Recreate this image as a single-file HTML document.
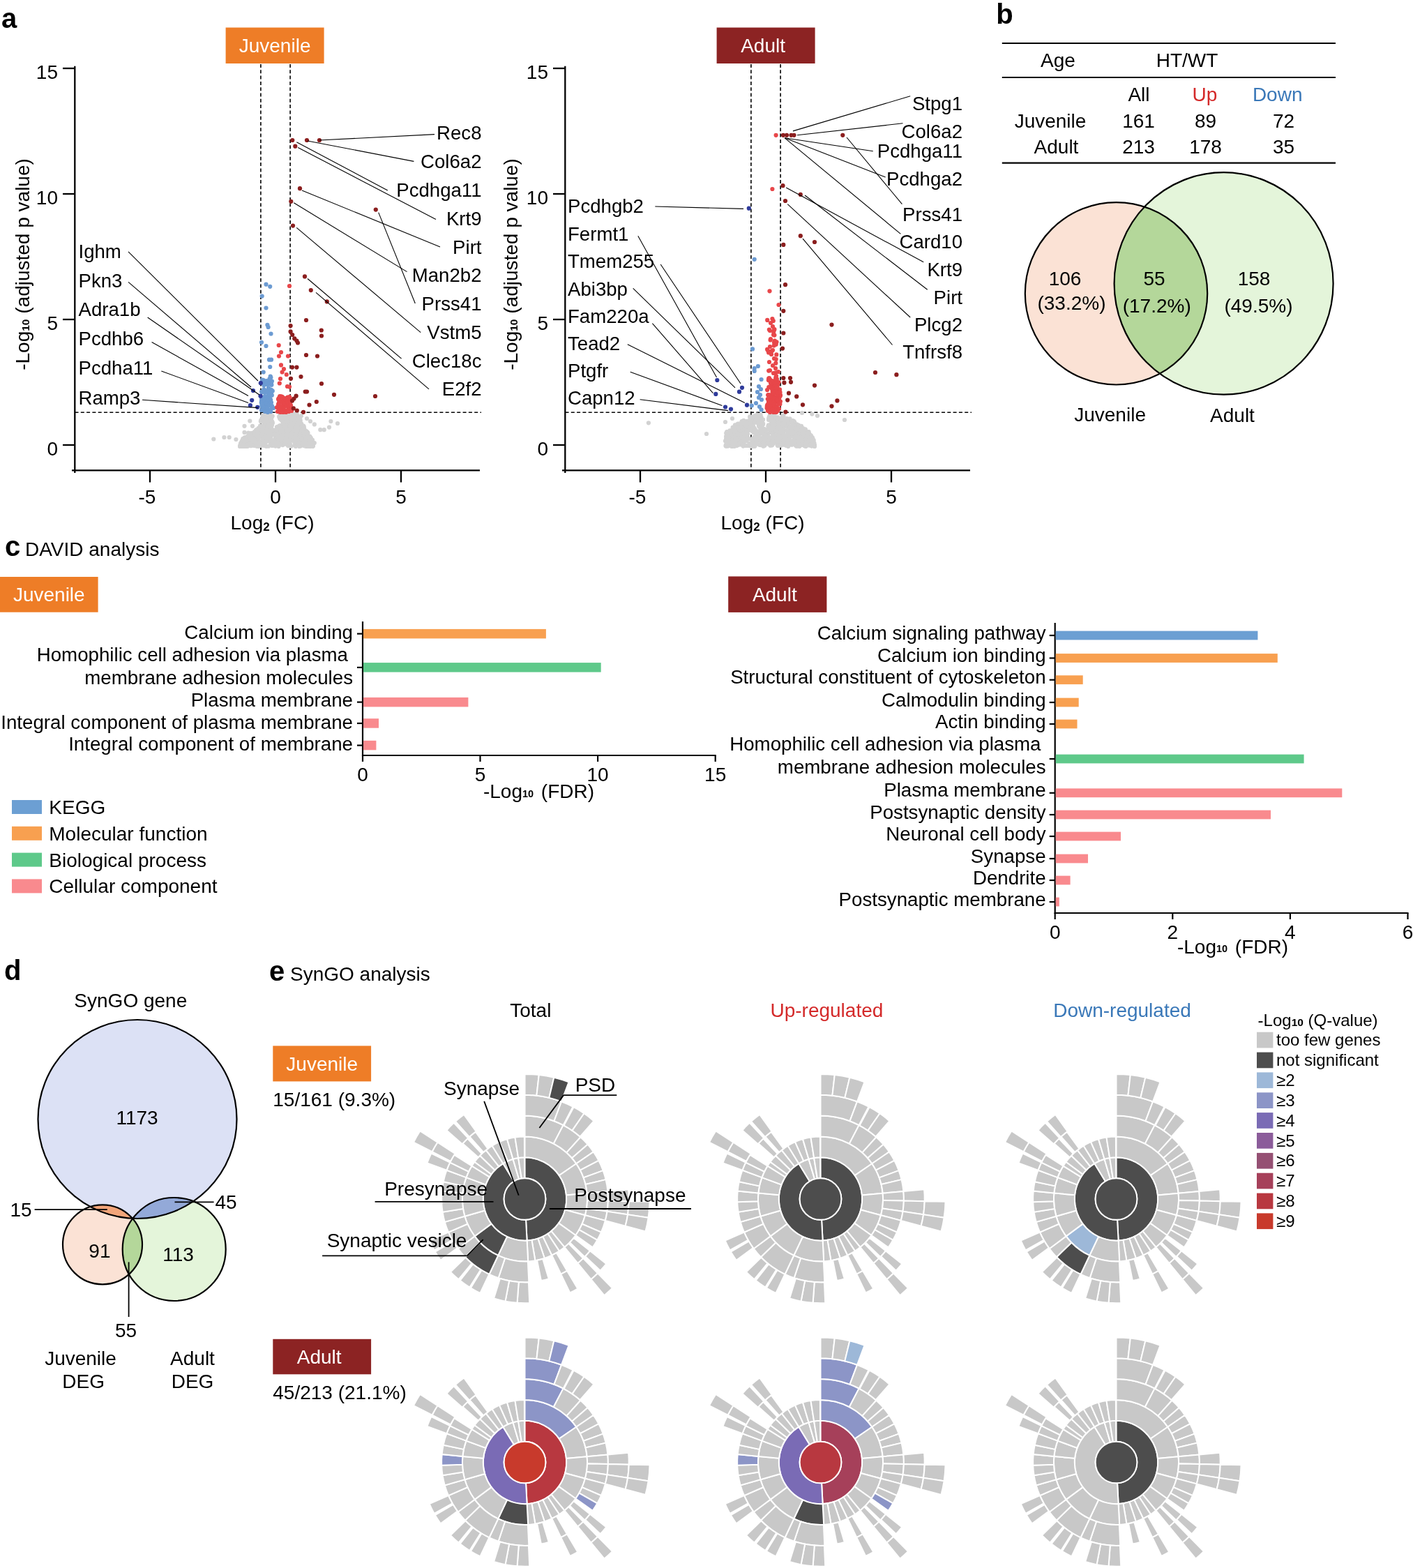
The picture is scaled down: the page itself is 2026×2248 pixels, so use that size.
<!DOCTYPE html>
<html><head><meta charset="utf-8"><title>Figure</title>
<style>html,body{margin:0;padding:0;background:#fff;} svg{display:block;} text{font-family:"Liberation Sans", Arial, Helvetica, sans-serif;}</style>
</head><body>
<svg width="2026" height="2248" viewBox="0 0 2026 2248" font-family='"Liberation Sans", Arial, Helvetica, sans-serif'>
<rect width="2026" height="2248" fill="#fff"/>
<text x="2.0" y="40.0" font-size="40" font-weight="bold">a</text>
<rect x="323.6" y="39.5" width="141.0" height="51.5" fill="#ee7d27"/>
<text x="394.1" y="75.3" font-size="28" text-anchor="middle" fill="#fff">Juvenile</text>
<line x1="373.9" y1="92.0" x2="373.9" y2="674.0" stroke="#000" stroke-width="1.6" stroke-dasharray="5,3.3"/>
<line x1="416.1" y1="92.0" x2="416.1" y2="674.0" stroke="#000" stroke-width="1.6" stroke-dasharray="5,3.3"/>
<line x1="107.5" y1="591.2" x2="690.0" y2="591.2" stroke="#000" stroke-width="1.6" stroke-dasharray="5,3.3"/>
<g fill="#d2d2d2">
<circle cx="358.1" cy="625.0" r="3.1"/>
<circle cx="424.2" cy="628.0" r="3.1"/>
<circle cx="396.0" cy="618.9" r="3.1"/>
<circle cx="412.4" cy="602.9" r="3.1"/>
<circle cx="353.9" cy="639.6" r="3.1"/>
<circle cx="431.8" cy="624.1" r="3.1"/>
<circle cx="424.0" cy="639.9" r="3.1"/>
<circle cx="390.8" cy="606.1" r="3.1"/>
<circle cx="368.0" cy="616.8" r="3.1"/>
<circle cx="438.6" cy="639.3" r="3.1"/>
<circle cx="346.7" cy="635.7" r="3.1"/>
<circle cx="442.6" cy="633.1" r="3.1"/>
<circle cx="366.7" cy="630.1" r="3.1"/>
<circle cx="347.0" cy="638.1" r="3.1"/>
<circle cx="390.0" cy="616.7" r="3.1"/>
<circle cx="368.5" cy="634.3" r="3.1"/>
<circle cx="367.0" cy="629.1" r="3.1"/>
<circle cx="374.4" cy="639.0" r="3.1"/>
<circle cx="431.9" cy="619.8" r="3.1"/>
<circle cx="411.4" cy="631.3" r="3.1"/>
<circle cx="448.2" cy="632.6" r="3.1"/>
<circle cx="356.7" cy="634.4" r="3.1"/>
<circle cx="419.8" cy="606.6" r="3.1"/>
<circle cx="442.3" cy="632.2" r="3.1"/>
<circle cx="431.2" cy="614.6" r="3.1"/>
<circle cx="375.9" cy="612.4" r="3.1"/>
<circle cx="436.7" cy="616.8" r="3.1"/>
<circle cx="397.1" cy="612.3" r="3.1"/>
<circle cx="347.6" cy="637.5" r="3.1"/>
<circle cx="427.7" cy="621.8" r="3.1"/>
<circle cx="362.2" cy="628.8" r="3.1"/>
<circle cx="417.8" cy="608.3" r="3.1"/>
<circle cx="383.3" cy="619.4" r="3.1"/>
<circle cx="398.7" cy="621.5" r="3.1"/>
<circle cx="395.4" cy="638.6" r="3.1"/>
<circle cx="348.6" cy="632.0" r="3.1"/>
<circle cx="447.2" cy="632.9" r="3.1"/>
<circle cx="385.3" cy="632.0" r="3.1"/>
<circle cx="424.9" cy="614.6" r="3.1"/>
<circle cx="434.3" cy="632.6" r="3.1"/>
<circle cx="404.7" cy="618.4" r="3.1"/>
<circle cx="372.3" cy="624.8" r="3.1"/>
<circle cx="444.5" cy="639.9" r="3.1"/>
<circle cx="426.3" cy="601.8" r="3.1"/>
<circle cx="437.0" cy="620.2" r="3.1"/>
<circle cx="429.0" cy="618.3" r="3.1"/>
<circle cx="402.9" cy="620.0" r="3.1"/>
<circle cx="349.9" cy="629.3" r="3.1"/>
<circle cx="403.8" cy="630.6" r="3.1"/>
<circle cx="397.0" cy="617.2" r="3.1"/>
<circle cx="381.5" cy="623.7" r="3.1"/>
<circle cx="400.5" cy="610.7" r="3.1"/>
<circle cx="408.3" cy="618.5" r="3.1"/>
<circle cx="346.9" cy="638.0" r="3.1"/>
<circle cx="362.6" cy="627.9" r="3.1"/>
<circle cx="434.4" cy="614.7" r="3.1"/>
<circle cx="427.7" cy="604.0" r="3.1"/>
<circle cx="370.8" cy="617.5" r="3.1"/>
<circle cx="414.7" cy="636.1" r="3.1"/>
<circle cx="345.8" cy="639.9" r="3.1"/>
<circle cx="423.3" cy="628.3" r="3.1"/>
<circle cx="355.5" cy="630.0" r="3.1"/>
<circle cx="380.2" cy="636.7" r="3.1"/>
<circle cx="360.8" cy="629.7" r="3.1"/>
<circle cx="361.7" cy="634.5" r="3.1"/>
<circle cx="418.7" cy="618.6" r="3.1"/>
<circle cx="377.8" cy="617.7" r="3.1"/>
<circle cx="346.5" cy="637.1" r="3.1"/>
<circle cx="388.2" cy="631.2" r="3.1"/>
<circle cx="355.4" cy="625.7" r="3.1"/>
<circle cx="397.6" cy="630.2" r="3.1"/>
<circle cx="407.6" cy="601.6" r="3.1"/>
<circle cx="346.2" cy="639.9" r="3.1"/>
<circle cx="359.4" cy="626.6" r="3.1"/>
<circle cx="360.8" cy="626.2" r="3.1"/>
<circle cx="415.2" cy="614.4" r="3.1"/>
<circle cx="367.2" cy="616.7" r="3.1"/>
<circle cx="427.8" cy="617.3" r="3.1"/>
<circle cx="367.4" cy="624.4" r="3.1"/>
<circle cx="385.5" cy="612.9" r="3.1"/>
<circle cx="377.7" cy="610.3" r="3.1"/>
<circle cx="350.2" cy="636.3" r="3.1"/>
<circle cx="445.6" cy="627.6" r="3.1"/>
<circle cx="376.2" cy="599.6" r="3.1"/>
<circle cx="376.6" cy="595.9" r="3.1"/>
<circle cx="422.1" cy="620.4" r="3.1"/>
<circle cx="370.5" cy="639.8" r="3.1"/>
<circle cx="436.3" cy="638.9" r="3.1"/>
<circle cx="430.0" cy="601.6" r="3.1"/>
<circle cx="403.9" cy="631.9" r="3.1"/>
<circle cx="435.1" cy="610.5" r="3.1"/>
<circle cx="417.9" cy="616.1" r="3.1"/>
<circle cx="383.7" cy="623.7" r="3.1"/>
<circle cx="365.6" cy="624.7" r="3.1"/>
<circle cx="389.5" cy="630.9" r="3.1"/>
<circle cx="355.0" cy="629.6" r="3.1"/>
<circle cx="375.1" cy="616.5" r="3.1"/>
<circle cx="378.2" cy="599.0" r="3.1"/>
<circle cx="438.5" cy="639.6" r="3.1"/>
<circle cx="365.1" cy="632.7" r="3.1"/>
<circle cx="447.6" cy="631.0" r="3.1"/>
<circle cx="379.6" cy="630.0" r="3.1"/>
<circle cx="414.8" cy="600.6" r="3.1"/>
<circle cx="441.9" cy="633.4" r="3.1"/>
<circle cx="436.7" cy="621.1" r="3.1"/>
<circle cx="368.6" cy="621.8" r="3.1"/>
<circle cx="352.9" cy="637.6" r="3.1"/>
<circle cx="439.7" cy="635.3" r="3.1"/>
<circle cx="423.7" cy="611.8" r="3.1"/>
<circle cx="432.3" cy="626.9" r="3.1"/>
<circle cx="379.7" cy="626.3" r="3.1"/>
<circle cx="435.1" cy="621.6" r="3.1"/>
<circle cx="444.2" cy="625.7" r="3.1"/>
<circle cx="358.2" cy="630.2" r="3.1"/>
<circle cx="354.9" cy="639.4" r="3.1"/>
<circle cx="351.7" cy="628.3" r="3.1"/>
<circle cx="426.8" cy="602.2" r="3.1"/>
<circle cx="379.8" cy="611.1" r="3.1"/>
<circle cx="426.1" cy="622.3" r="3.1"/>
<circle cx="403.9" cy="629.5" r="3.1"/>
<circle cx="352.6" cy="636.3" r="3.1"/>
<circle cx="437.5" cy="625.5" r="3.1"/>
<circle cx="441.1" cy="630.8" r="3.1"/>
<circle cx="373.1" cy="613.4" r="3.1"/>
<circle cx="430.9" cy="639.5" r="3.1"/>
<circle cx="414.4" cy="635.7" r="3.1"/>
<circle cx="356.1" cy="625.5" r="3.1"/>
<circle cx="348.2" cy="637.3" r="3.1"/>
<circle cx="447.8" cy="635.2" r="3.1"/>
<circle cx="356.1" cy="637.3" r="3.1"/>
<circle cx="369.3" cy="621.0" r="3.1"/>
<circle cx="354.8" cy="625.9" r="3.1"/>
<circle cx="383.7" cy="594.4" r="3.1"/>
<circle cx="439.5" cy="633.4" r="3.1"/>
<circle cx="370.6" cy="627.3" r="3.1"/>
<circle cx="354.5" cy="630.0" r="3.1"/>
<circle cx="348.2" cy="639.9" r="3.1"/>
<circle cx="447.2" cy="636.4" r="3.1"/>
<circle cx="406.6" cy="618.9" r="3.1"/>
<circle cx="376.9" cy="637.0" r="3.1"/>
<circle cx="439.9" cy="618.9" r="3.1"/>
<circle cx="445.8" cy="638.5" r="3.1"/>
<circle cx="366.6" cy="625.5" r="3.1"/>
<circle cx="446.9" cy="633.2" r="3.1"/>
<circle cx="416.3" cy="608.9" r="3.1"/>
<circle cx="371.2" cy="625.4" r="3.1"/>
<circle cx="376.3" cy="628.4" r="3.1"/>
<circle cx="352.5" cy="636.1" r="3.1"/>
<circle cx="447.3" cy="634.6" r="3.1"/>
<circle cx="412.5" cy="609.8" r="3.1"/>
<circle cx="442.8" cy="633.0" r="3.1"/>
<circle cx="376.2" cy="624.6" r="3.1"/>
<circle cx="377.3" cy="600.2" r="3.1"/>
<circle cx="437.8" cy="632.4" r="3.1"/>
<circle cx="379.1" cy="614.4" r="3.1"/>
<circle cx="404.8" cy="612.0" r="3.1"/>
<circle cx="369.7" cy="639.5" r="3.1"/>
<circle cx="369.6" cy="638.1" r="3.1"/>
<circle cx="401.9" cy="636.7" r="3.1"/>
<circle cx="351.9" cy="631.4" r="3.1"/>
<circle cx="374.5" cy="602.8" r="3.1"/>
<circle cx="360.2" cy="630.4" r="3.1"/>
<circle cx="427.5" cy="636.6" r="3.1"/>
<circle cx="443.7" cy="637.1" r="3.1"/>
<circle cx="425.5" cy="593.7" r="3.1"/>
<circle cx="430.3" cy="627.4" r="3.1"/>
<circle cx="355.2" cy="631.9" r="3.1"/>
<circle cx="440.5" cy="633.8" r="3.1"/>
<circle cx="437.8" cy="636.4" r="3.1"/>
<circle cx="439.6" cy="639.3" r="3.1"/>
<circle cx="377.2" cy="597.6" r="3.1"/>
<circle cx="428.4" cy="601.2" r="3.1"/>
<circle cx="432.3" cy="613.4" r="3.1"/>
<circle cx="416.4" cy="631.6" r="3.1"/>
<circle cx="389.4" cy="632.6" r="3.1"/>
<circle cx="419.1" cy="608.6" r="3.1"/>
<circle cx="370.5" cy="638.3" r="3.1"/>
<circle cx="445.2" cy="628.0" r="3.1"/>
<circle cx="401.7" cy="614.6" r="3.1"/>
<circle cx="433.4" cy="624.8" r="3.1"/>
<circle cx="385.5" cy="624.1" r="3.1"/>
<circle cx="371.1" cy="639.3" r="3.1"/>
<circle cx="411.9" cy="620.4" r="3.1"/>
<circle cx="403.9" cy="637.1" r="3.1"/>
<circle cx="381.3" cy="633.5" r="3.1"/>
<circle cx="357.1" cy="635.6" r="3.1"/>
<circle cx="431.0" cy="624.9" r="3.1"/>
<circle cx="386.1" cy="611.2" r="3.1"/>
<circle cx="368.5" cy="639.8" r="3.1"/>
<circle cx="399.5" cy="616.5" r="3.1"/>
<circle cx="412.1" cy="619.4" r="3.1"/>
<circle cx="416.1" cy="605.6" r="3.1"/>
<circle cx="369.0" cy="627.5" r="3.1"/>
<circle cx="394.3" cy="629.4" r="3.1"/>
<circle cx="387.3" cy="613.7" r="3.1"/>
<circle cx="439.2" cy="619.2" r="3.1"/>
<circle cx="372.9" cy="619.5" r="3.1"/>
<circle cx="349.1" cy="639.2" r="3.1"/>
<circle cx="360.7" cy="625.1" r="3.1"/>
<circle cx="436.7" cy="631.5" r="3.1"/>
<circle cx="416.7" cy="600.1" r="3.1"/>
<circle cx="383.0" cy="607.0" r="3.1"/>
<circle cx="421.3" cy="612.1" r="3.1"/>
<circle cx="433.9" cy="610.8" r="3.1"/>
<circle cx="444.8" cy="631.3" r="3.1"/>
<circle cx="362.5" cy="634.8" r="3.1"/>
<circle cx="366.8" cy="626.5" r="3.1"/>
<circle cx="423.6" cy="637.5" r="3.1"/>
<circle cx="415.6" cy="606.3" r="3.1"/>
<circle cx="380.5" cy="615.8" r="3.1"/>
<circle cx="361.3" cy="625.5" r="3.1"/>
<circle cx="348.3" cy="629.0" r="3.1"/>
<circle cx="428.8" cy="613.6" r="3.1"/>
<circle cx="372.1" cy="614.7" r="3.1"/>
<circle cx="444.7" cy="637.9" r="3.1"/>
<circle cx="425.5" cy="600.4" r="3.1"/>
<circle cx="413.3" cy="607.1" r="3.1"/>
<circle cx="390.7" cy="596.6" r="3.1"/>
<circle cx="446.0" cy="634.8" r="3.1"/>
<circle cx="428.3" cy="621.4" r="3.1"/>
<circle cx="361.3" cy="633.5" r="3.1"/>
<circle cx="357.3" cy="624.4" r="3.1"/>
<circle cx="444.7" cy="638.2" r="3.1"/>
<circle cx="407.1" cy="620.8" r="3.1"/>
<circle cx="356.4" cy="635.1" r="3.1"/>
<circle cx="370.1" cy="620.4" r="3.1"/>
<circle cx="344.4" cy="639.7" r="3.1"/>
<circle cx="390.1" cy="639.0" r="3.1"/>
<circle cx="409.9" cy="611.5" r="3.1"/>
<circle cx="431.7" cy="632.4" r="3.1"/>
<circle cx="373.9" cy="617.6" r="3.1"/>
<circle cx="372.7" cy="622.5" r="3.1"/>
<circle cx="370.3" cy="622.0" r="3.1"/>
<circle cx="427.1" cy="603.5" r="3.1"/>
<circle cx="446.2" cy="632.7" r="3.1"/>
<circle cx="424.8" cy="613.2" r="3.1"/>
<circle cx="384.2" cy="626.6" r="3.1"/>
<circle cx="355.4" cy="627.2" r="3.1"/>
<circle cx="356.4" cy="627.6" r="3.1"/>
<circle cx="401.3" cy="594.6" r="3.1"/>
<circle cx="423.9" cy="594.2" r="3.1"/>
<circle cx="358.3" cy="631.0" r="3.1"/>
<circle cx="404.1" cy="625.4" r="3.1"/>
<circle cx="396.8" cy="623.2" r="3.1"/>
<circle cx="399.5" cy="640.0" r="3.1"/>
<circle cx="390.4" cy="618.9" r="3.1"/>
<circle cx="376.0" cy="621.2" r="3.1"/>
<circle cx="426.2" cy="608.1" r="3.1"/>
<circle cx="383.6" cy="630.4" r="3.1"/>
<circle cx="344.4" cy="639.5" r="3.1"/>
<circle cx="406.8" cy="598.6" r="3.1"/>
<circle cx="431.1" cy="620.6" r="3.1"/>
<circle cx="447.6" cy="634.7" r="3.1"/>
<circle cx="431.6" cy="624.9" r="3.1"/>
<circle cx="422.2" cy="593.6" r="3.1"/>
<circle cx="376.1" cy="632.0" r="3.1"/>
<circle cx="409.1" cy="615.0" r="3.1"/>
<circle cx="381.7" cy="639.8" r="3.1"/>
<circle cx="384.9" cy="620.0" r="3.1"/>
<circle cx="386.6" cy="599.5" r="3.1"/>
<circle cx="405.4" cy="605.5" r="3.1"/>
<circle cx="438.3" cy="621.8" r="3.1"/>
<circle cx="411.2" cy="609.5" r="3.1"/>
<circle cx="410.1" cy="620.9" r="3.1"/>
<circle cx="410.1" cy="610.2" r="3.1"/>
<circle cx="442.4" cy="625.5" r="3.1"/>
<circle cx="432.9" cy="613.4" r="3.1"/>
<circle cx="429.6" cy="615.4" r="3.1"/>
<circle cx="380.7" cy="627.6" r="3.1"/>
<circle cx="418.3" cy="598.9" r="3.1"/>
<circle cx="401.1" cy="632.9" r="3.1"/>
<circle cx="431.5" cy="622.0" r="3.1"/>
<circle cx="393.0" cy="637.9" r="3.1"/>
<circle cx="388.4" cy="623.3" r="3.1"/>
<circle cx="413.0" cy="639.1" r="3.1"/>
<circle cx="416.5" cy="621.1" r="3.1"/>
<circle cx="416.3" cy="611.6" r="3.1"/>
<circle cx="365.9" cy="635.2" r="3.1"/>
<circle cx="437.0" cy="632.8" r="3.1"/>
<circle cx="351.9" cy="628.7" r="3.1"/>
<circle cx="398.9" cy="622.7" r="3.1"/>
<circle cx="361.7" cy="626.9" r="3.1"/>
<circle cx="418.9" cy="601.7" r="3.1"/>
<circle cx="372.3" cy="623.0" r="3.1"/>
<circle cx="368.4" cy="626.1" r="3.1"/>
<circle cx="362.1" cy="623.9" r="3.1"/>
<circle cx="435.0" cy="629.9" r="3.1"/>
<circle cx="367.3" cy="616.8" r="3.1"/>
<circle cx="418.2" cy="600.3" r="3.1"/>
<circle cx="347.2" cy="631.8" r="3.1"/>
<circle cx="409.4" cy="625.1" r="3.1"/>
<circle cx="389.3" cy="604.2" r="3.1"/>
<circle cx="426.5" cy="631.2" r="3.1"/>
<circle cx="409.7" cy="632.2" r="3.1"/>
<circle cx="446.2" cy="634.0" r="3.1"/>
<circle cx="439.9" cy="624.1" r="3.1"/>
<circle cx="407.7" cy="627.7" r="3.1"/>
<circle cx="399.3" cy="633.5" r="3.1"/>
<circle cx="358.5" cy="627.1" r="3.1"/>
<circle cx="381.9" cy="604.7" r="3.1"/>
<circle cx="369.3" cy="621.7" r="3.1"/>
<circle cx="419.4" cy="625.6" r="3.1"/>
<circle cx="355.2" cy="633.7" r="3.1"/>
<circle cx="395.7" cy="635.3" r="3.1"/>
<circle cx="363.6" cy="638.8" r="3.1"/>
<circle cx="406.7" cy="598.2" r="3.1"/>
<circle cx="366.7" cy="639.2" r="3.1"/>
<circle cx="417.9" cy="601.7" r="3.1"/>
<circle cx="445.2" cy="631.0" r="3.1"/>
<circle cx="380.0" cy="600.6" r="3.1"/>
<circle cx="356.4" cy="628.5" r="3.1"/>
<circle cx="354.0" cy="634.0" r="3.1"/>
<circle cx="396.0" cy="622.2" r="3.1"/>
<circle cx="361.7" cy="635.3" r="3.1"/>
<circle cx="430.1" cy="621.6" r="3.1"/>
<circle cx="404.9" cy="630.0" r="3.1"/>
<circle cx="419.1" cy="624.5" r="3.1"/>
<circle cx="406.3" cy="597.3" r="3.1"/>
<circle cx="448.4" cy="639.7" r="3.1"/>
<circle cx="427.7" cy="602.3" r="3.1"/>
<circle cx="377.6" cy="622.0" r="3.1"/>
<circle cx="404.9" cy="596.8" r="3.1"/>
<circle cx="386.0" cy="598.6" r="3.1"/>
<circle cx="423.6" cy="632.8" r="3.1"/>
<circle cx="439.9" cy="639.7" r="3.1"/>
<circle cx="359.2" cy="627.7" r="3.1"/>
<circle cx="350.0" cy="635.3" r="3.1"/>
<circle cx="357.6" cy="631.9" r="3.1"/>
<circle cx="432.2" cy="607.5" r="3.1"/>
<circle cx="347.7" cy="639.4" r="3.1"/>
<circle cx="432.3" cy="638.5" r="3.1"/>
<circle cx="372.7" cy="636.5" r="3.1"/>
<circle cx="353.6" cy="639.6" r="3.1"/>
<circle cx="410.9" cy="605.0" r="3.1"/>
<circle cx="416.1" cy="600.3" r="3.1"/>
<circle cx="413.6" cy="621.7" r="3.1"/>
<circle cx="410.3" cy="594.4" r="3.1"/>
<circle cx="411.4" cy="628.6" r="3.1"/>
<circle cx="350.3" cy="628.3" r="3.1"/>
<circle cx="406.0" cy="623.6" r="3.1"/>
<circle cx="407.6" cy="613.7" r="3.1"/>
<circle cx="398.8" cy="637.1" r="3.1"/>
<circle cx="381.1" cy="620.6" r="3.1"/>
<circle cx="364.9" cy="620.4" r="3.1"/>
<circle cx="388.5" cy="608.9" r="3.1"/>
<circle cx="418.9" cy="605.1" r="3.1"/>
<circle cx="419.7" cy="604.6" r="3.1"/>
<circle cx="370.4" cy="614.2" r="3.1"/>
<circle cx="359.9" cy="622.6" r="3.1"/>
<circle cx="433.7" cy="611.9" r="3.1"/>
<circle cx="349.5" cy="638.9" r="3.1"/>
<circle cx="429.4" cy="620.7" r="3.1"/>
<circle cx="382.9" cy="593.7" r="3.1"/>
<circle cx="348.2" cy="634.1" r="3.1"/>
<circle cx="390.6" cy="634.0" r="3.1"/>
<circle cx="385.5" cy="606.7" r="3.1"/>
<circle cx="436.6" cy="639.3" r="3.1"/>
<circle cx="399.1" cy="635.8" r="3.1"/>
<circle cx="428.0" cy="636.3" r="3.1"/>
<circle cx="347.6" cy="636.1" r="3.1"/>
<circle cx="420.9" cy="625.3" r="3.1"/>
<circle cx="357.7" cy="626.1" r="3.1"/>
<circle cx="428.7" cy="603.9" r="3.1"/>
<circle cx="375.9" cy="620.0" r="3.1"/>
<circle cx="369.8" cy="625.6" r="3.1"/>
<circle cx="378.7" cy="624.1" r="3.1"/>
<circle cx="426.3" cy="595.5" r="3.1"/>
<circle cx="405.3" cy="635.1" r="3.1"/>
<circle cx="412.5" cy="618.9" r="3.1"/>
<circle cx="447.7" cy="631.8" r="3.1"/>
<circle cx="431.7" cy="614.1" r="3.1"/>
<circle cx="400.2" cy="597.8" r="3.1"/>
<circle cx="431.3" cy="629.1" r="3.1"/>
<circle cx="360.5" cy="632.8" r="3.1"/>
<circle cx="398.7" cy="635.4" r="3.1"/>
<circle cx="380.3" cy="613.0" r="3.1"/>
<circle cx="348.6" cy="630.7" r="3.1"/>
<circle cx="412.4" cy="625.3" r="3.1"/>
<circle cx="375.3" cy="623.4" r="3.1"/>
<circle cx="378.2" cy="604.8" r="3.1"/>
<circle cx="396.6" cy="615.3" r="3.1"/>
<circle cx="359.6" cy="622.9" r="3.1"/>
<circle cx="378.2" cy="624.6" r="3.1"/>
<circle cx="351.2" cy="627.1" r="3.1"/>
<circle cx="441.4" cy="620.8" r="3.1"/>
<circle cx="429.6" cy="602.4" r="3.1"/>
<circle cx="440.8" cy="623.5" r="3.1"/>
<circle cx="358.1" cy="630.7" r="3.1"/>
<circle cx="404.4" cy="593.4" r="3.1"/>
<circle cx="426.3" cy="607.3" r="3.1"/>
<circle cx="422.4" cy="623.0" r="3.1"/>
<circle cx="442.9" cy="628.6" r="3.1"/>
<circle cx="386.3" cy="618.2" r="3.1"/>
<circle cx="446.9" cy="633.3" r="3.1"/>
<circle cx="361.6" cy="637.0" r="3.1"/>
<circle cx="416.2" cy="613.5" r="3.1"/>
<circle cx="439.2" cy="635.8" r="3.1"/>
<circle cx="387.2" cy="605.8" r="3.1"/>
<circle cx="349.3" cy="638.8" r="3.1"/>
<circle cx="401.3" cy="627.5" r="3.1"/>
<circle cx="355.2" cy="635.9" r="3.1"/>
<circle cx="410.4" cy="615.3" r="3.1"/>
<circle cx="352.2" cy="639.0" r="3.1"/>
<circle cx="433.3" cy="618.3" r="3.1"/>
<circle cx="362.2" cy="622.4" r="3.1"/>
<circle cx="346.3" cy="637.4" r="3.1"/>
<circle cx="433.0" cy="615.6" r="3.1"/>
<circle cx="373.8" cy="604.1" r="3.1"/>
<circle cx="406.8" cy="599.3" r="3.1"/>
<circle cx="437.7" cy="629.2" r="3.1"/>
<circle cx="414.9" cy="614.4" r="3.1"/>
<circle cx="443.2" cy="626.1" r="3.1"/>
<circle cx="420.2" cy="601.7" r="3.1"/>
<circle cx="448.8" cy="639.5" r="3.1"/>
<circle cx="365.1" cy="623.3" r="3.1"/>
<circle cx="424.9" cy="615.8" r="3.1"/>
<circle cx="395.1" cy="621.0" r="3.1"/>
<circle cx="436.7" cy="618.2" r="3.1"/>
<circle cx="405.4" cy="638.1" r="3.1"/>
<circle cx="433.4" cy="624.6" r="3.1"/>
<circle cx="363.9" cy="633.5" r="3.1"/>
<circle cx="416.6" cy="639.7" r="3.1"/>
<circle cx="356.6" cy="634.9" r="3.1"/>
<circle cx="437.2" cy="620.2" r="3.1"/>
<circle cx="445.9" cy="632.5" r="3.1"/>
<circle cx="404.1" cy="614.1" r="3.1"/>
<circle cx="399.2" cy="614.5" r="3.1"/>
<circle cx="429.9" cy="601.8" r="3.1"/>
<circle cx="386.9" cy="610.4" r="3.1"/>
<circle cx="376.3" cy="625.8" r="3.1"/>
<circle cx="397.2" cy="612.4" r="3.1"/>
<circle cx="401.7" cy="594.1" r="3.1"/>
<circle cx="361.1" cy="627.4" r="3.1"/>
<circle cx="448.4" cy="635.4" r="3.1"/>
<circle cx="403.4" cy="622.7" r="3.1"/>
<circle cx="386.2" cy="596.0" r="3.1"/>
<circle cx="438.0" cy="623.3" r="3.1"/>
<circle cx="438.4" cy="617.6" r="3.1"/>
<circle cx="432.9" cy="626.7" r="3.1"/>
<circle cx="383.1" cy="604.8" r="3.1"/>
<circle cx="394.5" cy="624.2" r="3.1"/>
<circle cx="391.9" cy="634.5" r="3.1"/>
<circle cx="381.2" cy="620.5" r="3.1"/>
<circle cx="345.9" cy="638.9" r="3.1"/>
<circle cx="371.3" cy="616.8" r="3.1"/>
<circle cx="405.9" cy="626.5" r="3.1"/>
<circle cx="448.8" cy="639.3" r="3.1"/>
<circle cx="416.6" cy="619.6" r="3.1"/>
<circle cx="425.6" cy="617.2" r="3.1"/>
<circle cx="419.1" cy="616.9" r="3.1"/>
<circle cx="446.0" cy="630.2" r="3.1"/>
<circle cx="353.6" cy="638.1" r="3.1"/>
<circle cx="445.5" cy="636.7" r="3.1"/>
<circle cx="346.7" cy="638.0" r="3.1"/>
<circle cx="385.9" cy="606.0" r="3.1"/>
<circle cx="431.6" cy="636.7" r="3.1"/>
<circle cx="408.2" cy="593.2" r="3.1"/>
<circle cx="401.7" cy="614.9" r="3.1"/>
<circle cx="380.4" cy="595.5" r="3.1"/>
<circle cx="445.8" cy="638.6" r="3.1"/>
<circle cx="402.0" cy="620.3" r="3.1"/>
<circle cx="414.5" cy="634.4" r="3.1"/>
<circle cx="371.9" cy="632.3" r="3.1"/>
<circle cx="434.1" cy="614.6" r="3.1"/>
<circle cx="415.1" cy="635.9" r="3.1"/>
<circle cx="384.9" cy="608.6" r="3.1"/>
<circle cx="374.9" cy="616.1" r="3.1"/>
<circle cx="439.0" cy="637.3" r="3.1"/>
<circle cx="433.7" cy="636.5" r="3.1"/>
<circle cx="384.6" cy="597.4" r="3.1"/>
<circle cx="365.1" cy="628.3" r="3.1"/>
<circle cx="387.7" cy="598.3" r="3.1"/>
<circle cx="448.2" cy="637.4" r="3.1"/>
<circle cx="401.2" cy="629.9" r="3.1"/>
<circle cx="423.8" cy="624.2" r="3.1"/>
<circle cx="395.0" cy="639.6" r="3.1"/>
<circle cx="447.8" cy="632.6" r="3.1"/>
<circle cx="441.2" cy="620.6" r="3.1"/>
<circle cx="372.1" cy="625.0" r="3.1"/>
<circle cx="390.2" cy="604.3" r="3.1"/>
<circle cx="432.5" cy="631.9" r="3.1"/>
<circle cx="372.8" cy="618.0" r="3.1"/>
<circle cx="387.2" cy="633.9" r="3.1"/>
<circle cx="364.5" cy="627.7" r="3.1"/>
<circle cx="406.8" cy="594.9" r="3.1"/>
<circle cx="399.9" cy="611.4" r="3.1"/>
<circle cx="359.6" cy="632.2" r="3.1"/>
<circle cx="373.4" cy="614.7" r="3.1"/>
<circle cx="372.0" cy="634.1" r="3.1"/>
<circle cx="382.6" cy="617.9" r="3.1"/>
<circle cx="379.5" cy="611.5" r="3.1"/>
<circle cx="363.0" cy="621.5" r="3.1"/>
<circle cx="416.9" cy="614.9" r="3.1"/>
<circle cx="350.1" cy="636.0" r="3.1"/>
<circle cx="416.5" cy="609.7" r="3.1"/>
<circle cx="429.3" cy="603.2" r="3.1"/>
<circle cx="377.1" cy="616.8" r="3.1"/>
<circle cx="378.7" cy="634.0" r="3.1"/>
<circle cx="358.7" cy="635.3" r="3.1"/>
<circle cx="353.2" cy="632.2" r="3.1"/>
<circle cx="417.8" cy="613.5" r="3.1"/>
<circle cx="415.9" cy="629.4" r="3.1"/>
<circle cx="364.9" cy="627.3" r="3.1"/>
<circle cx="436.8" cy="628.6" r="3.1"/>
<circle cx="344.4" cy="640.0" r="3.1"/>
<circle cx="376.1" cy="611.1" r="3.1"/>
<circle cx="352.9" cy="636.8" r="3.1"/>
<circle cx="415.5" cy="593.7" r="3.1"/>
<circle cx="379.8" cy="611.7" r="3.1"/>
<circle cx="398.4" cy="638.9" r="3.1"/>
<circle cx="378.6" cy="633.4" r="3.1"/>
<circle cx="370.3" cy="619.7" r="3.1"/>
<circle cx="415.5" cy="638.1" r="3.1"/>
<circle cx="352.1" cy="630.0" r="3.1"/>
<circle cx="354.8" cy="635.1" r="3.1"/>
<circle cx="372.3" cy="638.6" r="3.1"/>
<circle cx="347.3" cy="638.7" r="3.1"/>
<circle cx="385.9" cy="596.1" r="3.1"/>
<circle cx="411.0" cy="628.6" r="3.1"/>
<circle cx="415.4" cy="627.1" r="3.1"/>
<circle cx="398.1" cy="624.9" r="3.1"/>
<circle cx="443.6" cy="634.1" r="3.1"/>
<circle cx="428.4" cy="612.5" r="3.1"/>
<circle cx="432.5" cy="618.7" r="3.1"/>
<circle cx="435.4" cy="627.9" r="3.1"/>
<circle cx="415.3" cy="610.8" r="3.1"/>
<circle cx="399.4" cy="613.5" r="3.1"/>
<circle cx="400.3" cy="621.5" r="3.1"/>
<circle cx="438.3" cy="624.6" r="3.1"/>
<circle cx="401.7" cy="637.5" r="3.1"/>
<circle cx="397.4" cy="631.8" r="3.1"/>
<circle cx="366.6" cy="629.8" r="3.1"/>
<circle cx="401.3" cy="628.2" r="3.1"/>
<circle cx="372.4" cy="625.2" r="3.1"/>
<circle cx="393.7" cy="621.0" r="3.1"/>
<circle cx="354.9" cy="634.2" r="3.1"/>
<circle cx="412.7" cy="614.4" r="3.1"/>
<circle cx="401.2" cy="600.3" r="3.1"/>
<circle cx="419.9" cy="607.8" r="3.1"/>
<circle cx="347.2" cy="637.2" r="3.1"/>
<circle cx="415.7" cy="632.7" r="3.1"/>
<circle cx="439.9" cy="636.9" r="3.1"/>
<circle cx="436.3" cy="633.9" r="3.1"/>
<circle cx="432.4" cy="609.9" r="3.1"/>
<circle cx="379.2" cy="598.2" r="3.1"/>
<circle cx="360.8" cy="623.4" r="3.1"/>
<circle cx="384.1" cy="619.3" r="3.1"/>
<circle cx="356.4" cy="630.0" r="3.1"/>
<circle cx="372.3" cy="621.4" r="3.1"/>
<circle cx="427.9" cy="613.7" r="3.1"/>
<circle cx="344.9" cy="636.7" r="3.1"/>
<circle cx="440.6" cy="626.6" r="3.1"/>
<circle cx="383.8" cy="613.6" r="3.1"/>
<circle cx="436.7" cy="627.4" r="3.1"/>
<circle cx="425.8" cy="611.9" r="3.1"/>
<circle cx="388.3" cy="596.1" r="3.1"/>
<circle cx="386.9" cy="611.5" r="3.1"/>
<circle cx="349.6" cy="634.3" r="3.1"/>
<circle cx="347.9" cy="632.4" r="3.1"/>
<circle cx="344.1" cy="640.0" r="3.1"/>
<circle cx="355.7" cy="637.8" r="3.1"/>
<circle cx="397.3" cy="623.3" r="3.1"/>
<circle cx="372.4" cy="612.5" r="3.1"/>
<circle cx="439.4" cy="625.3" r="3.1"/>
<circle cx="428.2" cy="604.7" r="3.1"/>
<circle cx="369.7" cy="619.1" r="3.1"/>
<circle cx="369.2" cy="625.7" r="3.1"/>
<circle cx="381.6" cy="632.5" r="3.1"/>
<circle cx="425.6" cy="596.9" r="3.1"/>
<circle cx="376.9" cy="598.7" r="3.1"/>
<circle cx="380.4" cy="609.1" r="3.1"/>
<circle cx="448.6" cy="636.2" r="3.1"/>
<circle cx="349.8" cy="634.7" r="3.1"/>
<circle cx="383.5" cy="626.2" r="3.1"/>
<circle cx="429.7" cy="622.1" r="3.1"/>
<circle cx="417.4" cy="610.2" r="3.1"/>
<circle cx="398.5" cy="637.4" r="3.1"/>
<circle cx="414.7" cy="598.1" r="3.1"/>
<circle cx="362.1" cy="626.9" r="3.1"/>
<circle cx="395.2" cy="624.0" r="3.1"/>
<circle cx="418.6" cy="594.2" r="3.1"/>
<circle cx="346.3" cy="633.7" r="3.1"/>
<circle cx="384.2" cy="600.8" r="3.1"/>
<circle cx="362.3" cy="625.3" r="3.1"/>
<circle cx="354.5" cy="634.9" r="3.1"/>
<circle cx="445.8" cy="630.9" r="3.1"/>
<circle cx="426.4" cy="618.6" r="3.1"/>
<circle cx="393.5" cy="616.8" r="3.1"/>
<circle cx="425.2" cy="606.0" r="3.1"/>
<circle cx="364.3" cy="630.4" r="3.1"/>
<circle cx="400.9" cy="613.1" r="3.1"/>
<circle cx="441.3" cy="623.3" r="3.1"/>
<circle cx="359.7" cy="632.9" r="3.1"/>
<circle cx="355.4" cy="639.6" r="3.1"/>
<circle cx="351.8" cy="637.5" r="3.1"/>
<circle cx="424.4" cy="608.6" r="3.1"/>
<circle cx="427.8" cy="627.3" r="3.1"/>
<circle cx="360.3" cy="621.3" r="3.1"/>
<circle cx="430.7" cy="603.4" r="3.1"/>
<circle cx="346.0" cy="637.5" r="3.1"/>
<circle cx="410.5" cy="605.4" r="3.1"/>
<circle cx="439.8" cy="628.2" r="3.1"/>
<circle cx="385.0" cy="639.7" r="3.1"/>
<circle cx="428.4" cy="598.0" r="3.1"/>
<circle cx="439.3" cy="625.0" r="3.1"/>
<circle cx="380.0" cy="628.8" r="3.1"/>
<circle cx="425.4" cy="596.0" r="3.1"/>
<circle cx="444.8" cy="637.3" r="3.1"/>
<circle cx="405.5" cy="615.9" r="3.1"/>
<circle cx="388.9" cy="602.7" r="3.1"/>
<circle cx="442.3" cy="626.5" r="3.1"/>
<circle cx="417.5" cy="607.5" r="3.1"/>
<circle cx="412.6" cy="614.8" r="3.1"/>
<circle cx="370.0" cy="619.7" r="3.1"/>
<circle cx="356.5" cy="629.3" r="3.1"/>
<circle cx="384.6" cy="613.7" r="3.1"/>
<circle cx="411.4" cy="617.5" r="3.1"/>
<circle cx="446.7" cy="637.0" r="3.1"/>
<circle cx="345.3" cy="635.6" r="3.1"/>
<circle cx="376.8" cy="626.9" r="3.1"/>
<circle cx="387.6" cy="612.0" r="3.1"/>
<circle cx="447.5" cy="631.8" r="3.1"/>
<circle cx="377.4" cy="614.9" r="3.1"/>
<circle cx="391.1" cy="616.4" r="3.1"/>
<circle cx="387.8" cy="632.1" r="3.1"/>
<circle cx="385.5" cy="621.7" r="3.1"/>
<circle cx="365.1" cy="621.7" r="3.1"/>
<circle cx="381.8" cy="632.9" r="3.1"/>
<circle cx="403.5" cy="600.3" r="3.1"/>
<circle cx="426.0" cy="610.8" r="3.1"/>
<circle cx="420.8" cy="624.2" r="3.1"/>
<circle cx="359.0" cy="635.3" r="3.1"/>
<circle cx="380.7" cy="626.9" r="3.1"/>
<circle cx="393.1" cy="633.0" r="3.1"/>
<circle cx="357.7" cy="635.6" r="3.1"/>
<circle cx="364.6" cy="622.3" r="3.1"/>
<circle cx="400.4" cy="630.7" r="3.1"/>
<circle cx="389.1" cy="599.0" r="3.1"/>
<circle cx="404.6" cy="614.0" r="3.1"/>
<circle cx="385.1" cy="630.8" r="3.1"/>
<circle cx="409.7" cy="636.4" r="3.1"/>
<circle cx="426.5" cy="637.4" r="3.1"/>
<circle cx="422.4" cy="622.0" r="3.1"/>
<circle cx="415.7" cy="612.2" r="3.1"/>
<circle cx="357.6" cy="630.6" r="3.1"/>
<circle cx="351.8" cy="636.7" r="3.1"/>
<circle cx="384.1" cy="626.6" r="3.1"/>
<circle cx="413.5" cy="593.6" r="3.1"/>
<circle cx="381.5" cy="600.6" r="3.1"/>
<circle cx="367.6" cy="622.8" r="3.1"/>
<circle cx="380.5" cy="614.8" r="3.1"/>
<circle cx="353.3" cy="628.0" r="3.1"/>
<circle cx="365.9" cy="629.4" r="3.1"/>
<circle cx="374.5" cy="602.1" r="3.1"/>
<circle cx="406.2" cy="611.1" r="3.1"/>
<circle cx="423.2" cy="628.0" r="3.1"/>
<circle cx="350.1" cy="629.7" r="3.1"/>
<circle cx="377.1" cy="601.8" r="3.1"/>
<circle cx="444.4" cy="630.1" r="3.1"/>
<circle cx="354.8" cy="626.7" r="3.1"/>
<circle cx="410.5" cy="628.4" r="3.1"/>
<circle cx="365.8" cy="628.4" r="3.1"/>
<circle cx="356.8" cy="624.7" r="3.1"/>
<circle cx="418.3" cy="601.5" r="3.1"/>
<circle cx="384.3" cy="596.6" r="3.1"/>
<circle cx="358.1" cy="627.3" r="3.1"/>
<circle cx="370.7" cy="639.9" r="3.1"/>
<circle cx="356.7" cy="636.6" r="3.1"/>
<circle cx="424.2" cy="622.2" r="3.1"/>
<circle cx="372.1" cy="622.3" r="3.1"/>
<circle cx="414.5" cy="596.7" r="3.1"/>
<circle cx="445.6" cy="629.1" r="3.1"/>
<circle cx="388.2" cy="627.2" r="3.1"/>
<circle cx="354.3" cy="627.4" r="3.1"/>
<circle cx="357.6" cy="630.3" r="3.1"/>
<circle cx="391.7" cy="637.9" r="3.1"/>
<circle cx="366.5" cy="620.8" r="3.1"/>
<circle cx="400.6" cy="596.6" r="3.1"/>
<circle cx="439.3" cy="637.9" r="3.1"/>
<circle cx="415.2" cy="638.0" r="3.1"/>
<circle cx="388.4" cy="619.2" r="3.1"/>
<circle cx="444.5" cy="630.7" r="3.1"/>
<circle cx="364.0" cy="629.0" r="3.1"/>
<circle cx="398.8" cy="630.7" r="3.1"/>
<circle cx="381.8" cy="598.8" r="3.1"/>
<circle cx="447.1" cy="630.5" r="3.1"/>
<circle cx="350.8" cy="628.4" r="3.1"/>
<circle cx="362.6" cy="636.9" r="3.1"/>
<circle cx="439.2" cy="633.5" r="3.1"/>
<circle cx="348.5" cy="634.3" r="3.1"/>
<circle cx="448.0" cy="630.9" r="3.1"/>
<circle cx="385.6" cy="593.3" r="3.1"/>
<circle cx="427.7" cy="602.9" r="3.1"/>
<circle cx="411.8" cy="621.5" r="3.1"/>
<circle cx="439.1" cy="629.2" r="3.1"/>
<circle cx="442.1" cy="629.6" r="3.1"/>
<circle cx="439.5" cy="629.4" r="3.1"/>
<circle cx="388.8" cy="612.3" r="3.1"/>
<circle cx="377.3" cy="633.0" r="3.1"/>
<circle cx="405.9" cy="600.0" r="3.1"/>
<circle cx="373.2" cy="610.3" r="3.1"/>
<circle cx="426.6" cy="604.4" r="3.1"/>
<circle cx="387.6" cy="593.1" r="3.1"/>
<circle cx="427.0" cy="614.0" r="3.1"/>
<circle cx="355.9" cy="630.7" r="3.1"/>
<circle cx="345.5" cy="635.3" r="3.1"/>
<circle cx="379.4" cy="622.7" r="3.1"/>
<circle cx="401.8" cy="610.0" r="3.1"/>
<circle cx="405.2" cy="617.2" r="3.1"/>
<circle cx="410.6" cy="600.2" r="3.1"/>
<circle cx="390.9" cy="616.5" r="3.1"/>
<circle cx="429.1" cy="639.9" r="3.1"/>
<circle cx="360.9" cy="633.6" r="3.1"/>
<circle cx="366.5" cy="619.1" r="3.1"/>
<circle cx="359.6" cy="638.0" r="3.1"/>
<circle cx="377.3" cy="616.1" r="3.1"/>
<circle cx="430.3" cy="600.7" r="3.1"/>
<circle cx="433.4" cy="619.6" r="3.1"/>
<circle cx="347.9" cy="639.3" r="3.1"/>
<circle cx="410.2" cy="601.5" r="3.1"/>
<circle cx="371.9" cy="613.3" r="3.1"/>
<circle cx="401.8" cy="613.0" r="3.1"/>
<circle cx="409.0" cy="636.5" r="3.1"/>
<circle cx="361.9" cy="621.0" r="3.1"/>
<circle cx="372.1" cy="637.7" r="3.1"/>
<circle cx="373.7" cy="611.7" r="3.1"/>
<circle cx="371.6" cy="634.3" r="3.1"/>
<circle cx="373.1" cy="623.8" r="3.1"/>
<circle cx="421.4" cy="625.8" r="3.1"/>
<circle cx="435.7" cy="611.5" r="3.1"/>
<circle cx="430.3" cy="637.0" r="3.1"/>
<circle cx="377.1" cy="596.5" r="3.1"/>
<circle cx="434.2" cy="635.7" r="3.1"/>
<circle cx="390.4" cy="622.9" r="3.1"/>
<circle cx="422.5" cy="638.7" r="3.1"/>
<circle cx="377.1" cy="604.8" r="3.1"/>
<circle cx="437.1" cy="638.9" r="3.1"/>
<circle cx="405.8" cy="608.8" r="3.1"/>
<circle cx="435.7" cy="627.6" r="3.1"/>
<circle cx="446.2" cy="637.3" r="3.1"/>
<circle cx="356.1" cy="637.9" r="3.1"/>
<circle cx="405.6" cy="634.2" r="3.1"/>
<circle cx="372.0" cy="634.6" r="3.1"/>
<circle cx="349.8" cy="628.3" r="3.1"/>
<circle cx="379.2" cy="594.7" r="3.1"/>
<circle cx="419.9" cy="629.7" r="3.1"/>
<circle cx="441.9" cy="639.8" r="3.1"/>
<circle cx="447.1" cy="639.6" r="3.1"/>
<circle cx="370.6" cy="625.4" r="3.1"/>
<circle cx="345.0" cy="637.1" r="3.1"/>
<circle cx="352.9" cy="628.3" r="3.1"/>
<circle cx="347.7" cy="634.6" r="3.1"/>
<circle cx="366.0" cy="633.4" r="3.1"/>
<circle cx="395.5" cy="622.5" r="3.1"/>
<circle cx="385.2" cy="609.3" r="3.1"/>
<circle cx="364.5" cy="636.0" r="3.1"/>
<circle cx="415.9" cy="626.0" r="3.1"/>
<circle cx="442.0" cy="631.9" r="3.1"/>
<circle cx="393.8" cy="638.9" r="3.1"/>
<circle cx="346.2" cy="639.3" r="3.1"/>
<circle cx="409.7" cy="608.8" r="3.1"/>
<circle cx="444.0" cy="632.9" r="3.1"/>
<circle cx="418.3" cy="623.9" r="3.1"/>
<circle cx="351.8" cy="634.3" r="3.1"/>
<circle cx="417.7" cy="602.2" r="3.1"/>
<circle cx="444.0" cy="626.4" r="3.1"/>
<circle cx="403.2" cy="614.1" r="3.1"/>
<circle cx="396.6" cy="617.6" r="3.1"/>
<circle cx="415.5" cy="612.9" r="3.1"/>
<circle cx="434.0" cy="625.4" r="3.1"/>
<circle cx="414.9" cy="615.4" r="3.1"/>
<circle cx="403.2" cy="602.1" r="3.1"/>
<circle cx="407.8" cy="627.8" r="3.1"/>
<circle cx="376.6" cy="611.6" r="3.1"/>
<circle cx="348.8" cy="634.7" r="3.1"/>
<circle cx="437.7" cy="634.1" r="3.1"/>
<circle cx="390.6" cy="607.1" r="3.1"/>
<circle cx="441.2" cy="626.0" r="3.1"/>
<circle cx="409.7" cy="622.0" r="3.1"/>
<circle cx="389.9" cy="609.8" r="3.1"/>
<circle cx="381.4" cy="603.1" r="3.1"/>
<circle cx="344.9" cy="637.4" r="3.1"/>
<circle cx="421.9" cy="625.6" r="3.1"/>
<circle cx="345.6" cy="638.2" r="3.1"/>
<circle cx="405.9" cy="603.0" r="3.1"/>
<circle cx="435.4" cy="633.8" r="3.1"/>
<circle cx="352.6" cy="638.3" r="3.1"/>
<circle cx="447.9" cy="632.8" r="3.1"/>
<circle cx="357.5" cy="628.0" r="3.1"/>
<circle cx="444.7" cy="630.7" r="3.1"/>
<circle cx="368.4" cy="616.1" r="3.1"/>
<circle cx="417.6" cy="631.4" r="3.1"/>
<circle cx="424.5" cy="616.3" r="3.1"/>
<circle cx="404.3" cy="622.8" r="3.1"/>
<circle cx="374.8" cy="620.2" r="3.1"/>
<circle cx="399.3" cy="618.3" r="3.1"/>
<circle cx="435.0" cy="637.7" r="3.1"/>
<circle cx="364.9" cy="619.1" r="3.1"/>
<circle cx="407.8" cy="611.0" r="3.1"/>
<circle cx="410.1" cy="628.6" r="3.1"/>
<circle cx="385.4" cy="630.1" r="3.1"/>
<circle cx="360.0" cy="621.2" r="3.1"/>
<circle cx="422.1" cy="598.7" r="3.1"/>
<circle cx="344.2" cy="639.6" r="3.1"/>
<circle cx="376.3" cy="616.6" r="3.1"/>
<circle cx="414.9" cy="638.5" r="3.1"/>
<circle cx="382.9" cy="614.0" r="3.1"/>
<circle cx="435.8" cy="625.1" r="3.1"/>
<circle cx="377.3" cy="611.6" r="3.1"/>
<circle cx="405.3" cy="626.3" r="3.1"/>
<circle cx="401.5" cy="627.0" r="3.1"/>
<circle cx="345.2" cy="638.6" r="3.1"/>
<circle cx="353.1" cy="632.9" r="3.1"/>
<circle cx="422.5" cy="604.8" r="3.1"/>
<circle cx="447.9" cy="637.1" r="3.1"/>
<circle cx="383.1" cy="629.2" r="3.1"/>
<circle cx="354.8" cy="632.0" r="3.1"/>
<circle cx="397.7" cy="633.9" r="3.1"/>
<circle cx="440.9" cy="619.9" r="3.1"/>
<circle cx="351.2" cy="640.0" r="3.1"/>
<circle cx="350.5" cy="630.7" r="3.1"/>
<circle cx="433.5" cy="637.8" r="3.1"/>
<circle cx="344.9" cy="638.0" r="3.1"/>
<circle cx="378.9" cy="639.1" r="3.1"/>
<circle cx="344.9" cy="639.2" r="3.1"/>
<circle cx="365.0" cy="633.4" r="3.1"/>
<circle cx="401.8" cy="628.2" r="3.1"/>
<circle cx="368.5" cy="634.7" r="3.1"/>
<circle cx="437.1" cy="633.7" r="3.1"/>
<circle cx="402.3" cy="618.7" r="3.1"/>
<circle cx="378.8" cy="620.9" r="3.1"/>
<circle cx="345.7" cy="639.0" r="3.1"/>
<circle cx="411.2" cy="604.2" r="3.1"/>
<circle cx="366.9" cy="635.8" r="3.1"/>
<circle cx="439.1" cy="637.8" r="3.1"/>
<circle cx="427.5" cy="601.0" r="3.1"/>
<circle cx="359.4" cy="624.5" r="3.1"/>
<circle cx="359.8" cy="639.2" r="3.1"/>
<circle cx="374.1" cy="625.3" r="3.1"/>
<circle cx="405.9" cy="619.2" r="3.1"/>
<circle cx="427.3" cy="610.3" r="3.1"/>
<circle cx="356.5" cy="636.6" r="3.1"/>
<circle cx="422.3" cy="634.6" r="3.1"/>
<circle cx="444.0" cy="626.8" r="3.1"/>
<circle cx="367.1" cy="633.2" r="3.1"/>
<circle cx="370.5" cy="628.8" r="3.1"/>
<circle cx="370.1" cy="639.2" r="3.1"/>
<circle cx="370.4" cy="634.9" r="3.1"/>
<circle cx="380.7" cy="618.6" r="3.1"/>
<circle cx="435.8" cy="620.8" r="3.1"/>
<circle cx="408.6" cy="599.4" r="3.1"/>
<circle cx="384.6" cy="620.0" r="3.1"/>
<circle cx="369.7" cy="618.6" r="3.1"/>
<circle cx="436.1" cy="614.1" r="3.1"/>
<circle cx="407.5" cy="634.6" r="3.1"/>
<circle cx="351.6" cy="629.3" r="3.1"/>
<circle cx="437.0" cy="625.7" r="3.1"/>
<circle cx="440.7" cy="620.7" r="3.1"/>
<circle cx="423.2" cy="622.6" r="3.1"/>
<circle cx="391.9" cy="623.5" r="3.1"/>
<circle cx="385.6" cy="617.8" r="3.1"/>
<circle cx="345.8" cy="639.3" r="3.1"/>
<circle cx="361.6" cy="628.6" r="3.1"/>
<circle cx="435.5" cy="619.0" r="3.1"/>
<circle cx="359.7" cy="631.4" r="3.1"/>
<circle cx="409.9" cy="633.6" r="3.1"/>
<circle cx="352.4" cy="631.5" r="3.1"/>
<circle cx="368.7" cy="623.8" r="3.1"/>
<circle cx="362.0" cy="622.6" r="3.1"/>
<circle cx="376.5" cy="619.9" r="3.1"/>
<circle cx="401.7" cy="598.3" r="3.1"/>
<circle cx="440.2" cy="621.9" r="3.1"/>
<circle cx="415.9" cy="636.7" r="3.1"/>
<circle cx="363.6" cy="628.6" r="3.1"/>
<circle cx="447.4" cy="631.5" r="3.1"/>
<circle cx="364.1" cy="632.3" r="3.1"/>
<circle cx="445.1" cy="632.4" r="3.1"/>
<circle cx="435.4" cy="614.4" r="3.1"/>
<circle cx="426.1" cy="610.6" r="3.1"/>
<circle cx="413.9" cy="623.9" r="3.1"/>
<circle cx="356.6" cy="624.1" r="3.1"/>
<circle cx="347.4" cy="637.4" r="3.1"/>
<circle cx="408.5" cy="594.6" r="3.1"/>
<circle cx="366.1" cy="634.3" r="3.1"/>
<circle cx="433.0" cy="628.8" r="3.1"/>
<circle cx="386.3" cy="623.1" r="3.1"/>
<circle cx="349.2" cy="628.9" r="3.1"/>
<circle cx="417.3" cy="639.7" r="3.1"/>
<circle cx="354.2" cy="638.0" r="3.1"/>
<circle cx="382.7" cy="598.2" r="3.1"/>
<circle cx="358.8" cy="635.9" r="3.1"/>
<circle cx="376.7" cy="616.0" r="3.1"/>
<circle cx="438.6" cy="627.2" r="3.1"/>
<circle cx="438.9" cy="627.4" r="3.1"/>
<circle cx="389.4" cy="599.0" r="3.1"/>
<circle cx="405.0" cy="617.7" r="3.1"/>
<circle cx="397.8" cy="623.3" r="3.1"/>
<circle cx="389.5" cy="636.5" r="3.1"/>
<circle cx="365.5" cy="622.7" r="3.1"/>
<circle cx="358.0" cy="636.3" r="3.1"/>
<circle cx="306.3" cy="629.5" r="3.1"/>
<circle cx="321.4" cy="627.0" r="3.1"/>
<circle cx="328.7" cy="627.0" r="3.1"/>
<circle cx="338.4" cy="630.0" r="3.1"/>
<circle cx="450.8" cy="608.4" r="3.1"/>
<circle cx="474.4" cy="604.0" r="3.1"/>
<circle cx="484.0" cy="607.0" r="3.1"/>
<circle cx="472.0" cy="612.6" r="3.1"/>
<circle cx="464.7" cy="616.2" r="3.1"/>
<circle cx="459.3" cy="616.2" r="3.1"/>
<circle cx="450.8" cy="635.0" r="3.1"/>
<circle cx="358.3" cy="603.5" r="3.1"/>
<circle cx="350.5" cy="610.8" r="3.1"/>
<circle cx="362.0" cy="610.8" r="3.1"/>
<circle cx="350.5" cy="619.9" r="3.1"/>
<circle cx="356.0" cy="620.5" r="3.1"/>
<circle cx="440.0" cy="600.0" r="3.1"/>
<circle cx="445.0" cy="604.0" r="3.1"/>
<circle cx="432.0" cy="596.0" r="3.1"/>
</g>
<g fill="#6c9bd2">
<circle cx="377.2" cy="571.2" r="3.1"/>
<circle cx="375.3" cy="571.2" r="3.1"/>
<circle cx="384.6" cy="581.0" r="3.1"/>
<circle cx="388.8" cy="562.7" r="3.1"/>
<circle cx="385.1" cy="566.1" r="3.1"/>
<circle cx="380.2" cy="577.8" r="3.1"/>
<circle cx="388.3" cy="580.8" r="3.1"/>
<circle cx="390.8" cy="560.6" r="3.1"/>
<circle cx="379.7" cy="574.9" r="3.1"/>
<circle cx="375.1" cy="561.6" r="3.1"/>
<circle cx="380.6" cy="577.3" r="3.1"/>
<circle cx="376.7" cy="562.1" r="3.1"/>
<circle cx="379.8" cy="583.0" r="3.1"/>
<circle cx="383.9" cy="590.9" r="3.1"/>
<circle cx="384.5" cy="587.6" r="3.1"/>
<circle cx="384.0" cy="574.9" r="3.1"/>
<circle cx="381.4" cy="562.2" r="3.1"/>
<circle cx="375.5" cy="580.4" r="3.1"/>
<circle cx="388.7" cy="560.6" r="3.1"/>
<circle cx="377.5" cy="570.2" r="3.1"/>
<circle cx="379.7" cy="585.9" r="3.1"/>
<circle cx="378.7" cy="569.5" r="3.1"/>
<circle cx="382.5" cy="589.5" r="3.1"/>
<circle cx="379.4" cy="579.6" r="3.1"/>
<circle cx="375.3" cy="573.4" r="3.1"/>
<circle cx="389.8" cy="566.7" r="3.1"/>
<circle cx="380.4" cy="580.3" r="3.1"/>
<circle cx="383.8" cy="577.9" r="3.1"/>
<circle cx="384.5" cy="580.9" r="3.1"/>
<circle cx="379.8" cy="570.9" r="3.1"/>
<circle cx="381.1" cy="576.2" r="3.1"/>
<circle cx="383.9" cy="587.1" r="3.1"/>
<circle cx="381.0" cy="573.9" r="3.1"/>
<circle cx="388.2" cy="590.1" r="3.1"/>
<circle cx="378.5" cy="582.6" r="3.1"/>
<circle cx="378.6" cy="583.0" r="3.1"/>
<circle cx="375.1" cy="575.7" r="3.1"/>
<circle cx="383.9" cy="581.7" r="3.1"/>
<circle cx="389.6" cy="584.6" r="3.1"/>
<circle cx="383.8" cy="575.4" r="3.1"/>
<circle cx="374.7" cy="577.1" r="3.1"/>
<circle cx="383.8" cy="583.0" r="3.1"/>
<circle cx="377.2" cy="578.2" r="3.1"/>
<circle cx="375.4" cy="582.5" r="3.1"/>
<circle cx="388.1" cy="573.6" r="3.1"/>
<circle cx="385.8" cy="580.5" r="3.1"/>
<circle cx="379.5" cy="562.7" r="3.1"/>
<circle cx="387.0" cy="571.1" r="3.1"/>
<circle cx="377.2" cy="573.7" r="3.1"/>
<circle cx="388.2" cy="589.6" r="3.1"/>
</g>
<g fill="#6c9bd2">
<circle cx="383.9" cy="559.4" r="3.1"/>
<circle cx="378.4" cy="549.8" r="3.1"/>
<circle cx="376.1" cy="544.7" r="3.1"/>
<circle cx="388.3" cy="541.2" r="3.1"/>
<circle cx="385.2" cy="550.2" r="3.1"/>
<circle cx="389.8" cy="559.9" r="3.1"/>
<circle cx="377.7" cy="545.2" r="3.1"/>
<circle cx="389.9" cy="546.6" r="3.1"/>
<circle cx="378.5" cy="558.2" r="3.1"/>
<circle cx="384.6" cy="546.2" r="3.1"/>
<circle cx="383.8" cy="548.5" r="3.1"/>
<circle cx="382.4" cy="551.0" r="3.1"/>
<circle cx="378.4" cy="552.3" r="3.1"/>
<circle cx="389.4" cy="551.8" r="3.1"/>
</g>
<g fill="#e8474a">
<circle cx="412.3" cy="574.5" r="3.1"/>
<circle cx="401.2" cy="568.1" r="3.1"/>
<circle cx="415.7" cy="570.7" r="3.1"/>
<circle cx="405.2" cy="583.1" r="3.1"/>
<circle cx="411.4" cy="582.2" r="3.1"/>
<circle cx="406.2" cy="586.7" r="3.1"/>
<circle cx="406.2" cy="587.2" r="3.1"/>
<circle cx="399.4" cy="584.6" r="3.1"/>
<circle cx="400.2" cy="576.9" r="3.1"/>
<circle cx="406.3" cy="572.2" r="3.1"/>
<circle cx="406.4" cy="587.6" r="3.1"/>
<circle cx="399.1" cy="572.5" r="3.1"/>
<circle cx="415.6" cy="578.3" r="3.1"/>
<circle cx="405.3" cy="589.0" r="3.1"/>
<circle cx="412.1" cy="572.0" r="3.1"/>
<circle cx="409.0" cy="572.1" r="3.1"/>
<circle cx="412.1" cy="580.8" r="3.1"/>
<circle cx="412.5" cy="569.5" r="3.1"/>
<circle cx="414.7" cy="573.3" r="3.1"/>
<circle cx="413.4" cy="578.2" r="3.1"/>
<circle cx="414.1" cy="570.3" r="3.1"/>
<circle cx="399.4" cy="578.8" r="3.1"/>
<circle cx="414.8" cy="578.7" r="3.1"/>
<circle cx="407.4" cy="571.8" r="3.1"/>
<circle cx="408.0" cy="577.8" r="3.1"/>
<circle cx="414.0" cy="585.0" r="3.1"/>
<circle cx="406.9" cy="571.4" r="3.1"/>
<circle cx="401.1" cy="590.3" r="3.1"/>
<circle cx="409.2" cy="573.2" r="3.1"/>
<circle cx="412.7" cy="573.0" r="3.1"/>
<circle cx="406.4" cy="588.2" r="3.1"/>
<circle cx="400.3" cy="570.4" r="3.1"/>
<circle cx="399.4" cy="571.5" r="3.1"/>
<circle cx="405.1" cy="575.4" r="3.1"/>
<circle cx="403.4" cy="568.3" r="3.1"/>
<circle cx="407.0" cy="578.2" r="3.1"/>
<circle cx="411.5" cy="575.0" r="3.1"/>
<circle cx="408.7" cy="575.2" r="3.1"/>
<circle cx="411.7" cy="572.0" r="3.1"/>
<circle cx="407.1" cy="578.3" r="3.1"/>
<circle cx="406.5" cy="580.4" r="3.1"/>
<circle cx="407.9" cy="575.3" r="3.1"/>
<circle cx="412.9" cy="589.9" r="3.1"/>
<circle cx="408.3" cy="582.6" r="3.1"/>
<circle cx="411.2" cy="575.4" r="3.1"/>
</g>
<g fill="#6c9bd2">
<circle cx="381.5" cy="407.7" r="3.1"/>
<circle cx="387.2" cy="410.8" r="3.1"/>
<circle cx="375.7" cy="424.6" r="3.1"/>
<circle cx="381.5" cy="441.5" r="3.1"/>
<circle cx="383.4" cy="465.8" r="3.1"/>
<circle cx="384.6" cy="469.0" r="3.1"/>
<circle cx="388.5" cy="478.5" r="3.1"/>
<circle cx="375.0" cy="490.8" r="3.1"/>
<circle cx="381.5" cy="496.0" r="3.1"/>
<circle cx="386.0" cy="515.7" r="3.1"/>
<circle cx="389.0" cy="515.7" r="3.1"/>
<circle cx="387.2" cy="526.0" r="3.1"/>
<circle cx="377.7" cy="533.5" r="3.1"/>
<circle cx="387.7" cy="539.7" r="3.1"/>
<circle cx="386.5" cy="543.0" r="3.1"/>
<circle cx="384.0" cy="549.0" r="3.1"/>
<circle cx="389.0" cy="549.0" r="3.1"/>
<circle cx="381.5" cy="551.0" r="3.1"/>
<circle cx="388.5" cy="558.5" r="3.1"/>
<circle cx="378.0" cy="560.0" r="3.1"/>
<circle cx="383.0" cy="562.0" r="3.1"/>
<circle cx="386.0" cy="565.0" r="3.1"/>
<circle cx="380.0" cy="568.0" r="3.1"/>
<circle cx="384.0" cy="571.0" r="3.1"/>
<circle cx="388.0" cy="573.0" r="3.1"/>
<circle cx="377.0" cy="576.0" r="3.1"/>
<circle cx="382.0" cy="578.0" r="3.1"/>
<circle cx="386.0" cy="580.0" r="3.1"/>
<circle cx="390.0" cy="582.0" r="3.1"/>
<circle cx="378.0" cy="584.0" r="3.1"/>
<circle cx="383.0" cy="586.0" r="3.1"/>
<circle cx="387.0" cy="588.0" r="3.1"/>
<circle cx="380.0" cy="590.0" r="3.1"/>
<circle cx="376.0" cy="580.0" r="3.1"/>
<circle cx="379.0" cy="572.0" r="3.1"/>
<circle cx="385.0" cy="556.0" r="3.1"/>
<circle cx="382.0" cy="546.0" r="3.1"/>
<circle cx="377.0" cy="586.0" r="3.1"/>
<circle cx="392.0" cy="585.0" r="3.1"/>
<circle cx="389.0" cy="577.0" r="3.1"/>
<circle cx="375.0" cy="588.0" r="3.1"/>
</g>
<g fill="#e8474a">
<circle cx="415.0" cy="410.0" r="3.1"/>
<circle cx="399.7" cy="495.0" r="3.1"/>
<circle cx="403.0" cy="505.0" r="3.1"/>
<circle cx="400.0" cy="510.5" r="3.1"/>
<circle cx="413.0" cy="510.5" r="3.1"/>
<circle cx="403.0" cy="523.4" r="3.1"/>
<circle cx="407.0" cy="529.0" r="3.1"/>
<circle cx="404.6" cy="533.5" r="3.1"/>
<circle cx="410.8" cy="537.0" r="3.1"/>
<circle cx="402.0" cy="543.0" r="3.1"/>
<circle cx="400.8" cy="549.5" r="3.1"/>
<circle cx="412.0" cy="554.0" r="3.1"/>
<circle cx="415.0" cy="554.6" r="3.1"/>
<circle cx="405.0" cy="569.0" r="3.1"/>
<circle cx="408.0" cy="571.0" r="3.1"/>
<circle cx="412.0" cy="570.0" r="3.1"/>
<circle cx="415.0" cy="569.0" r="3.1"/>
<circle cx="401.0" cy="574.0" r="3.1"/>
<circle cx="404.0" cy="576.0" r="3.1"/>
<circle cx="408.0" cy="578.0" r="3.1"/>
<circle cx="412.0" cy="576.0" r="3.1"/>
<circle cx="416.0" cy="575.0" r="3.1"/>
<circle cx="399.0" cy="580.0" r="3.1"/>
<circle cx="403.0" cy="582.0" r="3.1"/>
<circle cx="407.0" cy="584.0" r="3.1"/>
<circle cx="411.0" cy="582.0" r="3.1"/>
<circle cx="415.0" cy="583.0" r="3.1"/>
<circle cx="400.0" cy="586.0" r="3.1"/>
<circle cx="404.0" cy="588.0" r="3.1"/>
<circle cx="408.0" cy="589.0" r="3.1"/>
<circle cx="412.0" cy="588.0" r="3.1"/>
<circle cx="416.0" cy="587.0" r="3.1"/>
<circle cx="398.0" cy="590.0" r="3.1"/>
<circle cx="402.0" cy="591.0" r="3.1"/>
<circle cx="406.0" cy="591.0" r="3.1"/>
<circle cx="410.0" cy="591.0" r="3.1"/>
<circle cx="414.0" cy="590.0" r="3.1"/>
<circle cx="418.0" cy="589.0" r="3.1"/>
<circle cx="417.0" cy="581.0" r="3.1"/>
<circle cx="397.0" cy="584.0" r="3.1"/>
</g>
<g fill="#2f3b9b">
<circle cx="373.8" cy="549.2" r="3.1"/>
<circle cx="363.0" cy="560.0" r="3.1"/>
<circle cx="373.5" cy="567.7" r="3.1"/>
<circle cx="361.2" cy="573.8" r="3.1"/>
<circle cx="358.9" cy="581.2" r="3.1"/>
<circle cx="369.2" cy="583.8" r="3.1"/>
</g>
<g fill="#8b1e1e">
<circle cx="419.3" cy="201.0" r="3.1"/>
<circle cx="440.0" cy="201.0" r="3.1"/>
<circle cx="458.0" cy="201.0" r="3.1"/>
<circle cx="423.3" cy="209.7" r="3.1"/>
<circle cx="430.0" cy="270.2" r="3.1"/>
<circle cx="538.8" cy="300.6" r="3.1"/>
<circle cx="417.3" cy="288.8" r="3.1"/>
<circle cx="420.0" cy="323.6" r="3.1"/>
<circle cx="437.0" cy="396.4" r="3.1"/>
<circle cx="445.8" cy="416.1" r="3.1"/>
<circle cx="468.8" cy="432.4" r="3.1"/>
<circle cx="439.0" cy="459.0" r="3.1"/>
<circle cx="416.6" cy="467.0" r="3.1"/>
<circle cx="416.6" cy="475.4" r="3.1"/>
<circle cx="419.2" cy="480.0" r="3.1"/>
<circle cx="422.3" cy="485.4" r="3.1"/>
<circle cx="425.4" cy="488.5" r="3.1"/>
<circle cx="427.0" cy="491.5" r="3.1"/>
<circle cx="460.8" cy="473.5" r="3.1"/>
<circle cx="461.0" cy="481.5" r="3.1"/>
<circle cx="439.0" cy="509.0" r="3.1"/>
<circle cx="455.0" cy="510.5" r="3.1"/>
<circle cx="419.0" cy="526.6" r="3.1"/>
<circle cx="425.4" cy="526.6" r="3.1"/>
<circle cx="431.5" cy="540.0" r="3.1"/>
<circle cx="417.0" cy="542.8" r="3.1"/>
<circle cx="461.0" cy="550.0" r="3.1"/>
<circle cx="437.7" cy="561.5" r="3.1"/>
<circle cx="440.0" cy="561.5" r="3.1"/>
<circle cx="479.0" cy="565.8" r="3.1"/>
<circle cx="538.0" cy="568.0" r="3.1"/>
<circle cx="424.6" cy="567.7" r="3.1"/>
<circle cx="421.5" cy="571.5" r="3.1"/>
<circle cx="419.0" cy="574.6" r="3.1"/>
<circle cx="453.8" cy="576.0" r="3.1"/>
<circle cx="443.5" cy="580.5" r="3.1"/>
<circle cx="420.8" cy="585.4" r="3.1"/>
<circle cx="425.8" cy="588.5" r="3.1"/>
<circle cx="435.0" cy="590.8" r="3.1"/>
</g>
<line x1="107.3" y1="94.8" x2="107.3" y2="678.0" stroke="#000" stroke-width="2.3"/>
<line x1="103.0" y1="674.3" x2="688.0" y2="674.3" stroke="#000" stroke-width="2.3"/>
<line x1="90.0" y1="638.0" x2="107.3" y2="638.0" stroke="#000" stroke-width="2.3"/>
<text x="83.0" y="652.8" font-size="28" text-anchor="end">0</text>
<line x1="90.0" y1="458.0" x2="107.3" y2="458.0" stroke="#000" stroke-width="2.3"/>
<text x="83.0" y="472.8" font-size="28" text-anchor="end">5</text>
<line x1="90.0" y1="278.0" x2="107.3" y2="278.0" stroke="#000" stroke-width="2.3"/>
<text x="83.0" y="292.8" font-size="28" text-anchor="end">10</text>
<line x1="90.0" y1="98.0" x2="107.3" y2="98.0" stroke="#000" stroke-width="2.3"/>
<text x="83.0" y="112.8" font-size="28" text-anchor="end">15</text>
<line x1="215.0" y1="674.3" x2="215.0" y2="691.5" stroke="#000" stroke-width="2.3"/>
<text x="211.0" y="721.5" font-size="28" text-anchor="middle">-5</text>
<line x1="395.0" y1="674.3" x2="395.0" y2="691.5" stroke="#000" stroke-width="2.3"/>
<text x="395.0" y="721.5" font-size="28" text-anchor="middle">0</text>
<line x1="575.0" y1="674.3" x2="575.0" y2="691.5" stroke="#000" stroke-width="2.3"/>
<text x="575.0" y="721.5" font-size="28" text-anchor="middle">5</text>
<text x="390.5" y="758.6" font-size="28" text-anchor="middle">Log<tspan font-size="17" font-weight="bold" dy="2">2</tspan><tspan dy="-2"> (FC)</tspan></text>
<text transform="translate(41.8,379) rotate(-90)" font-size="28" text-anchor="middle">-Log<tspan font-size="15.5" font-weight="bold">10</tspan> (adjusted p value)</text>
<text x="690.5" y="199.5" font-size="27.6" text-anchor="end">Rec8</text>
<line x1="623.0" y1="192.6" x2="458.0" y2="201.0" stroke="#000" stroke-width="1.1"/>
<text x="690.5" y="240.5" font-size="27.6" text-anchor="end">Col6a2</text>
<line x1="593.4" y1="231.4" x2="441.0" y2="202.0" stroke="#000" stroke-width="1.1"/>
<text x="690.5" y="281.5" font-size="27.6" text-anchor="end">Pcdhga11</text>
<line x1="555.8" y1="273.0" x2="425.3" y2="203.7" stroke="#000" stroke-width="1.1"/>
<text x="690.5" y="322.5" font-size="27.6" text-anchor="end">Krt9</text>
<line x1="625.0" y1="314.5" x2="427.2" y2="211.6" stroke="#000" stroke-width="1.1"/>
<text x="690.5" y="363.5" font-size="27.6" text-anchor="end">Pirt</text>
<line x1="631.0" y1="354.0" x2="433.0" y2="273.0" stroke="#000" stroke-width="1.1"/>
<text x="690.5" y="404.0" font-size="27.6" text-anchor="end">Man2b2</text>
<line x1="583.5" y1="389.6" x2="421.3" y2="290.7" stroke="#000" stroke-width="1.1"/>
<text x="690.5" y="445.0" font-size="27.6" text-anchor="end">Prss41</text>
<line x1="595.3" y1="435.0" x2="542.7" y2="304.6" stroke="#000" stroke-width="1.1"/>
<text x="690.5" y="486.0" font-size="27.6" text-anchor="end">Vstm5</text>
<line x1="603.2" y1="476.7" x2="425.2" y2="326.3" stroke="#000" stroke-width="1.1"/>
<text x="690.5" y="526.5" font-size="27.6" text-anchor="end">Clec18c</text>
<line x1="575.6" y1="514.2" x2="441.0" y2="399.5" stroke="#000" stroke-width="1.1"/>
<text x="690.5" y="567.0" font-size="27.6" text-anchor="end">E2f2</text>
<line x1="615.0" y1="557.8" x2="453.0" y2="419.3" stroke="#000" stroke-width="1.1"/>
<text x="112.5" y="370.0" font-size="27.6">Ighm</text>
<line x1="184.0" y1="360.8" x2="369.9" y2="546.0" stroke="#000" stroke-width="1.1"/>
<text x="112.5" y="411.5" font-size="27.6">Pkn3</text>
<line x1="184.0" y1="404.3" x2="360.0" y2="555.0" stroke="#000" stroke-width="1.1"/>
<text x="112.5" y="453.0" font-size="27.6">Adra1b</text>
<line x1="211.6" y1="455.0" x2="371.8" y2="566.0" stroke="#000" stroke-width="1.1"/>
<text x="112.5" y="494.5" font-size="27.6">Pcdhb6</text>
<line x1="217.6" y1="490.5" x2="356.0" y2="567.6" stroke="#000" stroke-width="1.1"/>
<text x="112.5" y="536.5" font-size="27.6">Pcdha11</text>
<line x1="231.4" y1="532.0" x2="356.0" y2="577.5" stroke="#000" stroke-width="1.1"/>
<text x="112.5" y="579.5" font-size="27.6">Ramp3</text>
<line x1="204.0" y1="573.3" x2="369.9" y2="584.6" stroke="#000" stroke-width="1.1"/>
<rect x="1027.6" y="39.5" width="141.0" height="51.5" fill="#8c2323"/>
<text x="1094.1" y="75.3" font-size="28" text-anchor="middle" fill="#fff">Adult</text>
<line x1="1076.9" y1="92.0" x2="1076.9" y2="674.0" stroke="#000" stroke-width="1.6" stroke-dasharray="5,3.3"/>
<line x1="1119.1" y1="92.0" x2="1119.1" y2="674.0" stroke="#000" stroke-width="1.6" stroke-dasharray="5,3.3"/>
<line x1="810.5" y1="591.2" x2="1393.0" y2="591.2" stroke="#000" stroke-width="1.6" stroke-dasharray="5,3.3"/>
<g fill="#d2d2d2">
<circle cx="1162.4" cy="624.1" r="3.1"/>
<circle cx="1047.2" cy="637.8" r="3.1"/>
<circle cx="1146.9" cy="617.2" r="3.1"/>
<circle cx="1125.7" cy="626.6" r="3.1"/>
<circle cx="1117.6" cy="612.4" r="3.1"/>
<circle cx="1114.4" cy="632.8" r="3.1"/>
<circle cx="1095.1" cy="622.1" r="3.1"/>
<circle cx="1132.5" cy="600.4" r="3.1"/>
<circle cx="1161.5" cy="630.2" r="3.1"/>
<circle cx="1096.9" cy="627.8" r="3.1"/>
<circle cx="1044.6" cy="639.3" r="3.1"/>
<circle cx="1099.5" cy="625.5" r="3.1"/>
<circle cx="1088.6" cy="599.4" r="3.1"/>
<circle cx="1107.3" cy="614.5" r="3.1"/>
<circle cx="1070.2" cy="639.0" r="3.1"/>
<circle cx="1081.6" cy="633.8" r="3.1"/>
<circle cx="1105.3" cy="594.6" r="3.1"/>
<circle cx="1126.3" cy="632.1" r="3.1"/>
<circle cx="1154.4" cy="620.0" r="3.1"/>
<circle cx="1134.0" cy="604.6" r="3.1"/>
<circle cx="1137.6" cy="610.7" r="3.1"/>
<circle cx="1085.3" cy="595.4" r="3.1"/>
<circle cx="1163.1" cy="637.5" r="3.1"/>
<circle cx="1136.5" cy="613.0" r="3.1"/>
<circle cx="1099.1" cy="615.9" r="3.1"/>
<circle cx="1102.7" cy="597.9" r="3.1"/>
<circle cx="1104.1" cy="602.2" r="3.1"/>
<circle cx="1085.3" cy="599.8" r="3.1"/>
<circle cx="1155.2" cy="628.7" r="3.1"/>
<circle cx="1112.7" cy="598.1" r="3.1"/>
<circle cx="1132.6" cy="620.6" r="3.1"/>
<circle cx="1068.4" cy="627.1" r="3.1"/>
<circle cx="1129.5" cy="633.1" r="3.1"/>
<circle cx="1156.2" cy="633.7" r="3.1"/>
<circle cx="1156.7" cy="632.8" r="3.1"/>
<circle cx="1162.5" cy="628.3" r="3.1"/>
<circle cx="1104.5" cy="616.4" r="3.1"/>
<circle cx="1123.4" cy="613.7" r="3.1"/>
<circle cx="1079.9" cy="630.5" r="3.1"/>
<circle cx="1105.5" cy="597.5" r="3.1"/>
<circle cx="1119.8" cy="636.6" r="3.1"/>
<circle cx="1145.0" cy="616.4" r="3.1"/>
<circle cx="1156.2" cy="635.5" r="3.1"/>
<circle cx="1135.3" cy="637.7" r="3.1"/>
<circle cx="1123.6" cy="627.8" r="3.1"/>
<circle cx="1069.0" cy="605.0" r="3.1"/>
<circle cx="1053.6" cy="624.0" r="3.1"/>
<circle cx="1149.3" cy="632.9" r="3.1"/>
<circle cx="1066.9" cy="605.8" r="3.1"/>
<circle cx="1094.1" cy="607.4" r="3.1"/>
<circle cx="1044.1" cy="631.4" r="3.1"/>
<circle cx="1062.0" cy="615.7" r="3.1"/>
<circle cx="1050.6" cy="612.9" r="3.1"/>
<circle cx="1043.2" cy="623.2" r="3.1"/>
<circle cx="1042.7" cy="634.2" r="3.1"/>
<circle cx="1144.1" cy="634.8" r="3.1"/>
<circle cx="1063.5" cy="614.4" r="3.1"/>
<circle cx="1089.4" cy="638.0" r="3.1"/>
<circle cx="1166.7" cy="638.4" r="3.1"/>
<circle cx="1044.6" cy="631.7" r="3.1"/>
<circle cx="1118.8" cy="606.2" r="3.1"/>
<circle cx="1054.5" cy="629.5" r="3.1"/>
<circle cx="1043.9" cy="629.5" r="3.1"/>
<circle cx="1138.0" cy="612.7" r="3.1"/>
<circle cx="1155.5" cy="621.7" r="3.1"/>
<circle cx="1150.4" cy="620.1" r="3.1"/>
<circle cx="1100.5" cy="629.7" r="3.1"/>
<circle cx="1124.6" cy="626.0" r="3.1"/>
<circle cx="1053.1" cy="626.5" r="3.1"/>
<circle cx="1152.0" cy="636.6" r="3.1"/>
<circle cx="1114.9" cy="622.1" r="3.1"/>
<circle cx="1105.9" cy="633.5" r="3.1"/>
<circle cx="1162.8" cy="635.8" r="3.1"/>
<circle cx="1117.6" cy="620.9" r="3.1"/>
<circle cx="1042.3" cy="627.5" r="3.1"/>
<circle cx="1058.0" cy="638.1" r="3.1"/>
<circle cx="1044.3" cy="636.2" r="3.1"/>
<circle cx="1052.3" cy="621.2" r="3.1"/>
<circle cx="1105.1" cy="595.3" r="3.1"/>
<circle cx="1159.6" cy="619.2" r="3.1"/>
<circle cx="1069.8" cy="622.0" r="3.1"/>
<circle cx="1072.1" cy="615.3" r="3.1"/>
<circle cx="1119.9" cy="603.6" r="3.1"/>
<circle cx="1130.8" cy="629.5" r="3.1"/>
<circle cx="1094.1" cy="616.1" r="3.1"/>
<circle cx="1040.6" cy="639.3" r="3.1"/>
<circle cx="1092.3" cy="634.9" r="3.1"/>
<circle cx="1132.6" cy="630.4" r="3.1"/>
<circle cx="1052.8" cy="634.6" r="3.1"/>
<circle cx="1069.6" cy="631.2" r="3.1"/>
<circle cx="1106.7" cy="618.9" r="3.1"/>
<circle cx="1079.6" cy="610.8" r="3.1"/>
<circle cx="1067.2" cy="604.6" r="3.1"/>
<circle cx="1163.3" cy="628.7" r="3.1"/>
<circle cx="1095.5" cy="616.7" r="3.1"/>
<circle cx="1114.4" cy="637.7" r="3.1"/>
<circle cx="1093.5" cy="616.1" r="3.1"/>
<circle cx="1063.2" cy="636.5" r="3.1"/>
<circle cx="1142.7" cy="627.4" r="3.1"/>
<circle cx="1106.5" cy="598.1" r="3.1"/>
<circle cx="1118.1" cy="626.8" r="3.1"/>
<circle cx="1165.9" cy="635.7" r="3.1"/>
<circle cx="1042.4" cy="624.6" r="3.1"/>
<circle cx="1052.9" cy="630.8" r="3.1"/>
<circle cx="1147.6" cy="619.5" r="3.1"/>
<circle cx="1042.0" cy="630.0" r="3.1"/>
<circle cx="1092.6" cy="617.9" r="3.1"/>
<circle cx="1066.7" cy="617.2" r="3.1"/>
<circle cx="1049.4" cy="632.2" r="3.1"/>
<circle cx="1087.7" cy="597.4" r="3.1"/>
<circle cx="1049.8" cy="619.0" r="3.1"/>
<circle cx="1064.6" cy="618.5" r="3.1"/>
<circle cx="1090.1" cy="618.9" r="3.1"/>
<circle cx="1136.5" cy="625.1" r="3.1"/>
<circle cx="1055.6" cy="636.1" r="3.1"/>
<circle cx="1050.3" cy="616.1" r="3.1"/>
<circle cx="1122.0" cy="596.4" r="3.1"/>
<circle cx="1128.7" cy="639.0" r="3.1"/>
<circle cx="1124.4" cy="605.6" r="3.1"/>
<circle cx="1132.6" cy="620.2" r="3.1"/>
<circle cx="1085.8" cy="619.2" r="3.1"/>
<circle cx="1142.2" cy="630.7" r="3.1"/>
<circle cx="1107.4" cy="618.3" r="3.1"/>
<circle cx="1162.2" cy="626.3" r="3.1"/>
<circle cx="1159.3" cy="622.3" r="3.1"/>
<circle cx="1078.0" cy="629.6" r="3.1"/>
<circle cx="1102.6" cy="628.2" r="3.1"/>
<circle cx="1157.6" cy="626.8" r="3.1"/>
<circle cx="1144.7" cy="636.9" r="3.1"/>
<circle cx="1085.6" cy="594.6" r="3.1"/>
<circle cx="1058.8" cy="625.7" r="3.1"/>
<circle cx="1048.6" cy="637.7" r="3.1"/>
<circle cx="1154.6" cy="615.4" r="3.1"/>
<circle cx="1123.0" cy="634.2" r="3.1"/>
<circle cx="1077.9" cy="629.6" r="3.1"/>
<circle cx="1125.9" cy="610.4" r="3.1"/>
<circle cx="1096.2" cy="616.2" r="3.1"/>
<circle cx="1054.3" cy="623.2" r="3.1"/>
<circle cx="1161.6" cy="626.4" r="3.1"/>
<circle cx="1052.3" cy="624.7" r="3.1"/>
<circle cx="1131.6" cy="629.6" r="3.1"/>
<circle cx="1154.5" cy="628.5" r="3.1"/>
<circle cx="1130.0" cy="623.3" r="3.1"/>
<circle cx="1167.4" cy="635.1" r="3.1"/>
<circle cx="1113.4" cy="633.4" r="3.1"/>
<circle cx="1096.5" cy="638.7" r="3.1"/>
<circle cx="1116.2" cy="599.9" r="3.1"/>
<circle cx="1063.1" cy="621.3" r="3.1"/>
<circle cx="1101.8" cy="621.6" r="3.1"/>
<circle cx="1130.9" cy="601.9" r="3.1"/>
<circle cx="1130.3" cy="620.6" r="3.1"/>
<circle cx="1163.1" cy="634.8" r="3.1"/>
<circle cx="1135.4" cy="614.8" r="3.1"/>
<circle cx="1137.5" cy="608.3" r="3.1"/>
<circle cx="1068.8" cy="615.2" r="3.1"/>
<circle cx="1091.5" cy="609.7" r="3.1"/>
<circle cx="1165.1" cy="631.9" r="3.1"/>
<circle cx="1041.5" cy="629.9" r="3.1"/>
<circle cx="1131.1" cy="604.1" r="3.1"/>
<circle cx="1123.2" cy="603.4" r="3.1"/>
<circle cx="1042.2" cy="619.0" r="3.1"/>
<circle cx="1133.4" cy="616.1" r="3.1"/>
<circle cx="1155.9" cy="618.9" r="3.1"/>
<circle cx="1052.9" cy="615.5" r="3.1"/>
<circle cx="1138.2" cy="632.7" r="3.1"/>
<circle cx="1135.3" cy="617.5" r="3.1"/>
<circle cx="1064.5" cy="609.8" r="3.1"/>
<circle cx="1057.6" cy="619.5" r="3.1"/>
<circle cx="1095.6" cy="628.5" r="3.1"/>
<circle cx="1112.5" cy="618.7" r="3.1"/>
<circle cx="1066.2" cy="602.8" r="3.1"/>
<circle cx="1049.3" cy="639.9" r="3.1"/>
<circle cx="1102.1" cy="601.9" r="3.1"/>
<circle cx="1124.3" cy="606.6" r="3.1"/>
<circle cx="1102.1" cy="609.3" r="3.1"/>
<circle cx="1082.9" cy="627.9" r="3.1"/>
<circle cx="1104.4" cy="638.7" r="3.1"/>
<circle cx="1050.2" cy="618.8" r="3.1"/>
<circle cx="1062.2" cy="612.8" r="3.1"/>
<circle cx="1140.4" cy="625.6" r="3.1"/>
<circle cx="1126.4" cy="606.0" r="3.1"/>
<circle cx="1150.6" cy="636.2" r="3.1"/>
<circle cx="1060.8" cy="626.5" r="3.1"/>
<circle cx="1099.5" cy="626.6" r="3.1"/>
<circle cx="1041.3" cy="628.0" r="3.1"/>
<circle cx="1163.8" cy="634.6" r="3.1"/>
<circle cx="1108.9" cy="622.6" r="3.1"/>
<circle cx="1079.5" cy="610.5" r="3.1"/>
<circle cx="1101.9" cy="615.5" r="3.1"/>
<circle cx="1157.1" cy="638.2" r="3.1"/>
<circle cx="1145.5" cy="630.2" r="3.1"/>
<circle cx="1122.7" cy="604.1" r="3.1"/>
<circle cx="1123.6" cy="622.5" r="3.1"/>
<circle cx="1147.6" cy="637.2" r="3.1"/>
<circle cx="1121.1" cy="622.2" r="3.1"/>
<circle cx="1107.9" cy="601.3" r="3.1"/>
<circle cx="1142.1" cy="618.2" r="3.1"/>
<circle cx="1079.4" cy="629.4" r="3.1"/>
<circle cx="1098.6" cy="629.4" r="3.1"/>
<circle cx="1075.5" cy="598.3" r="3.1"/>
<circle cx="1054.3" cy="614.5" r="3.1"/>
<circle cx="1088.5" cy="623.4" r="3.1"/>
<circle cx="1080.8" cy="636.5" r="3.1"/>
<circle cx="1098.5" cy="632.4" r="3.1"/>
<circle cx="1096.6" cy="626.7" r="3.1"/>
<circle cx="1154.5" cy="617.0" r="3.1"/>
<circle cx="1159.0" cy="633.0" r="3.1"/>
<circle cx="1052.7" cy="632.9" r="3.1"/>
<circle cx="1064.3" cy="614.6" r="3.1"/>
<circle cx="1087.8" cy="623.8" r="3.1"/>
<circle cx="1141.8" cy="631.9" r="3.1"/>
<circle cx="1143.5" cy="618.7" r="3.1"/>
<circle cx="1091.2" cy="602.5" r="3.1"/>
<circle cx="1083.8" cy="600.0" r="3.1"/>
<circle cx="1158.5" cy="629.1" r="3.1"/>
<circle cx="1128.3" cy="600.0" r="3.1"/>
<circle cx="1135.0" cy="611.1" r="3.1"/>
<circle cx="1151.3" cy="614.2" r="3.1"/>
<circle cx="1136.5" cy="603.0" r="3.1"/>
<circle cx="1077.3" cy="612.3" r="3.1"/>
<circle cx="1125.8" cy="624.0" r="3.1"/>
<circle cx="1090.6" cy="632.0" r="3.1"/>
<circle cx="1162.6" cy="634.2" r="3.1"/>
<circle cx="1063.9" cy="604.3" r="3.1"/>
<circle cx="1056.3" cy="639.1" r="3.1"/>
<circle cx="1084.9" cy="623.7" r="3.1"/>
<circle cx="1157.5" cy="620.0" r="3.1"/>
<circle cx="1137.5" cy="623.8" r="3.1"/>
<circle cx="1109.5" cy="629.2" r="3.1"/>
<circle cx="1146.7" cy="627.8" r="3.1"/>
<circle cx="1076.4" cy="611.9" r="3.1"/>
<circle cx="1059.3" cy="629.0" r="3.1"/>
<circle cx="1158.6" cy="637.9" r="3.1"/>
<circle cx="1058.2" cy="633.1" r="3.1"/>
<circle cx="1072.1" cy="622.5" r="3.1"/>
<circle cx="1072.0" cy="625.7" r="3.1"/>
<circle cx="1071.5" cy="630.1" r="3.1"/>
<circle cx="1118.2" cy="624.7" r="3.1"/>
<circle cx="1087.7" cy="605.1" r="3.1"/>
<circle cx="1047.9" cy="636.2" r="3.1"/>
<circle cx="1148.9" cy="627.4" r="3.1"/>
<circle cx="1139.7" cy="635.2" r="3.1"/>
<circle cx="1106.9" cy="601.5" r="3.1"/>
<circle cx="1083.3" cy="605.0" r="3.1"/>
<circle cx="1118.1" cy="622.0" r="3.1"/>
<circle cx="1167.7" cy="638.7" r="3.1"/>
<circle cx="1080.6" cy="601.9" r="3.1"/>
<circle cx="1116.5" cy="613.2" r="3.1"/>
<circle cx="1108.9" cy="595.2" r="3.1"/>
<circle cx="1166.6" cy="631.1" r="3.1"/>
<circle cx="1098.2" cy="621.3" r="3.1"/>
<circle cx="1107.2" cy="637.9" r="3.1"/>
<circle cx="1053.9" cy="609.4" r="3.1"/>
<circle cx="1056.4" cy="609.4" r="3.1"/>
<circle cx="1127.0" cy="600.8" r="3.1"/>
<circle cx="1049.9" cy="631.5" r="3.1"/>
<circle cx="1142.1" cy="639.7" r="3.1"/>
<circle cx="1053.6" cy="629.3" r="3.1"/>
<circle cx="1062.2" cy="634.7" r="3.1"/>
<circle cx="1125.7" cy="636.0" r="3.1"/>
<circle cx="1164.4" cy="631.0" r="3.1"/>
<circle cx="1046.4" cy="617.3" r="3.1"/>
<circle cx="1070.9" cy="620.2" r="3.1"/>
<circle cx="1111.5" cy="633.7" r="3.1"/>
<circle cx="1104.3" cy="637.3" r="3.1"/>
<circle cx="1065.5" cy="605.0" r="3.1"/>
<circle cx="1145.2" cy="623.1" r="3.1"/>
<circle cx="1127.3" cy="602.6" r="3.1"/>
<circle cx="1057.9" cy="623.4" r="3.1"/>
<circle cx="1056.9" cy="636.2" r="3.1"/>
<circle cx="1053.9" cy="633.5" r="3.1"/>
<circle cx="1046.8" cy="634.5" r="3.1"/>
<circle cx="1088.5" cy="611.7" r="3.1"/>
<circle cx="1149.9" cy="614.1" r="3.1"/>
<circle cx="1131.9" cy="619.6" r="3.1"/>
<circle cx="1157.4" cy="636.3" r="3.1"/>
<circle cx="1053.5" cy="615.1" r="3.1"/>
<circle cx="1120.3" cy="630.4" r="3.1"/>
<circle cx="1088.3" cy="626.5" r="3.1"/>
<circle cx="1095.2" cy="620.5" r="3.1"/>
<circle cx="1091.0" cy="603.7" r="3.1"/>
<circle cx="1143.9" cy="621.2" r="3.1"/>
<circle cx="1100.5" cy="627.1" r="3.1"/>
<circle cx="1138.0" cy="603.6" r="3.1"/>
<circle cx="1069.3" cy="611.8" r="3.1"/>
<circle cx="1129.5" cy="612.7" r="3.1"/>
<circle cx="1043.9" cy="627.0" r="3.1"/>
<circle cx="1065.9" cy="632.6" r="3.1"/>
<circle cx="1114.2" cy="610.6" r="3.1"/>
<circle cx="1120.1" cy="606.2" r="3.1"/>
<circle cx="1129.9" cy="620.4" r="3.1"/>
<circle cx="1046.1" cy="620.6" r="3.1"/>
<circle cx="1145.4" cy="613.1" r="3.1"/>
<circle cx="1116.6" cy="638.3" r="3.1"/>
<circle cx="1065.1" cy="635.9" r="3.1"/>
<circle cx="1121.4" cy="615.2" r="3.1"/>
<circle cx="1063.9" cy="604.5" r="3.1"/>
<circle cx="1165.2" cy="628.6" r="3.1"/>
<circle cx="1099.4" cy="626.7" r="3.1"/>
<circle cx="1066.7" cy="608.1" r="3.1"/>
<circle cx="1129.7" cy="628.5" r="3.1"/>
<circle cx="1155.5" cy="626.3" r="3.1"/>
<circle cx="1092.8" cy="621.1" r="3.1"/>
<circle cx="1132.2" cy="621.8" r="3.1"/>
<circle cx="1124.4" cy="634.6" r="3.1"/>
<circle cx="1129.9" cy="628.8" r="3.1"/>
<circle cx="1156.5" cy="635.0" r="3.1"/>
<circle cx="1082.7" cy="615.5" r="3.1"/>
<circle cx="1090.2" cy="616.1" r="3.1"/>
<circle cx="1158.2" cy="635.6" r="3.1"/>
<circle cx="1138.8" cy="614.7" r="3.1"/>
<circle cx="1140.6" cy="624.1" r="3.1"/>
<circle cx="1098.2" cy="624.3" r="3.1"/>
<circle cx="1100.6" cy="628.4" r="3.1"/>
<circle cx="1064.4" cy="622.2" r="3.1"/>
<circle cx="1064.6" cy="622.4" r="3.1"/>
<circle cx="1113.4" cy="625.9" r="3.1"/>
<circle cx="1061.8" cy="618.2" r="3.1"/>
<circle cx="1150.1" cy="633.7" r="3.1"/>
<circle cx="1118.8" cy="610.0" r="3.1"/>
<circle cx="1153.3" cy="622.3" r="3.1"/>
<circle cx="1079.4" cy="630.6" r="3.1"/>
<circle cx="1147.1" cy="630.8" r="3.1"/>
<circle cx="1041.6" cy="621.0" r="3.1"/>
<circle cx="1065.3" cy="628.1" r="3.1"/>
<circle cx="1080.8" cy="628.4" r="3.1"/>
<circle cx="1132.7" cy="626.4" r="3.1"/>
<circle cx="1096.4" cy="620.9" r="3.1"/>
<circle cx="1146.7" cy="639.4" r="3.1"/>
<circle cx="1114.2" cy="634.0" r="3.1"/>
<circle cx="1059.3" cy="619.0" r="3.1"/>
<circle cx="1088.1" cy="637.0" r="3.1"/>
<circle cx="1115.3" cy="598.4" r="3.1"/>
<circle cx="1122.6" cy="617.6" r="3.1"/>
<circle cx="1142.5" cy="608.4" r="3.1"/>
<circle cx="1059.4" cy="629.6" r="3.1"/>
<circle cx="1163.5" cy="626.0" r="3.1"/>
<circle cx="1066.0" cy="613.0" r="3.1"/>
<circle cx="1151.9" cy="624.0" r="3.1"/>
<circle cx="1129.9" cy="618.4" r="3.1"/>
<circle cx="1070.0" cy="631.4" r="3.1"/>
<circle cx="1047.9" cy="622.4" r="3.1"/>
<circle cx="1057.7" cy="619.1" r="3.1"/>
<circle cx="1090.1" cy="620.2" r="3.1"/>
<circle cx="1164.2" cy="634.5" r="3.1"/>
<circle cx="1100.8" cy="622.7" r="3.1"/>
<circle cx="1067.5" cy="631.2" r="3.1"/>
<circle cx="1108.2" cy="602.8" r="3.1"/>
<circle cx="1051.6" cy="612.5" r="3.1"/>
<circle cx="1126.3" cy="637.7" r="3.1"/>
<circle cx="1130.5" cy="623.6" r="3.1"/>
<circle cx="1105.9" cy="635.4" r="3.1"/>
<circle cx="1105.3" cy="616.3" r="3.1"/>
<circle cx="1140.2" cy="619.2" r="3.1"/>
<circle cx="1130.2" cy="609.8" r="3.1"/>
<circle cx="1068.3" cy="639.0" r="3.1"/>
<circle cx="1101.3" cy="634.1" r="3.1"/>
<circle cx="1058.1" cy="629.1" r="3.1"/>
<circle cx="1108.8" cy="612.0" r="3.1"/>
<circle cx="1122.7" cy="597.5" r="3.1"/>
<circle cx="1053.1" cy="623.2" r="3.1"/>
<circle cx="1051.1" cy="620.8" r="3.1"/>
<circle cx="1096.0" cy="633.6" r="3.1"/>
<circle cx="1079.7" cy="609.9" r="3.1"/>
<circle cx="1085.5" cy="624.5" r="3.1"/>
<circle cx="1158.1" cy="626.6" r="3.1"/>
<circle cx="1053.7" cy="616.0" r="3.1"/>
<circle cx="1086.5" cy="596.9" r="3.1"/>
<circle cx="1121.4" cy="603.4" r="3.1"/>
<circle cx="1154.7" cy="627.4" r="3.1"/>
<circle cx="1163.8" cy="639.6" r="3.1"/>
<circle cx="1083.6" cy="601.9" r="3.1"/>
<circle cx="1041.1" cy="625.6" r="3.1"/>
<circle cx="1167.9" cy="639.3" r="3.1"/>
<circle cx="1150.4" cy="637.8" r="3.1"/>
<circle cx="1109.2" cy="612.3" r="3.1"/>
<circle cx="1095.7" cy="620.9" r="3.1"/>
<circle cx="1141.2" cy="634.3" r="3.1"/>
<circle cx="1045.8" cy="625.3" r="3.1"/>
<circle cx="1163.7" cy="627.7" r="3.1"/>
<circle cx="1126.2" cy="627.2" r="3.1"/>
<circle cx="1155.8" cy="639.0" r="3.1"/>
<circle cx="1071.6" cy="607.4" r="3.1"/>
<circle cx="1154.5" cy="629.9" r="3.1"/>
<circle cx="1156.4" cy="637.4" r="3.1"/>
<circle cx="1116.4" cy="636.9" r="3.1"/>
<circle cx="1069.9" cy="632.3" r="3.1"/>
<circle cx="1040.8" cy="631.4" r="3.1"/>
<circle cx="1104.0" cy="627.2" r="3.1"/>
<circle cx="1123.4" cy="637.7" r="3.1"/>
<circle cx="1106.2" cy="616.0" r="3.1"/>
<circle cx="1091.6" cy="598.4" r="3.1"/>
<circle cx="1056.2" cy="626.1" r="3.1"/>
<circle cx="1098.9" cy="623.0" r="3.1"/>
<circle cx="1164.6" cy="632.3" r="3.1"/>
<circle cx="1106.1" cy="620.0" r="3.1"/>
<circle cx="1142.3" cy="617.6" r="3.1"/>
<circle cx="1060.8" cy="618.9" r="3.1"/>
<circle cx="1056.4" cy="628.6" r="3.1"/>
<circle cx="1042.9" cy="623.9" r="3.1"/>
<circle cx="1165.1" cy="631.9" r="3.1"/>
<circle cx="1112.9" cy="628.6" r="3.1"/>
<circle cx="1096.6" cy="618.9" r="3.1"/>
<circle cx="1094.1" cy="627.7" r="3.1"/>
<circle cx="1068.1" cy="610.4" r="3.1"/>
<circle cx="1161.9" cy="625.7" r="3.1"/>
<circle cx="1119.6" cy="638.7" r="3.1"/>
<circle cx="1078.7" cy="601.9" r="3.1"/>
<circle cx="1164.5" cy="632.5" r="3.1"/>
<circle cx="1112.8" cy="608.8" r="3.1"/>
<circle cx="1071.6" cy="610.5" r="3.1"/>
<circle cx="1086.7" cy="601.5" r="3.1"/>
<circle cx="1111.2" cy="615.7" r="3.1"/>
<circle cx="1136.6" cy="624.2" r="3.1"/>
<circle cx="1104.7" cy="599.1" r="3.1"/>
<circle cx="1135.6" cy="615.1" r="3.1"/>
<circle cx="1162.7" cy="638.1" r="3.1"/>
<circle cx="1116.5" cy="611.6" r="3.1"/>
<circle cx="1163.8" cy="634.3" r="3.1"/>
<circle cx="1118.9" cy="605.2" r="3.1"/>
<circle cx="1129.1" cy="624.9" r="3.1"/>
<circle cx="1142.2" cy="627.9" r="3.1"/>
<circle cx="1058.8" cy="617.2" r="3.1"/>
<circle cx="1123.1" cy="621.7" r="3.1"/>
<circle cx="1103.9" cy="595.0" r="3.1"/>
<circle cx="1143.4" cy="626.3" r="3.1"/>
<circle cx="1156.7" cy="626.8" r="3.1"/>
<circle cx="1091.8" cy="610.6" r="3.1"/>
<circle cx="1140.3" cy="608.0" r="3.1"/>
<circle cx="1125.8" cy="611.0" r="3.1"/>
<circle cx="1091.3" cy="638.2" r="3.1"/>
<circle cx="1098.2" cy="634.8" r="3.1"/>
<circle cx="1160.6" cy="633.0" r="3.1"/>
<circle cx="1117.4" cy="606.6" r="3.1"/>
<circle cx="1062.9" cy="609.5" r="3.1"/>
<circle cx="1081.7" cy="636.3" r="3.1"/>
<circle cx="1116.8" cy="621.7" r="3.1"/>
<circle cx="1157.6" cy="630.0" r="3.1"/>
<circle cx="1052.1" cy="639.5" r="3.1"/>
<circle cx="1043.9" cy="628.4" r="3.1"/>
<circle cx="1131.4" cy="637.9" r="3.1"/>
<circle cx="1082.2" cy="618.2" r="3.1"/>
<circle cx="1154.9" cy="616.1" r="3.1"/>
<circle cx="1152.0" cy="622.8" r="3.1"/>
<circle cx="1113.6" cy="629.9" r="3.1"/>
<circle cx="1118.4" cy="632.4" r="3.1"/>
<circle cx="1078.8" cy="602.3" r="3.1"/>
<circle cx="1112.7" cy="607.0" r="3.1"/>
<circle cx="1099.6" cy="627.3" r="3.1"/>
<circle cx="1104.5" cy="613.9" r="3.1"/>
<circle cx="1070.9" cy="605.3" r="3.1"/>
<circle cx="1165.6" cy="637.8" r="3.1"/>
<circle cx="1071.0" cy="606.7" r="3.1"/>
<circle cx="1132.4" cy="631.0" r="3.1"/>
<circle cx="1115.0" cy="629.2" r="3.1"/>
<circle cx="1150.4" cy="623.4" r="3.1"/>
<circle cx="1105.4" cy="632.6" r="3.1"/>
<circle cx="1091.9" cy="618.5" r="3.1"/>
<circle cx="1086.3" cy="631.8" r="3.1"/>
<circle cx="1065.4" cy="613.4" r="3.1"/>
<circle cx="1158.4" cy="621.5" r="3.1"/>
<circle cx="1118.7" cy="604.0" r="3.1"/>
<circle cx="1057.1" cy="633.0" r="3.1"/>
<circle cx="1130.1" cy="639.9" r="3.1"/>
<circle cx="1050.7" cy="617.8" r="3.1"/>
<circle cx="1065.2" cy="633.0" r="3.1"/>
<circle cx="1090.6" cy="601.9" r="3.1"/>
<circle cx="1041.3" cy="621.0" r="3.1"/>
<circle cx="1079.0" cy="614.0" r="3.1"/>
<circle cx="1100.5" cy="634.5" r="3.1"/>
<circle cx="1162.7" cy="637.1" r="3.1"/>
<circle cx="1143.0" cy="610.0" r="3.1"/>
<circle cx="1048.0" cy="636.1" r="3.1"/>
<circle cx="1101.9" cy="636.6" r="3.1"/>
<circle cx="1143.4" cy="622.2" r="3.1"/>
<circle cx="1142.3" cy="630.1" r="3.1"/>
<circle cx="1043.5" cy="619.4" r="3.1"/>
<circle cx="1066.7" cy="623.9" r="3.1"/>
<circle cx="1056.1" cy="621.0" r="3.1"/>
<circle cx="1099.4" cy="631.0" r="3.1"/>
<circle cx="1045.0" cy="631.8" r="3.1"/>
<circle cx="1140.3" cy="634.5" r="3.1"/>
<circle cx="1069.2" cy="615.2" r="3.1"/>
<circle cx="1121.3" cy="603.4" r="3.1"/>
<circle cx="1122.6" cy="601.6" r="3.1"/>
<circle cx="1059.9" cy="607.7" r="3.1"/>
<circle cx="1043.7" cy="637.2" r="3.1"/>
<circle cx="1053.3" cy="616.5" r="3.1"/>
<circle cx="1104.6" cy="598.1" r="3.1"/>
<circle cx="1164.8" cy="627.4" r="3.1"/>
<circle cx="1118.6" cy="624.0" r="3.1"/>
<circle cx="1162.5" cy="627.9" r="3.1"/>
<circle cx="1065.1" cy="619.1" r="3.1"/>
<circle cx="1042.6" cy="639.6" r="3.1"/>
<circle cx="1121.8" cy="607.3" r="3.1"/>
<circle cx="1150.2" cy="618.6" r="3.1"/>
<circle cx="1057.5" cy="615.3" r="3.1"/>
<circle cx="1165.6" cy="631.8" r="3.1"/>
<circle cx="1101.5" cy="626.6" r="3.1"/>
<circle cx="1048.2" cy="623.4" r="3.1"/>
<circle cx="1163.1" cy="638.2" r="3.1"/>
<circle cx="1145.1" cy="610.9" r="3.1"/>
<circle cx="1085.1" cy="601.5" r="3.1"/>
<circle cx="1059.9" cy="629.5" r="3.1"/>
<circle cx="1112.5" cy="600.0" r="3.1"/>
<circle cx="1108.6" cy="635.9" r="3.1"/>
<circle cx="1159.0" cy="627.8" r="3.1"/>
<circle cx="1139.7" cy="631.7" r="3.1"/>
<circle cx="1082.9" cy="635.9" r="3.1"/>
<circle cx="1063.9" cy="623.7" r="3.1"/>
<circle cx="1092.6" cy="610.1" r="3.1"/>
<circle cx="1146.7" cy="629.6" r="3.1"/>
<circle cx="1158.5" cy="625.7" r="3.1"/>
<circle cx="1084.1" cy="631.6" r="3.1"/>
<circle cx="1162.4" cy="629.0" r="3.1"/>
<circle cx="1045.5" cy="623.1" r="3.1"/>
<circle cx="1088.4" cy="620.8" r="3.1"/>
<circle cx="1138.0" cy="631.8" r="3.1"/>
<circle cx="1074.3" cy="616.8" r="3.1"/>
<circle cx="1155.8" cy="637.9" r="3.1"/>
<circle cx="1146.8" cy="617.6" r="3.1"/>
<circle cx="1062.7" cy="615.8" r="3.1"/>
<circle cx="1119.5" cy="607.7" r="3.1"/>
<circle cx="1108.8" cy="625.7" r="3.1"/>
<circle cx="1104.3" cy="629.2" r="3.1"/>
<circle cx="1098.3" cy="621.5" r="3.1"/>
<circle cx="1053.7" cy="632.9" r="3.1"/>
<circle cx="1084.1" cy="622.1" r="3.1"/>
<circle cx="1112.1" cy="606.0" r="3.1"/>
<circle cx="1073.2" cy="616.5" r="3.1"/>
<circle cx="1083.2" cy="629.7" r="3.1"/>
<circle cx="1057.9" cy="607.7" r="3.1"/>
<circle cx="1159.3" cy="622.4" r="3.1"/>
<circle cx="1062.0" cy="634.5" r="3.1"/>
<circle cx="1053.4" cy="630.9" r="3.1"/>
<circle cx="1094.6" cy="639.7" r="3.1"/>
<circle cx="1094.0" cy="608.6" r="3.1"/>
<circle cx="1146.7" cy="634.1" r="3.1"/>
<circle cx="1040.2" cy="632.3" r="3.1"/>
<circle cx="1088.7" cy="625.7" r="3.1"/>
<circle cx="1059.8" cy="630.6" r="3.1"/>
<circle cx="1074.1" cy="629.0" r="3.1"/>
<circle cx="1069.8" cy="619.1" r="3.1"/>
<circle cx="1144.1" cy="629.7" r="3.1"/>
<circle cx="1093.3" cy="618.0" r="3.1"/>
<circle cx="1147.8" cy="616.8" r="3.1"/>
<circle cx="1166.1" cy="638.0" r="3.1"/>
<circle cx="1143.1" cy="630.0" r="3.1"/>
<circle cx="1113.8" cy="616.0" r="3.1"/>
<circle cx="1113.6" cy="625.4" r="3.1"/>
<circle cx="1049.2" cy="639.8" r="3.1"/>
<circle cx="1158.7" cy="620.8" r="3.1"/>
<circle cx="1098.9" cy="635.9" r="3.1"/>
<circle cx="1147.3" cy="624.6" r="3.1"/>
<circle cx="1060.2" cy="632.3" r="3.1"/>
<circle cx="1144.3" cy="615.7" r="3.1"/>
<circle cx="1165.9" cy="635.0" r="3.1"/>
<circle cx="1164.4" cy="627.7" r="3.1"/>
<circle cx="1105.0" cy="599.4" r="3.1"/>
<circle cx="1060.8" cy="637.5" r="3.1"/>
<circle cx="1144.2" cy="635.3" r="3.1"/>
<circle cx="1106.0" cy="606.5" r="3.1"/>
<circle cx="1127.0" cy="630.6" r="3.1"/>
<circle cx="1140.7" cy="638.5" r="3.1"/>
<circle cx="1111.9" cy="599.2" r="3.1"/>
<circle cx="1109.9" cy="626.2" r="3.1"/>
<circle cx="1167.6" cy="637.4" r="3.1"/>
<circle cx="1141.3" cy="608.5" r="3.1"/>
<circle cx="1159.7" cy="628.1" r="3.1"/>
<circle cx="1145.5" cy="623.9" r="3.1"/>
<circle cx="1072.6" cy="628.3" r="3.1"/>
<circle cx="1073.5" cy="638.9" r="3.1"/>
<circle cx="1119.4" cy="621.8" r="3.1"/>
<circle cx="1156.5" cy="638.8" r="3.1"/>
<circle cx="1140.2" cy="633.0" r="3.1"/>
<circle cx="1081.5" cy="626.7" r="3.1"/>
<circle cx="1162.5" cy="629.3" r="3.1"/>
<circle cx="1099.8" cy="631.6" r="3.1"/>
<circle cx="1046.1" cy="630.8" r="3.1"/>
<circle cx="1164.7" cy="634.0" r="3.1"/>
<circle cx="1126.5" cy="602.0" r="3.1"/>
<circle cx="1046.1" cy="632.0" r="3.1"/>
<circle cx="1093.5" cy="629.7" r="3.1"/>
<circle cx="1089.0" cy="609.0" r="3.1"/>
<circle cx="1057.2" cy="616.9" r="3.1"/>
<circle cx="1078.0" cy="610.5" r="3.1"/>
<circle cx="1062.2" cy="611.4" r="3.1"/>
<circle cx="1093.7" cy="602.1" r="3.1"/>
<circle cx="1163.8" cy="631.5" r="3.1"/>
<circle cx="1042.7" cy="631.7" r="3.1"/>
<circle cx="1164.9" cy="631.5" r="3.1"/>
<circle cx="1137.1" cy="622.2" r="3.1"/>
<circle cx="1160.4" cy="622.1" r="3.1"/>
<circle cx="1118.4" cy="613.2" r="3.1"/>
<circle cx="1053.2" cy="639.8" r="3.1"/>
<circle cx="1066.3" cy="612.2" r="3.1"/>
<circle cx="1148.5" cy="617.1" r="3.1"/>
<circle cx="1153.5" cy="639.2" r="3.1"/>
<circle cx="1043.7" cy="634.1" r="3.1"/>
<circle cx="1042.3" cy="626.9" r="3.1"/>
<circle cx="1159.0" cy="620.8" r="3.1"/>
<circle cx="1053.6" cy="619.7" r="3.1"/>
<circle cx="1125.9" cy="611.5" r="3.1"/>
<circle cx="1092.7" cy="629.2" r="3.1"/>
<circle cx="1153.4" cy="616.7" r="3.1"/>
<circle cx="1131.7" cy="618.1" r="3.1"/>
<circle cx="1044.2" cy="633.4" r="3.1"/>
<circle cx="1070.7" cy="630.1" r="3.1"/>
<circle cx="1067.7" cy="613.8" r="3.1"/>
<circle cx="1127.0" cy="632.5" r="3.1"/>
<circle cx="1155.4" cy="640.0" r="3.1"/>
<circle cx="1162.3" cy="630.2" r="3.1"/>
<circle cx="1122.6" cy="627.3" r="3.1"/>
<circle cx="1128.5" cy="603.2" r="3.1"/>
<circle cx="1066.3" cy="634.9" r="3.1"/>
<circle cx="1140.8" cy="631.2" r="3.1"/>
<circle cx="1053.5" cy="625.0" r="3.1"/>
<circle cx="1063.9" cy="632.1" r="3.1"/>
<circle cx="1076.3" cy="636.3" r="3.1"/>
<circle cx="1144.8" cy="621.5" r="3.1"/>
<circle cx="1123.6" cy="627.0" r="3.1"/>
<circle cx="1139.2" cy="605.2" r="3.1"/>
<circle cx="1167.9" cy="640.0" r="3.1"/>
<circle cx="1079.7" cy="635.9" r="3.1"/>
<circle cx="1117.9" cy="623.9" r="3.1"/>
<circle cx="1163.3" cy="630.4" r="3.1"/>
<circle cx="1167.6" cy="638.2" r="3.1"/>
<circle cx="1122.5" cy="635.5" r="3.1"/>
<circle cx="1108.6" cy="610.6" r="3.1"/>
<circle cx="1069.8" cy="614.8" r="3.1"/>
<circle cx="1056.9" cy="624.8" r="3.1"/>
<circle cx="1117.7" cy="618.2" r="3.1"/>
<circle cx="1059.4" cy="633.4" r="3.1"/>
<circle cx="1088.0" cy="610.3" r="3.1"/>
<circle cx="1095.4" cy="630.9" r="3.1"/>
<circle cx="1083.3" cy="626.0" r="3.1"/>
<circle cx="1057.6" cy="620.3" r="3.1"/>
<circle cx="1100.3" cy="625.2" r="3.1"/>
<circle cx="1040.2" cy="632.2" r="3.1"/>
<circle cx="1045.8" cy="637.1" r="3.1"/>
<circle cx="1077.6" cy="604.7" r="3.1"/>
<circle cx="1159.9" cy="624.5" r="3.1"/>
<circle cx="1066.4" cy="607.6" r="3.1"/>
<circle cx="1044.2" cy="637.3" r="3.1"/>
<circle cx="1054.3" cy="622.5" r="3.1"/>
<circle cx="1116.0" cy="611.5" r="3.1"/>
<circle cx="1161.4" cy="626.2" r="3.1"/>
<circle cx="1135.2" cy="633.4" r="3.1"/>
<circle cx="1156.5" cy="618.5" r="3.1"/>
<circle cx="1146.0" cy="637.4" r="3.1"/>
<circle cx="1131.4" cy="619.0" r="3.1"/>
<circle cx="1108.7" cy="627.8" r="3.1"/>
<circle cx="1138.9" cy="610.6" r="3.1"/>
<circle cx="1138.5" cy="628.9" r="3.1"/>
<circle cx="1134.2" cy="636.6" r="3.1"/>
<circle cx="1127.1" cy="638.7" r="3.1"/>
<circle cx="1040.8" cy="637.8" r="3.1"/>
<circle cx="1123.6" cy="596.1" r="3.1"/>
<circle cx="1115.0" cy="601.7" r="3.1"/>
<circle cx="1164.1" cy="628.4" r="3.1"/>
<circle cx="1082.4" cy="636.7" r="3.1"/>
<circle cx="1154.3" cy="633.0" r="3.1"/>
<circle cx="1137.1" cy="607.7" r="3.1"/>
<circle cx="1061.5" cy="633.0" r="3.1"/>
<circle cx="1094.1" cy="601.6" r="3.1"/>
<circle cx="1149.0" cy="610.9" r="3.1"/>
<circle cx="1075.0" cy="613.0" r="3.1"/>
<circle cx="1151.7" cy="629.8" r="3.1"/>
<circle cx="1115.1" cy="629.8" r="3.1"/>
<circle cx="1149.7" cy="627.2" r="3.1"/>
<circle cx="1102.2" cy="610.2" r="3.1"/>
<circle cx="1080.8" cy="603.0" r="3.1"/>
<circle cx="1098.8" cy="620.5" r="3.1"/>
<circle cx="1132.9" cy="613.6" r="3.1"/>
<circle cx="1130.8" cy="604.3" r="3.1"/>
<circle cx="1143.6" cy="626.3" r="3.1"/>
<circle cx="1122.4" cy="600.9" r="3.1"/>
<circle cx="1047.1" cy="623.0" r="3.1"/>
<circle cx="1107.5" cy="621.7" r="3.1"/>
<circle cx="1055.2" cy="630.8" r="3.1"/>
<circle cx="1136.0" cy="606.4" r="3.1"/>
<circle cx="1166.3" cy="631.7" r="3.1"/>
<circle cx="1152.7" cy="618.2" r="3.1"/>
<circle cx="1061.1" cy="615.4" r="3.1"/>
<circle cx="1151.3" cy="619.3" r="3.1"/>
<circle cx="1075.4" cy="609.5" r="3.1"/>
<circle cx="1089.9" cy="620.3" r="3.1"/>
<circle cx="1133.5" cy="613.4" r="3.1"/>
<circle cx="1057.4" cy="618.6" r="3.1"/>
<circle cx="1047.6" cy="634.6" r="3.1"/>
<circle cx="1145.6" cy="610.7" r="3.1"/>
<circle cx="1072.5" cy="607.9" r="3.1"/>
<circle cx="1063.3" cy="621.6" r="3.1"/>
<circle cx="1084.6" cy="636.2" r="3.1"/>
<circle cx="1095.4" cy="614.9" r="3.1"/>
<circle cx="1149.0" cy="637.0" r="3.1"/>
<circle cx="1076.8" cy="639.8" r="3.1"/>
<circle cx="1066.7" cy="629.7" r="3.1"/>
<circle cx="1145.0" cy="609.5" r="3.1"/>
<circle cx="1067.5" cy="621.1" r="3.1"/>
<circle cx="1107.0" cy="617.7" r="3.1"/>
<circle cx="1162.8" cy="624.6" r="3.1"/>
<circle cx="1044.9" cy="630.1" r="3.1"/>
<circle cx="1107.6" cy="610.4" r="3.1"/>
<circle cx="1107.9" cy="602.7" r="3.1"/>
<circle cx="1052.6" cy="626.2" r="3.1"/>
<circle cx="1146.3" cy="634.6" r="3.1"/>
<circle cx="1062.2" cy="617.6" r="3.1"/>
<circle cx="1058.6" cy="621.4" r="3.1"/>
<circle cx="1055.9" cy="634.0" r="3.1"/>
<circle cx="1082.8" cy="604.4" r="3.1"/>
<circle cx="1118.2" cy="612.3" r="3.1"/>
<circle cx="1120.4" cy="621.9" r="3.1"/>
<circle cx="1165.0" cy="632.3" r="3.1"/>
<circle cx="1120.5" cy="636.9" r="3.1"/>
<circle cx="1072.0" cy="615.6" r="3.1"/>
<circle cx="1162.3" cy="628.2" r="3.1"/>
<circle cx="1047.0" cy="619.2" r="3.1"/>
<circle cx="1067.2" cy="616.8" r="3.1"/>
<circle cx="1064.5" cy="637.7" r="3.1"/>
<circle cx="1138.9" cy="622.3" r="3.1"/>
<circle cx="1117.4" cy="607.9" r="3.1"/>
<circle cx="1116.0" cy="621.0" r="3.1"/>
<circle cx="1081.2" cy="615.9" r="3.1"/>
<circle cx="1071.5" cy="629.1" r="3.1"/>
<circle cx="1143.8" cy="628.5" r="3.1"/>
<circle cx="1132.3" cy="612.8" r="3.1"/>
<circle cx="1082.3" cy="639.8" r="3.1"/>
<circle cx="1148.6" cy="617.8" r="3.1"/>
<circle cx="1134.5" cy="604.3" r="3.1"/>
<circle cx="1092.2" cy="620.6" r="3.1"/>
<circle cx="1118.4" cy="600.3" r="3.1"/>
<circle cx="1076.0" cy="606.8" r="3.1"/>
<circle cx="1162.5" cy="635.8" r="3.1"/>
<circle cx="1042.2" cy="636.4" r="3.1"/>
<circle cx="1122.6" cy="630.2" r="3.1"/>
<circle cx="1161.4" cy="638.3" r="3.1"/>
<circle cx="1154.5" cy="631.2" r="3.1"/>
<circle cx="1157.8" cy="632.4" r="3.1"/>
<circle cx="1054.2" cy="619.1" r="3.1"/>
<circle cx="1078.3" cy="597.6" r="3.1"/>
<circle cx="1145.3" cy="631.7" r="3.1"/>
<circle cx="1102.7" cy="615.0" r="3.1"/>
<circle cx="1138.9" cy="630.4" r="3.1"/>
<circle cx="1112.5" cy="616.4" r="3.1"/>
<circle cx="1115.3" cy="614.7" r="3.1"/>
<circle cx="1095.3" cy="622.4" r="3.1"/>
<circle cx="1090.6" cy="594.8" r="3.1"/>
<circle cx="1106.9" cy="635.2" r="3.1"/>
<circle cx="1090.4" cy="605.1" r="3.1"/>
<circle cx="1127.3" cy="636.6" r="3.1"/>
<circle cx="1092.9" cy="619.4" r="3.1"/>
<circle cx="1148.2" cy="632.0" r="3.1"/>
<circle cx="1157.3" cy="621.5" r="3.1"/>
<circle cx="1042.5" cy="628.8" r="3.1"/>
<circle cx="1108.2" cy="611.3" r="3.1"/>
<circle cx="1153.6" cy="634.8" r="3.1"/>
<circle cx="1146.0" cy="639.7" r="3.1"/>
<circle cx="1146.6" cy="631.8" r="3.1"/>
<circle cx="1043.4" cy="621.2" r="3.1"/>
<circle cx="1164.3" cy="630.8" r="3.1"/>
<circle cx="1139.6" cy="625.7" r="3.1"/>
<circle cx="1071.7" cy="612.4" r="3.1"/>
<circle cx="1143.5" cy="630.9" r="3.1"/>
<circle cx="1088.1" cy="627.7" r="3.1"/>
<circle cx="1073.9" cy="603.0" r="3.1"/>
<circle cx="1040.9" cy="639.5" r="3.1"/>
<circle cx="1063.6" cy="611.0" r="3.1"/>
<circle cx="1113.0" cy="605.5" r="3.1"/>
<circle cx="1129.1" cy="603.0" r="3.1"/>
<circle cx="1115.1" cy="639.0" r="3.1"/>
<circle cx="1053.1" cy="627.6" r="3.1"/>
<circle cx="1055.2" cy="630.2" r="3.1"/>
<circle cx="1075.2" cy="597.3" r="3.1"/>
<circle cx="1163.5" cy="629.8" r="3.1"/>
<circle cx="1093.9" cy="621.2" r="3.1"/>
<circle cx="1049.0" cy="627.7" r="3.1"/>
<circle cx="1058.4" cy="621.9" r="3.1"/>
<circle cx="1144.5" cy="626.8" r="3.1"/>
<circle cx="1130.4" cy="606.6" r="3.1"/>
<circle cx="1157.1" cy="630.2" r="3.1"/>
<circle cx="1070.3" cy="603.8" r="3.1"/>
<circle cx="1103.9" cy="627.6" r="3.1"/>
<circle cx="1127.5" cy="603.3" r="3.1"/>
<circle cx="1165.9" cy="635.6" r="3.1"/>
<circle cx="1073.9" cy="629.3" r="3.1"/>
<circle cx="1078.2" cy="630.2" r="3.1"/>
<circle cx="1157.7" cy="625.8" r="3.1"/>
<circle cx="1046.4" cy="637.6" r="3.1"/>
<circle cx="1063.7" cy="604.1" r="3.1"/>
<circle cx="1083.8" cy="603.3" r="3.1"/>
<circle cx="1068.8" cy="632.2" r="3.1"/>
<circle cx="1160.6" cy="638.5" r="3.1"/>
<circle cx="1104.1" cy="615.9" r="3.1"/>
<circle cx="1083.2" cy="605.6" r="3.1"/>
<circle cx="1149.3" cy="633.3" r="3.1"/>
<circle cx="1078.6" cy="618.0" r="3.1"/>
<circle cx="1101.4" cy="611.2" r="3.1"/>
<circle cx="1139.1" cy="627.7" r="3.1"/>
<circle cx="1160.4" cy="631.0" r="3.1"/>
<circle cx="1043.7" cy="630.2" r="3.1"/>
<circle cx="1107.8" cy="631.7" r="3.1"/>
<circle cx="1152.6" cy="624.2" r="3.1"/>
<circle cx="1106.6" cy="627.1" r="3.1"/>
<circle cx="1057.0" cy="630.9" r="3.1"/>
<circle cx="1122.1" cy="609.0" r="3.1"/>
<circle cx="1127.5" cy="638.6" r="3.1"/>
<circle cx="1139.6" cy="614.9" r="3.1"/>
<circle cx="1127.3" cy="617.7" r="3.1"/>
<circle cx="1149.3" cy="612.0" r="3.1"/>
<circle cx="1114.7" cy="620.3" r="3.1"/>
<circle cx="1109.3" cy="603.5" r="3.1"/>
<circle cx="1126.6" cy="606.6" r="3.1"/>
<circle cx="1079.6" cy="612.6" r="3.1"/>
<circle cx="1070.2" cy="616.5" r="3.1"/>
<circle cx="1041.9" cy="628.2" r="3.1"/>
<circle cx="1133.1" cy="604.0" r="3.1"/>
<circle cx="1102.1" cy="600.3" r="3.1"/>
<circle cx="1065.6" cy="639.6" r="3.1"/>
<circle cx="1110.8" cy="624.4" r="3.1"/>
<circle cx="1090.6" cy="612.8" r="3.1"/>
<circle cx="1136.7" cy="607.6" r="3.1"/>
<circle cx="1081.4" cy="613.5" r="3.1"/>
<circle cx="1120.6" cy="608.8" r="3.1"/>
<circle cx="1114.7" cy="618.8" r="3.1"/>
<circle cx="1143.6" cy="639.3" r="3.1"/>
<circle cx="1140.6" cy="634.1" r="3.1"/>
<circle cx="1063.3" cy="615.2" r="3.1"/>
<circle cx="1098.2" cy="624.4" r="3.1"/>
<circle cx="1050.0" cy="638.6" r="3.1"/>
<circle cx="1074.3" cy="635.9" r="3.1"/>
<circle cx="1129.2" cy="631.6" r="3.1"/>
<circle cx="1088.7" cy="620.8" r="3.1"/>
<circle cx="1130.2" cy="606.4" r="3.1"/>
<circle cx="1120.9" cy="630.1" r="3.1"/>
<circle cx="1057.6" cy="621.3" r="3.1"/>
<circle cx="1086.9" cy="607.0" r="3.1"/>
<circle cx="1067.6" cy="612.9" r="3.1"/>
<circle cx="1085.9" cy="627.3" r="3.1"/>
<circle cx="1063.1" cy="612.3" r="3.1"/>
<circle cx="1104.5" cy="615.3" r="3.1"/>
<circle cx="1146.5" cy="639.2" r="3.1"/>
<circle cx="1109.8" cy="625.0" r="3.1"/>
<circle cx="1071.2" cy="605.9" r="3.1"/>
<circle cx="1071.1" cy="623.2" r="3.1"/>
<circle cx="1095.5" cy="633.7" r="3.1"/>
<circle cx="1079.7" cy="639.8" r="3.1"/>
<circle cx="1104.0" cy="611.4" r="3.1"/>
<circle cx="1168.0" cy="639.6" r="3.1"/>
<circle cx="1082.5" cy="596.2" r="3.1"/>
<circle cx="1053.3" cy="635.5" r="3.1"/>
<circle cx="1107.8" cy="608.9" r="3.1"/>
<circle cx="1116.0" cy="638.3" r="3.1"/>
<circle cx="1092.2" cy="617.6" r="3.1"/>
<circle cx="1089.5" cy="605.4" r="3.1"/>
<circle cx="1135.3" cy="636.7" r="3.1"/>
<circle cx="1140.9" cy="616.6" r="3.1"/>
<circle cx="1165.1" cy="630.5" r="3.1"/>
<circle cx="1090.4" cy="602.0" r="3.1"/>
<circle cx="1118.4" cy="612.8" r="3.1"/>
<circle cx="1116.0" cy="605.8" r="3.1"/>
<circle cx="1130.7" cy="621.3" r="3.1"/>
<circle cx="1140.8" cy="625.1" r="3.1"/>
<circle cx="1134.8" cy="604.7" r="3.1"/>
<circle cx="1107.8" cy="633.3" r="3.1"/>
<circle cx="1156.0" cy="634.9" r="3.1"/>
<circle cx="1067.0" cy="638.2" r="3.1"/>
<circle cx="1093.7" cy="621.8" r="3.1"/>
<circle cx="1144.7" cy="634.4" r="3.1"/>
<circle cx="1088.3" cy="605.0" r="3.1"/>
<circle cx="1043.0" cy="630.6" r="3.1"/>
<circle cx="1059.0" cy="613.4" r="3.1"/>
<circle cx="1078.3" cy="633.6" r="3.1"/>
<circle cx="1054.3" cy="633.5" r="3.1"/>
<circle cx="1130.0" cy="635.2" r="3.1"/>
<circle cx="1045.1" cy="634.2" r="3.1"/>
<circle cx="1045.4" cy="622.0" r="3.1"/>
<circle cx="1137.1" cy="620.1" r="3.1"/>
<circle cx="1082.7" cy="638.2" r="3.1"/>
<circle cx="1131.5" cy="630.2" r="3.1"/>
<circle cx="1110.3" cy="595.0" r="3.1"/>
<circle cx="1070.7" cy="611.8" r="3.1"/>
<circle cx="1096.0" cy="615.7" r="3.1"/>
<circle cx="1091.8" cy="608.1" r="3.1"/>
<circle cx="1106.6" cy="638.5" r="3.1"/>
<circle cx="1144.9" cy="632.2" r="3.1"/>
<circle cx="1084.9" cy="618.2" r="3.1"/>
<circle cx="1116.0" cy="605.5" r="3.1"/>
<circle cx="1055.2" cy="627.9" r="3.1"/>
<circle cx="1119.5" cy="618.6" r="3.1"/>
<circle cx="1071.1" cy="607.2" r="3.1"/>
<circle cx="1163.3" cy="630.1" r="3.1"/>
<circle cx="1108.5" cy="633.0" r="3.1"/>
<circle cx="1080.4" cy="620.1" r="3.1"/>
<circle cx="1097.3" cy="625.9" r="3.1"/>
<circle cx="1118.9" cy="626.5" r="3.1"/>
<circle cx="1158.0" cy="621.4" r="3.1"/>
<circle cx="1079.4" cy="637.0" r="3.1"/>
<circle cx="1043.0" cy="621.5" r="3.1"/>
<circle cx="1094.2" cy="634.5" r="3.1"/>
<circle cx="929.9" cy="606.3" r="3.1"/>
<circle cx="1013.0" cy="622.0" r="3.1"/>
<circle cx="1211.0" cy="602.0" r="3.1"/>
<circle cx="1164.3" cy="593.6" r="3.1"/>
<circle cx="1172.0" cy="596.0" r="3.1"/>
<circle cx="1150.0" cy="592.0" r="3.1"/>
<circle cx="1040.0" cy="605.0" r="3.1"/>
<circle cx="1050.0" cy="600.0" r="3.1"/>
<circle cx="1045.0" cy="627.0" r="3.1"/>
</g>
<g fill="#e8474a">
<circle cx="1100.4" cy="580.3" r="3.1"/>
<circle cx="1103.5" cy="587.1" r="3.1"/>
<circle cx="1106.5" cy="572.8" r="3.1"/>
<circle cx="1106.3" cy="574.1" r="3.1"/>
<circle cx="1102.3" cy="555.1" r="3.1"/>
<circle cx="1101.9" cy="545.1" r="3.1"/>
<circle cx="1110.5" cy="590.6" r="3.1"/>
<circle cx="1099.6" cy="585.0" r="3.1"/>
<circle cx="1105.1" cy="549.8" r="3.1"/>
<circle cx="1100.1" cy="559.1" r="3.1"/>
<circle cx="1101.2" cy="566.3" r="3.1"/>
<circle cx="1108.4" cy="550.2" r="3.1"/>
<circle cx="1116.7" cy="570.6" r="3.1"/>
<circle cx="1114.3" cy="553.8" r="3.1"/>
<circle cx="1113.6" cy="576.1" r="3.1"/>
<circle cx="1114.6" cy="551.1" r="3.1"/>
<circle cx="1118.0" cy="564.4" r="3.1"/>
<circle cx="1101.1" cy="587.2" r="3.1"/>
<circle cx="1105.5" cy="585.9" r="3.1"/>
<circle cx="1103.6" cy="545.6" r="3.1"/>
<circle cx="1109.5" cy="568.9" r="3.1"/>
<circle cx="1112.6" cy="573.4" r="3.1"/>
<circle cx="1106.6" cy="579.2" r="3.1"/>
<circle cx="1109.5" cy="549.1" r="3.1"/>
<circle cx="1110.9" cy="559.3" r="3.1"/>
<circle cx="1110.1" cy="549.8" r="3.1"/>
<circle cx="1104.4" cy="555.0" r="3.1"/>
<circle cx="1112.4" cy="543.2" r="3.1"/>
<circle cx="1107.6" cy="561.7" r="3.1"/>
<circle cx="1116.5" cy="548.0" r="3.1"/>
<circle cx="1109.5" cy="581.7" r="3.1"/>
<circle cx="1107.5" cy="588.8" r="3.1"/>
<circle cx="1104.5" cy="566.3" r="3.1"/>
<circle cx="1105.5" cy="555.8" r="3.1"/>
<circle cx="1100.9" cy="580.1" r="3.1"/>
<circle cx="1112.3" cy="583.0" r="3.1"/>
<circle cx="1108.8" cy="550.9" r="3.1"/>
<circle cx="1112.4" cy="587.8" r="3.1"/>
<circle cx="1110.4" cy="554.9" r="3.1"/>
<circle cx="1109.7" cy="583.8" r="3.1"/>
<circle cx="1115.5" cy="572.7" r="3.1"/>
<circle cx="1114.0" cy="543.6" r="3.1"/>
<circle cx="1102.2" cy="542.5" r="3.1"/>
<circle cx="1108.3" cy="566.0" r="3.1"/>
<circle cx="1099.8" cy="582.2" r="3.1"/>
<circle cx="1110.2" cy="577.8" r="3.1"/>
<circle cx="1118.3" cy="579.5" r="3.1"/>
<circle cx="1114.1" cy="573.3" r="3.1"/>
<circle cx="1109.7" cy="579.6" r="3.1"/>
<circle cx="1114.8" cy="556.6" r="3.1"/>
<circle cx="1115.2" cy="549.3" r="3.1"/>
<circle cx="1109.9" cy="587.1" r="3.1"/>
<circle cx="1103.8" cy="585.7" r="3.1"/>
<circle cx="1108.9" cy="577.8" r="3.1"/>
<circle cx="1102.5" cy="544.5" r="3.1"/>
<circle cx="1104.4" cy="571.2" r="3.1"/>
<circle cx="1116.9" cy="569.7" r="3.1"/>
<circle cx="1109.7" cy="560.6" r="3.1"/>
<circle cx="1109.3" cy="577.0" r="3.1"/>
<circle cx="1116.4" cy="559.0" r="3.1"/>
<circle cx="1112.6" cy="559.0" r="3.1"/>
<circle cx="1104.4" cy="544.7" r="3.1"/>
<circle cx="1107.4" cy="571.8" r="3.1"/>
<circle cx="1109.4" cy="564.0" r="3.1"/>
<circle cx="1114.5" cy="564.2" r="3.1"/>
<circle cx="1113.0" cy="569.2" r="3.1"/>
<circle cx="1118.0" cy="558.3" r="3.1"/>
<circle cx="1108.1" cy="579.6" r="3.1"/>
<circle cx="1105.3" cy="580.9" r="3.1"/>
<circle cx="1105.8" cy="549.5" r="3.1"/>
<circle cx="1110.1" cy="569.5" r="3.1"/>
<circle cx="1105.5" cy="555.4" r="3.1"/>
<circle cx="1119.0" cy="566.7" r="3.1"/>
<circle cx="1113.3" cy="562.6" r="3.1"/>
<circle cx="1110.2" cy="556.0" r="3.1"/>
<circle cx="1102.8" cy="582.8" r="3.1"/>
<circle cx="1112.8" cy="556.9" r="3.1"/>
<circle cx="1107.4" cy="569.4" r="3.1"/>
<circle cx="1100.8" cy="572.1" r="3.1"/>
<circle cx="1118.9" cy="575.6" r="3.1"/>
<circle cx="1108.6" cy="547.9" r="3.1"/>
<circle cx="1110.0" cy="570.5" r="3.1"/>
<circle cx="1113.1" cy="585.2" r="3.1"/>
<circle cx="1104.7" cy="547.1" r="3.1"/>
<circle cx="1118.4" cy="568.2" r="3.1"/>
<circle cx="1116.8" cy="571.6" r="3.1"/>
<circle cx="1117.1" cy="571.5" r="3.1"/>
<circle cx="1113.7" cy="573.1" r="3.1"/>
<circle cx="1118.1" cy="578.8" r="3.1"/>
<circle cx="1118.5" cy="562.4" r="3.1"/>
</g>
<g fill="#e8474a">
<circle cx="1102.9" cy="472.5" r="3.1"/>
<circle cx="1106.4" cy="503.4" r="3.1"/>
<circle cx="1109.7" cy="495.5" r="3.1"/>
<circle cx="1113.5" cy="490.3" r="3.1"/>
<circle cx="1100.1" cy="500.9" r="3.1"/>
<circle cx="1109.2" cy="476.1" r="3.1"/>
<circle cx="1110.4" cy="472.1" r="3.1"/>
<circle cx="1112.7" cy="493.8" r="3.1"/>
<circle cx="1113.3" cy="508.4" r="3.1"/>
<circle cx="1110.1" cy="472.9" r="3.1"/>
<circle cx="1112.3" cy="541.1" r="3.1"/>
<circle cx="1102.1" cy="505.4" r="3.1"/>
<circle cx="1102.2" cy="531.6" r="3.1"/>
<circle cx="1112.1" cy="534.3" r="3.1"/>
<circle cx="1110.8" cy="488.7" r="3.1"/>
<circle cx="1108.8" cy="460.1" r="3.1"/>
<circle cx="1101.5" cy="503.3" r="3.1"/>
<circle cx="1110.4" cy="480.6" r="3.1"/>
<circle cx="1100.2" cy="458.9" r="3.1"/>
<circle cx="1104.6" cy="487.4" r="3.1"/>
<circle cx="1112.7" cy="515.0" r="3.1"/>
<circle cx="1112.3" cy="520.7" r="3.1"/>
</g>
<g fill="#6c9bd2">
<circle cx="1081.7" cy="371.8" r="3.1"/>
<circle cx="1079.0" cy="500.4" r="3.1"/>
<circle cx="1081.7" cy="528.0" r="3.1"/>
<circle cx="1086.9" cy="525.0" r="3.1"/>
<circle cx="1081.7" cy="532.0" r="3.1"/>
<circle cx="1091.6" cy="544.0" r="3.1"/>
<circle cx="1088.0" cy="554.0" r="3.1"/>
<circle cx="1091.0" cy="558.0" r="3.1"/>
<circle cx="1086.0" cy="562.0" r="3.1"/>
<circle cx="1090.0" cy="566.0" r="3.1"/>
<circle cx="1088.0" cy="570.0" r="3.1"/>
<circle cx="1092.0" cy="573.0" r="3.1"/>
<circle cx="1077.8" cy="581.5" r="3.1"/>
<circle cx="1091.6" cy="587.4" r="3.1"/>
<circle cx="1084.0" cy="578.0" r="3.1"/>
<circle cx="1089.0" cy="583.0" r="3.1"/>
</g>
<g fill="#e8474a">
<circle cx="1112.6" cy="193.8" r="3.1"/>
<circle cx="1107.4" cy="271.0" r="3.1"/>
<circle cx="1103.5" cy="417.3" r="3.1"/>
<circle cx="1116.5" cy="437.0" r="3.1"/>
<circle cx="1107.4" cy="457.0" r="3.1"/>
<circle cx="1105.0" cy="463.0" r="3.1"/>
<circle cx="1108.0" cy="468.0" r="3.1"/>
<circle cx="1104.0" cy="474.0" r="3.1"/>
<circle cx="1109.0" cy="480.0" r="3.1"/>
<circle cx="1105.0" cy="486.0" r="3.1"/>
<circle cx="1110.0" cy="491.0" r="3.1"/>
<circle cx="1104.0" cy="497.0" r="3.1"/>
<circle cx="1108.0" cy="502.0" r="3.1"/>
<circle cx="1106.0" cy="508.0" r="3.1"/>
<circle cx="1110.0" cy="514.0" r="3.1"/>
<circle cx="1103.0" cy="519.0" r="3.1"/>
<circle cx="1108.0" cy="524.0" r="3.1"/>
<circle cx="1112.0" cy="528.0" r="3.1"/>
<circle cx="1104.0" cy="531.0" r="3.1"/>
<circle cx="1109.0" cy="535.0" r="3.1"/>
<circle cx="1113.0" cy="539.0" r="3.1"/>
<circle cx="1103.0" cy="542.0" r="3.1"/>
<circle cx="1107.0" cy="546.0" r="3.1"/>
<circle cx="1111.0" cy="549.0" r="3.1"/>
<circle cx="1115.0" cy="552.0" r="3.1"/>
<circle cx="1103.0" cy="555.0" r="3.1"/>
<circle cx="1107.0" cy="558.0" r="3.1"/>
<circle cx="1111.0" cy="561.0" r="3.1"/>
<circle cx="1115.0" cy="563.0" r="3.1"/>
<circle cx="1102.0" cy="566.0" r="3.1"/>
<circle cx="1106.0" cy="569.0" r="3.1"/>
<circle cx="1110.0" cy="571.0" r="3.1"/>
<circle cx="1114.0" cy="573.0" r="3.1"/>
<circle cx="1102.0" cy="576.0" r="3.1"/>
<circle cx="1106.0" cy="578.0" r="3.1"/>
<circle cx="1110.0" cy="580.0" r="3.1"/>
<circle cx="1114.0" cy="582.0" r="3.1"/>
<circle cx="1103.0" cy="585.0" r="3.1"/>
<circle cx="1107.0" cy="587.0" r="3.1"/>
<circle cx="1111.0" cy="588.0" r="3.1"/>
<circle cx="1115.0" cy="589.0" r="3.1"/>
<circle cx="1104.0" cy="591.0" r="3.1"/>
<circle cx="1109.0" cy="591.0" r="3.1"/>
<circle cx="1113.0" cy="591.0" r="3.1"/>
<circle cx="1101.0" cy="589.0" r="3.1"/>
<circle cx="1117.0" cy="586.0" r="3.1"/>
<circle cx="1117.0" cy="578.0" r="3.1"/>
<circle cx="1113.0" cy="556.0" r="3.1"/>
<circle cx="1112.0" cy="545.0" r="3.1"/>
<circle cx="1116.0" cy="533.0" r="3.1"/>
</g>
<g fill="#2f3b9b">
<circle cx="1073.8" cy="298.7" r="3.1"/>
<circle cx="1028.3" cy="545.0" r="3.1"/>
<circle cx="1064.0" cy="555.8" r="3.1"/>
<circle cx="1060.0" cy="561.7" r="3.1"/>
<circle cx="1026.3" cy="564.9" r="3.1"/>
<circle cx="1071.0" cy="580.7" r="3.1"/>
<circle cx="1040.0" cy="583.5" r="3.1"/>
<circle cx="1048.0" cy="586.6" r="3.1"/>
</g>
<g fill="#8b1e1e">
<circle cx="1123.0" cy="193.8" r="3.1"/>
<circle cx="1128.0" cy="193.8" r="3.1"/>
<circle cx="1134.5" cy="193.8" r="3.1"/>
<circle cx="1138.5" cy="193.8" r="3.1"/>
<circle cx="1208.3" cy="193.8" r="3.1"/>
<circle cx="1122.5" cy="266.2" r="3.1"/>
<circle cx="1147.8" cy="278.9" r="3.1"/>
<circle cx="1126.0" cy="288.0" r="3.1"/>
<circle cx="1147.8" cy="338.2" r="3.1"/>
<circle cx="1168.0" cy="347.0" r="3.1"/>
<circle cx="1123.3" cy="350.9" r="3.1"/>
<circle cx="1126.0" cy="408.2" r="3.1"/>
<circle cx="1123.3" cy="445.8" r="3.1"/>
<circle cx="1192.5" cy="465.6" r="3.1"/>
<circle cx="1123.3" cy="477.5" r="3.1"/>
<circle cx="1122.0" cy="499.6" r="3.1"/>
<circle cx="1255.0" cy="534.0" r="3.1"/>
<circle cx="1285.4" cy="537.2" r="3.1"/>
<circle cx="1123.3" cy="542.0" r="3.1"/>
<circle cx="1133.0" cy="542.0" r="3.1"/>
<circle cx="1124.4" cy="548.7" r="3.1"/>
<circle cx="1134.0" cy="547.8" r="3.1"/>
<circle cx="1168.0" cy="552.6" r="3.1"/>
<circle cx="1131.0" cy="563.7" r="3.1"/>
<circle cx="1142.2" cy="568.4" r="3.1"/>
<circle cx="1200.4" cy="574.4" r="3.1"/>
<circle cx="1192.5" cy="582.3" r="3.1"/>
<circle cx="1151.0" cy="580.3" r="3.1"/>
<circle cx="1129.2" cy="573.6" r="3.1"/>
<circle cx="1126.4" cy="590.6" r="3.1"/>
</g>
<line x1="810.3" y1="94.8" x2="810.3" y2="678.0" stroke="#000" stroke-width="2.3"/>
<line x1="806.0" y1="674.3" x2="1391.0" y2="674.3" stroke="#000" stroke-width="2.3"/>
<line x1="793.0" y1="638.0" x2="810.3" y2="638.0" stroke="#000" stroke-width="2.3"/>
<text x="786.0" y="652.8" font-size="28" text-anchor="end">0</text>
<line x1="793.0" y1="458.0" x2="810.3" y2="458.0" stroke="#000" stroke-width="2.3"/>
<text x="786.0" y="472.8" font-size="28" text-anchor="end">5</text>
<line x1="793.0" y1="278.0" x2="810.3" y2="278.0" stroke="#000" stroke-width="2.3"/>
<text x="786.0" y="292.8" font-size="28" text-anchor="end">10</text>
<line x1="793.0" y1="98.0" x2="810.3" y2="98.0" stroke="#000" stroke-width="2.3"/>
<text x="786.0" y="112.8" font-size="28" text-anchor="end">15</text>
<line x1="918.0" y1="674.3" x2="918.0" y2="691.5" stroke="#000" stroke-width="2.3"/>
<text x="914.0" y="721.5" font-size="28" text-anchor="middle">-5</text>
<line x1="1098.0" y1="674.3" x2="1098.0" y2="691.5" stroke="#000" stroke-width="2.3"/>
<text x="1098.0" y="721.5" font-size="28" text-anchor="middle">0</text>
<line x1="1278.0" y1="674.3" x2="1278.0" y2="691.5" stroke="#000" stroke-width="2.3"/>
<text x="1278.0" y="721.5" font-size="28" text-anchor="middle">5</text>
<text x="1093.5" y="758.6" font-size="28" text-anchor="middle">Log<tspan font-size="17" font-weight="bold" dy="2">2</tspan><tspan dy="-2"> (FC)</tspan></text>
<text transform="translate(741.8,379) rotate(-90)" font-size="28" text-anchor="middle">-Log<tspan font-size="15.5" font-weight="bold">10</tspan> (adjusted p value)</text>
<text x="1380.0" y="157.5" font-size="27.6" text-anchor="end">Stpg1</text>
<line x1="1305.2" y1="137.7" x2="1137.0" y2="187.9" stroke="#000" stroke-width="1.1"/>
<text x="1380.0" y="197.5" font-size="27.6" text-anchor="end">Col6a2</text>
<line x1="1294.5" y1="176.8" x2="1143.0" y2="193.8" stroke="#000" stroke-width="1.1"/>
<text x="1380.0" y="226.0" font-size="27.6" text-anchor="end">Pcdhga11</text>
<line x1="1251.8" y1="216.8" x2="1125.2" y2="197.8" stroke="#000" stroke-width="1.1"/>
<text x="1380.0" y="266.0" font-size="27.6" text-anchor="end">Pcdhga2</text>
<line x1="1269.6" y1="254.0" x2="1125.2" y2="197.8" stroke="#000" stroke-width="1.1"/>
<text x="1380.0" y="316.5" font-size="27.6" text-anchor="end">Prss41</text>
<line x1="1293.4" y1="292.7" x2="1214.0" y2="197.0" stroke="#000" stroke-width="1.1"/>
<text x="1380.0" y="356.0" font-size="27.6" text-anchor="end">Card10</text>
<line x1="1291.4" y1="335.4" x2="1125.2" y2="197.8" stroke="#000" stroke-width="1.1"/>
<text x="1380.0" y="396.0" font-size="27.6" text-anchor="end">Krt9</text>
<line x1="1324.2" y1="375.8" x2="1127.2" y2="269.0" stroke="#000" stroke-width="1.1"/>
<text x="1380.0" y="436.0" font-size="27.6" text-anchor="end">Pirt</text>
<line x1="1329.7" y1="415.3" x2="1154.1" y2="280.0" stroke="#000" stroke-width="1.1"/>
<text x="1380.0" y="475.0" font-size="27.6" text-anchor="end">Plcg2</text>
<line x1="1305.2" y1="455.0" x2="1129.2" y2="292.7" stroke="#000" stroke-width="1.1"/>
<text x="1380.0" y="513.5" font-size="27.6" text-anchor="end">Tnfrsf8</text>
<line x1="1279.5" y1="494.5" x2="1151.0" y2="342.2" stroke="#000" stroke-width="1.1"/>
<text x="814.0" y="305.0" font-size="27.6">Pcdhgb2</text>
<line x1="939.3" y1="296.0" x2="1066.0" y2="299.4" stroke="#000" stroke-width="1.1"/>
<text x="814.0" y="344.5" font-size="27.6">Fermt1</text>
<line x1="914.8" y1="338.2" x2="1027.5" y2="541.1" stroke="#000" stroke-width="1.1"/>
<text x="814.0" y="384.0" font-size="27.6">Tmem255</text>
<line x1="947.2" y1="379.0" x2="1062.0" y2="550.0" stroke="#000" stroke-width="1.1"/>
<text x="814.0" y="423.5" font-size="27.6">Abi3bp</text>
<line x1="907.7" y1="413.4" x2="1054.0" y2="555.8" stroke="#000" stroke-width="1.1"/>
<text x="814.0" y="462.5" font-size="27.6">Fam220a</text>
<line x1="935.4" y1="463.6" x2="1022.4" y2="563.7" stroke="#000" stroke-width="1.1"/>
<text x="814.0" y="502.0" font-size="27.6">Tead2</text>
<line x1="899.8" y1="493.7" x2="1067.9" y2="577.5" stroke="#000" stroke-width="1.1"/>
<text x="814.0" y="540.5" font-size="27.6">Ptgfr</text>
<line x1="903.7" y1="533.2" x2="1035.4" y2="581.5" stroke="#000" stroke-width="1.1"/>
<text x="814.0" y="580.0" font-size="27.6">Capn12</text>
<line x1="917.6" y1="572.8" x2="1044.1" y2="588.6" stroke="#000" stroke-width="1.1"/>
<text x="1428.3" y="34.0" font-size="40" font-weight="bold">b</text>
<line x1="1436.8" y1="62.0" x2="1915.0" y2="62.0" stroke="#000" stroke-width="2.2"/>
<line x1="1436.8" y1="111.0" x2="1915.0" y2="111.0" stroke="#000" stroke-width="2.2"/>
<line x1="1436.8" y1="233.6" x2="1915.0" y2="233.6" stroke="#000" stroke-width="2.2"/>
<text x="1517.0" y="96.0" font-size="28" text-anchor="middle">Age</text>
<text x="1702.0" y="96.0" font-size="28" text-anchor="middle">HT/WT</text>
<text x="1633.0" y="145.0" font-size="28" text-anchor="middle">All</text>
<text x="1727.5" y="145.0" font-size="28" text-anchor="middle" fill="#d42a2a">Up</text>
<text x="1831.7" y="145.0" font-size="28" text-anchor="middle" fill="#3a78b8">Down</text>
<text x="1506.0" y="183.0" font-size="28" text-anchor="middle">Juvenile</text>
<text x="1514.5" y="220.0" font-size="28" text-anchor="middle">Adult</text>
<text x="1632.5" y="183.0" font-size="28" text-anchor="middle">161</text>
<text x="1632.5" y="220.0" font-size="28" text-anchor="middle">213</text>
<text x="1728.5" y="183.0" font-size="28" text-anchor="middle">89</text>
<text x="1728.5" y="220.0" font-size="28" text-anchor="middle">178</text>
<text x="1840.6" y="183.0" font-size="28" text-anchor="middle">72</text>
<text x="1840.6" y="220.0" font-size="28" text-anchor="middle">35</text>
<defs><clipPath id="cpj"><circle cx="1600.5" cy="420.8" r="130.7"/></clipPath></defs>
<circle cx="1600.5" cy="420.8" r="130.7" fill="#fbe2d5"/>
<ellipse cx="1754.6" cy="406.4" rx="157" ry="159.2" fill="#e4f5da"/>
<ellipse cx="1754.6" cy="406.4" rx="157" ry="159.2" fill="#b4d79a" clip-path="url(#cpj)"/>
<circle cx="1600.5" cy="420.8" r="130.7" fill="none" stroke="#000" stroke-width="2.2"/>
<ellipse cx="1754.6" cy="406.4" rx="157" ry="159.2" fill="none" stroke="#000" stroke-width="2.2"/>
<text x="1527.0" y="408.7" font-size="28" text-anchor="middle">106</text>
<text x="1536.5" y="443.8" font-size="28" text-anchor="middle">(33.2%)</text>
<text x="1655.0" y="408.5" font-size="28" text-anchor="middle">55</text>
<text x="1658.7" y="447.8" font-size="28" text-anchor="middle">(17.2%)</text>
<text x="1798.0" y="409.4" font-size="28" text-anchor="middle">158</text>
<text x="1804.5" y="447.8" font-size="28" text-anchor="middle">(49.5%)</text>
<text x="1591.6" y="603.5" font-size="28" text-anchor="middle">Juvenile</text>
<text x="1767.0" y="604.5" font-size="28" text-anchor="middle">Adult</text>
<text x="7.0" y="797.0" font-size="40" font-weight="bold">c</text>
<text x="36.0" y="797.0" font-size="28">DAVID analysis</text>
<rect x="0.0" y="827.0" width="140.6" height="50.7" fill="#ee7d27"/>
<text x="70.3" y="862.4" font-size="28" text-anchor="middle" fill="#fff">Juvenile</text>
<line x1="520.0" y1="891.0" x2="520.0" y2="1084.0" stroke="#000" stroke-width="2.2"/>
<line x1="519.0" y1="1083.0" x2="1026.7" y2="1083.0" stroke="#000" stroke-width="2.2"/>
<line x1="520.0" y1="1083.0" x2="520.0" y2="1092.0" stroke="#000" stroke-width="2.2"/>
<text x="520.0" y="1120.0" font-size="28" text-anchor="middle">0</text>
<line x1="688.5" y1="1083.0" x2="688.5" y2="1092.0" stroke="#000" stroke-width="2.2"/>
<text x="688.5" y="1120.0" font-size="28" text-anchor="middle">5</text>
<line x1="857.1" y1="1083.0" x2="857.1" y2="1092.0" stroke="#000" stroke-width="2.2"/>
<text x="857.1" y="1120.0" font-size="28" text-anchor="middle">10</text>
<line x1="1025.7" y1="1083.0" x2="1025.7" y2="1092.0" stroke="#000" stroke-width="2.2"/>
<text x="1025.7" y="1120.0" font-size="28" text-anchor="middle">15</text>
<text x="772.5" y="1144.4" font-size="28" text-anchor="middle">-Log<tspan font-size="14.5" font-weight="bold" dy="-1.6">10</tspan><tspan dy="1.6" dx="3"> (FDR)</tspan></text>
<rect x="521.0" y="901.9" width="261.9" height="13.5" fill="#f8a050"/>
<line x1="512.0" y1="908.6" x2="520.0" y2="908.6" stroke="#000" stroke-width="2.2"/>
<text x="506.0" y="916.0" font-size="27.7" text-anchor="end">Calcium ion binding</text>
<rect x="521.0" y="950.1" width="340.7" height="13.5" fill="#5ec98a"/>
<line x1="512.0" y1="956.9" x2="520.0" y2="956.9" stroke="#000" stroke-width="2.2"/>
<text x="499.0" y="947.6" font-size="27.7" text-anchor="end">Homophilic cell adhesion via plasma</text>
<text x="506.0" y="980.7" font-size="27.7" text-anchor="end">membrane adhesion molecules</text>
<rect x="521.0" y="999.9" width="150.4" height="13.5" fill="#f98a8e"/>
<line x1="512.0" y1="1006.6" x2="520.0" y2="1006.6" stroke="#000" stroke-width="2.2"/>
<text x="506.0" y="1013.3" font-size="27.7" text-anchor="end">Plasma membrane</text>
<rect x="521.0" y="1030.2" width="22.0" height="13.5" fill="#f98a8e"/>
<line x1="512.0" y1="1037.0" x2="520.0" y2="1037.0" stroke="#000" stroke-width="2.2"/>
<text x="506.0" y="1044.7" font-size="27.7" text-anchor="end">Integral component of plasma membrane</text>
<rect x="521.0" y="1061.8" width="18.4" height="13.5" fill="#f98a8e"/>
<line x1="512.0" y1="1068.6" x2="520.0" y2="1068.6" stroke="#000" stroke-width="2.2"/>
<text x="506.0" y="1076.0" font-size="27.7" text-anchor="end">Integral component of membrane</text>
<rect x="17.0" y="1147.0" width="43.0" height="20.0" fill="#6c9fd3"/>
<text x="70.3" y="1167.0" font-size="28">KEGG</text>
<rect x="17.0" y="1184.8" width="43.0" height="20.0" fill="#f8a050"/>
<text x="70.3" y="1204.8" font-size="28">Molecular function</text>
<rect x="17.0" y="1222.6" width="43.0" height="20.0" fill="#5ec98a"/>
<text x="70.3" y="1242.6" font-size="28">Biological process</text>
<rect x="17.0" y="1260.4" width="43.0" height="20.0" fill="#f98a8e"/>
<text x="70.3" y="1280.4" font-size="28">Cellular component</text>
<rect x="1044.2" y="826.4" width="141.2" height="51.5" fill="#8c2323"/>
<text x="1110.8" y="862.2" font-size="28" text-anchor="middle" fill="#fff">Adult</text>
<line x1="1512.7" y1="893.0" x2="1512.7" y2="1310.0" stroke="#000" stroke-width="2.2"/>
<line x1="1511.7" y1="1309.0" x2="2019.5" y2="1309.0" stroke="#000" stroke-width="2.2"/>
<line x1="1512.7" y1="1309.0" x2="1512.7" y2="1318.0" stroke="#000" stroke-width="2.2"/>
<text x="1512.7" y="1346.0" font-size="28" text-anchor="middle">0</text>
<line x1="1681.3" y1="1309.0" x2="1681.3" y2="1318.0" stroke="#000" stroke-width="2.2"/>
<text x="1681.3" y="1346.0" font-size="28" text-anchor="middle">2</text>
<line x1="1849.9" y1="1309.0" x2="1849.9" y2="1318.0" stroke="#000" stroke-width="2.2"/>
<text x="1849.9" y="1346.0" font-size="28" text-anchor="middle">4</text>
<line x1="2018.5" y1="1309.0" x2="2018.5" y2="1318.0" stroke="#000" stroke-width="2.2"/>
<text x="2018.5" y="1346.0" font-size="28" text-anchor="middle">6</text>
<text x="1767.5" y="1366.7" font-size="28" text-anchor="middle">-Log<tspan font-size="14.5" font-weight="bold" dy="-1.6">10</tspan><tspan dy="1.6" dx="3"> (FDR)</tspan></text>
<rect x="1513.7" y="904.6" width="289.7" height="12.8" fill="#6c9fd3"/>
<line x1="1504.7" y1="911.0" x2="1512.7" y2="911.0" stroke="#000" stroke-width="2.2"/>
<text x="1499.6" y="916.5" font-size="27.7" text-anchor="end">Calcium signaling pathway</text>
<rect x="1513.7" y="937.1" width="318.1" height="12.8" fill="#f8a050"/>
<line x1="1504.7" y1="943.5" x2="1512.7" y2="943.5" stroke="#000" stroke-width="2.2"/>
<text x="1499.6" y="949.0" font-size="27.7" text-anchor="end">Calcium ion binding</text>
<rect x="1513.7" y="968.3" width="39.0" height="12.8" fill="#f8a050"/>
<line x1="1504.7" y1="974.7" x2="1512.7" y2="974.7" stroke="#000" stroke-width="2.2"/>
<text x="1499.6" y="980.2" font-size="27.7" text-anchor="end">Structural constituent of cytoskeleton</text>
<rect x="1513.7" y="1000.6" width="33.0" height="12.8" fill="#f8a050"/>
<line x1="1504.7" y1="1007.0" x2="1512.7" y2="1007.0" stroke="#000" stroke-width="2.2"/>
<text x="1499.6" y="1012.5" font-size="27.7" text-anchor="end">Calmodulin binding</text>
<rect x="1513.7" y="1031.6" width="30.8" height="12.8" fill="#f8a050"/>
<line x1="1504.7" y1="1038.0" x2="1512.7" y2="1038.0" stroke="#000" stroke-width="2.2"/>
<text x="1499.6" y="1043.5" font-size="27.7" text-anchor="end">Actin binding</text>
<rect x="1513.7" y="1081.6" width="355.9" height="12.8" fill="#5ec98a"/>
<line x1="1504.7" y1="1088.0" x2="1512.7" y2="1088.0" stroke="#000" stroke-width="2.2"/>
<text x="1492.5" y="1076.0" font-size="27.7" text-anchor="end">Homophilic cell adhesion via plasma</text>
<text x="1499.6" y="1109.0" font-size="27.7" text-anchor="end">membrane adhesion molecules</text>
<rect x="1513.7" y="1130.4" width="410.6" height="12.8" fill="#f98a8e"/>
<line x1="1504.7" y1="1136.8" x2="1512.7" y2="1136.8" stroke="#000" stroke-width="2.2"/>
<text x="1499.6" y="1142.3" font-size="27.7" text-anchor="end">Plasma membrane</text>
<rect x="1513.7" y="1161.6" width="308.3" height="12.8" fill="#f98a8e"/>
<line x1="1504.7" y1="1168.0" x2="1512.7" y2="1168.0" stroke="#000" stroke-width="2.2"/>
<text x="1499.6" y="1173.5" font-size="27.7" text-anchor="end">Postsynaptic density</text>
<rect x="1513.7" y="1192.6" width="93.3" height="12.8" fill="#f98a8e"/>
<line x1="1504.7" y1="1199.0" x2="1512.7" y2="1199.0" stroke="#000" stroke-width="2.2"/>
<text x="1499.6" y="1204.5" font-size="27.7" text-anchor="end">Neuronal cell body</text>
<rect x="1513.7" y="1224.6" width="46.3" height="12.8" fill="#f98a8e"/>
<line x1="1504.7" y1="1231.0" x2="1512.7" y2="1231.0" stroke="#000" stroke-width="2.2"/>
<text x="1499.6" y="1236.5" font-size="27.7" text-anchor="end">Synapse</text>
<rect x="1513.7" y="1255.6" width="20.9" height="12.8" fill="#f98a8e"/>
<line x1="1504.7" y1="1262.0" x2="1512.7" y2="1262.0" stroke="#000" stroke-width="2.2"/>
<text x="1499.6" y="1267.5" font-size="27.7" text-anchor="end">Dendrite</text>
<rect x="1513.7" y="1286.6" width="5.1" height="12.8" fill="#f98a8e"/>
<line x1="1504.7" y1="1293.0" x2="1512.7" y2="1293.0" stroke="#000" stroke-width="2.2"/>
<text x="1499.6" y="1298.5" font-size="27.7" text-anchor="end">Postsynaptic membrane</text>
<text x="6.0" y="1405.0" font-size="40" font-weight="bold">d</text>
<text x="187.3" y="1443.7" font-size="28" text-anchor="middle">SynGO gene</text>
<defs><clipPath id="dcb"><circle cx="197.0" cy="1604.5" r="142.5"/></clipPath><clipPath id="dcj"><circle cx="147.0" cy="1784.3" r="57.0"/></clipPath></defs>
<circle cx="197.0" cy="1604.5" r="142.5" fill="#dce1f5"/>
<circle cx="147.0" cy="1784.3" r="57.0" fill="#fbe2d5"/>
<circle cx="249.7" cy="1791.0" r="74.0" fill="#e4f5da"/>
<circle cx="147.0" cy="1784.3" r="57.0" fill="#f2a57a" clip-path="url(#dcb)"/>
<circle cx="249.7" cy="1791.0" r="74.0" fill="#93a9d8" clip-path="url(#dcb)"/>
<circle cx="249.7" cy="1791.0" r="74.0" fill="#b4d79a" clip-path="url(#dcj)"/>
<circle cx="197.0" cy="1604.5" r="142.5" fill="none" stroke="#000" stroke-width="2.2"/>
<circle cx="147.0" cy="1784.3" r="57.0" fill="none" stroke="#000" stroke-width="2.2"/>
<circle cx="249.7" cy="1791.0" r="74.0" fill="none" stroke="#000" stroke-width="2.2"/>
<text x="196.5" y="1612.0" font-size="28" text-anchor="middle">1173</text>
<text x="142.9" y="1802.6" font-size="28" text-anchor="middle">91</text>
<text x="255.6" y="1808.4" font-size="28" text-anchor="middle">113</text>
<text x="30.0" y="1743.5" font-size="28" text-anchor="middle">15</text>
<line x1="49.6" y1="1734.2" x2="153.8" y2="1734.2" stroke="#000" stroke-width="1.8"/>
<text x="324.0" y="1732.5" font-size="28" text-anchor="middle">45</text>
<line x1="250.5" y1="1723.3" x2="306.6" y2="1723.3" stroke="#000" stroke-width="1.8"/>
<line x1="184.6" y1="1809.4" x2="184.6" y2="1888.0" stroke="#000" stroke-width="1.8"/>
<text x="180.5" y="1917.0" font-size="28" text-anchor="middle">55</text>
<text x="115.5" y="1957.4" font-size="28" text-anchor="middle">Juvenile</text>
<text x="119.6" y="1989.5" font-size="28" text-anchor="middle">DEG</text>
<text x="276.0" y="1957.4" font-size="28" text-anchor="middle">Adult</text>
<text x="276.0" y="1989.5" font-size="28" text-anchor="middle">DEG</text>
<text x="386.0" y="1406.0" font-size="40" font-weight="bold">e</text>
<text x="416.0" y="1406.0" font-size="28">SynGO analysis</text>
<text x="760.8" y="1457.6" font-size="28" text-anchor="middle">Total</text>
<text x="1185.4" y="1457.6" font-size="28" text-anchor="middle" fill="#d42a2a">Up-regulated</text>
<text x="1609.0" y="1457.6" font-size="28" text-anchor="middle" fill="#3a78b8">Down-regulated</text>
<rect x="391.3" y="1499.4" width="140.8" height="51.0" fill="#ee7d27"/>
<text x="461.7" y="1535.0" font-size="28" text-anchor="middle" fill="#fff">Juvenile</text>
<text x="391.3" y="1585.6" font-size="28">15/161 (9.3%)</text>
<rect x="391.3" y="1919.8" width="140.8" height="50.5" fill="#8c2323"/>
<text x="457.7" y="1955.1" font-size="28" text-anchor="middle" fill="#fff">Adult</text>
<text x="391.3" y="2006.0" font-size="28">45/213 (21.1%)</text>
<g stroke="#fff" stroke-width="2.0" stroke-linejoin="miter">
<path d="M752.50,1659.30A59.70,59.70 0 0 1 755.62,1778.62L754.06,1748.81A29.85,29.85 0 0 0 752.50,1689.15Z" fill="#4d4d4d"/>
<path d="M755.62,1778.62A59.70,59.70 0 0 1 721.31,1668.10L736.90,1693.55A29.85,29.85 0 0 0 754.06,1748.81Z" fill="#4d4d4d"/>
<path d="M721.31,1668.10A59.70,59.70 0 0 1 735.54,1661.76L744.02,1690.38A29.85,29.85 0 0 0 736.90,1693.55Z" fill="#c8c8c8"/>
<path d="M735.54,1661.76A59.70,59.70 0 0 1 743.16,1660.04L747.83,1689.52A29.85,29.85 0 0 0 744.02,1690.38Z" fill="#c8c8c8"/>
<path d="M743.16,1660.04A59.70,59.70 0 0 1 752.08,1659.30L752.29,1689.15A29.85,29.85 0 0 0 747.83,1689.52Z" fill="#c8c8c8"/>
<path d="M752.50,1629.45A89.55,89.55 0 0 1 826.30,1668.28L801.70,1685.19A59.70,59.70 0 0 0 752.50,1659.30Z" fill="#c8c8c8"/>
<path d="M826.30,1668.28A89.55,89.55 0 0 1 841.67,1710.73L811.94,1713.49A59.70,59.70 0 0 0 801.70,1685.19Z" fill="#c8c8c8"/>
<path d="M841.67,1710.73A89.55,89.55 0 0 1 839.00,1742.18L810.17,1734.45A59.70,59.70 0 0 0 811.94,1713.49Z" fill="#c8c8c8"/>
<path d="M839.00,1742.18A89.55,89.55 0 0 1 825.40,1771.00L801.10,1753.67A59.70,59.70 0 0 0 810.17,1734.45Z" fill="#c8c8c8"/>
<path d="M825.40,1771.00A89.55,89.55 0 0 1 809.46,1788.10L790.47,1765.07A59.70,59.70 0 0 0 801.10,1753.67Z" fill="#c8c8c8"/>
<path d="M809.46,1788.10A89.55,89.55 0 0 1 801.93,1793.67L785.45,1768.78A59.70,59.70 0 0 0 790.47,1765.07Z" fill="#c8c8c8"/>
<path d="M801.93,1793.67A89.55,89.55 0 0 1 791.19,1799.76L778.30,1772.84A59.70,59.70 0 0 0 785.45,1768.78Z" fill="#c8c8c8"/>
<path d="M791.19,1799.76A89.55,89.55 0 0 1 780.77,1803.97L771.34,1775.65A59.70,59.70 0 0 0 778.30,1772.84Z" fill="#c8c8c8"/>
<path d="M780.77,1803.97A89.55,89.55 0 0 1 767.43,1807.30L762.46,1777.86A59.70,59.70 0 0 0 771.34,1775.65Z" fill="#c8c8c8"/>
<path d="M767.43,1807.30A89.55,89.55 0 0 1 757.19,1808.43L755.62,1778.62A59.70,59.70 0 0 0 762.46,1777.86Z" fill="#c8c8c8"/>
<path d="M757.19,1808.43A89.55,89.55 0 0 1 714.23,1799.96L726.99,1772.97A59.70,59.70 0 0 0 755.62,1778.62Z" fill="#c8c8c8"/>
<path d="M714.23,1799.96A89.55,89.55 0 0 1 680.61,1772.39L704.57,1754.59A59.70,59.70 0 0 0 726.99,1772.97Z" fill="#4d4d4d"/>
<path d="M680.61,1772.39A89.55,89.55 0 0 1 666.42,1743.68L695.11,1735.46A59.70,59.70 0 0 0 704.57,1754.59Z" fill="#c8c8c8"/>
<path d="M666.42,1743.68A89.55,89.55 0 0 1 663.36,1710.42L693.07,1713.28A59.70,59.70 0 0 0 695.11,1735.46Z" fill="#c8c8c8"/>
<path d="M663.36,1710.42A89.55,89.55 0 0 1 668.46,1688.08L696.47,1698.39A59.70,59.70 0 0 0 693.07,1713.28Z" fill="#c8c8c8"/>
<path d="M668.46,1688.08A89.55,89.55 0 0 1 676.56,1671.55L701.87,1687.36A59.70,59.70 0 0 0 696.47,1698.39Z" fill="#c8c8c8"/>
<path d="M676.56,1671.55A89.55,89.55 0 0 1 680.51,1665.73L704.51,1683.49A59.70,59.70 0 0 0 701.87,1687.36Z" fill="#c8c8c8"/>
<path d="M680.51,1665.73A89.55,89.55 0 0 1 688.08,1656.79L709.56,1677.53A59.70,59.70 0 0 0 704.51,1683.49Z" fill="#c8c8c8"/>
<path d="M688.08,1656.79A89.55,89.55 0 0 1 696.75,1648.92L715.34,1672.28A59.70,59.70 0 0 0 709.56,1677.53Z" fill="#c8c8c8"/>
<path d="M696.75,1648.92A89.55,89.55 0 0 1 705.71,1642.65L721.31,1668.10A59.70,59.70 0 0 0 715.34,1672.28Z" fill="#c8c8c8"/>
<path d="M705.71,1642.65A89.55,89.55 0 0 1 716.08,1637.19L728.22,1664.46A59.70,59.70 0 0 0 721.31,1668.10Z" fill="#c8c8c8"/>
<path d="M716.08,1637.19A89.55,89.55 0 0 1 727.07,1633.14L735.54,1661.76A59.70,59.70 0 0 0 728.22,1664.46Z" fill="#c8c8c8"/>
<path d="M727.07,1633.14A89.55,89.55 0 0 1 738.49,1630.55L743.16,1660.04A59.70,59.70 0 0 0 735.54,1661.76Z" fill="#c8c8c8"/>
<path d="M738.49,1630.55A89.55,89.55 0 0 1 751.87,1629.45L752.08,1659.30A59.70,59.70 0 0 0 743.16,1660.04Z" fill="#c8c8c8"/>
<path d="M752.50,1599.60A119.40,119.40 0 0 1 807.63,1613.09L793.85,1639.57A89.55,89.55 0 0 0 752.50,1629.45Z" fill="#c8c8c8"/>
<path d="M807.63,1613.09A119.40,119.40 0 0 1 832.39,1630.27L812.42,1652.45A89.55,89.55 0 0 0 793.85,1639.57Z" fill="#c8c8c8"/>
<path d="M832.39,1630.27A119.40,119.40 0 0 1 842.61,1640.67L820.08,1660.25A89.55,89.55 0 0 0 812.42,1652.45Z" fill="#c8c8c8"/>
<path d="M842.61,1640.67A119.40,119.40 0 0 1 850.90,1651.37L826.30,1668.28A89.55,89.55 0 0 0 820.08,1660.25Z" fill="#c8c8c8"/>
<path d="M850.90,1651.37A119.40,119.40 0 0 1 858.41,1663.87L831.93,1677.65A89.55,89.55 0 0 0 826.30,1668.28Z" fill="#c8c8c8"/>
<path d="M858.41,1663.87A119.40,119.40 0 0 1 864.70,1678.16L836.65,1688.37A89.55,89.55 0 0 0 831.93,1677.65Z" fill="#c8c8c8"/>
<path d="M864.70,1678.16A119.40,119.40 0 0 1 868.60,1691.13L839.58,1698.09A89.55,89.55 0 0 0 836.65,1688.37Z" fill="#c8c8c8"/>
<path d="M868.60,1691.13A119.40,119.40 0 0 1 871.39,1707.97L841.67,1710.73A89.55,89.55 0 0 0 839.58,1698.09Z" fill="#c8c8c8"/>
<path d="M871.39,1707.97A119.40,119.40 0 0 1 871.87,1721.50L842.03,1720.88A89.55,89.55 0 0 0 841.67,1710.73Z" fill="#c8c8c8"/>
<path d="M871.87,1721.50A119.40,119.40 0 0 1 870.56,1736.85L841.04,1732.39A89.55,89.55 0 0 0 842.03,1720.88Z" fill="#c8c8c8"/>
<path d="M870.56,1736.85A119.40,119.40 0 0 1 867.83,1749.90L839.00,1742.18A89.55,89.55 0 0 0 841.04,1732.39Z" fill="#c8c8c8"/>
<path d="M867.83,1749.90A119.40,119.40 0 0 1 862.00,1766.61L834.62,1754.71A89.55,89.55 0 0 0 839.00,1742.18Z" fill="#c8c8c8"/>
<path d="M862.00,1766.61A119.40,119.40 0 0 1 856.42,1777.80L830.44,1763.10A89.55,89.55 0 0 0 834.62,1754.71Z" fill="#c8c8c8"/>
<path d="M856.42,1777.80A119.40,119.40 0 0 1 849.71,1788.34L825.40,1771.00A89.55,89.55 0 0 0 830.44,1763.10Z" fill="#c8c8c8"/>
<path d="M845.94,1793.33A119.40,119.40 0 0 1 838.39,1801.94L816.92,1781.21A89.55,89.55 0 0 0 822.58,1774.75Z" fill="#c8c8c8"/>
<path d="M836.19,1804.16A119.40,119.40 0 0 1 828.45,1811.13L809.46,1788.10A89.55,89.55 0 0 0 815.27,1782.87Z" fill="#c8c8c8"/>
<path d="M813.10,1821.88A119.40,119.40 0 0 1 804.28,1826.59L791.33,1799.69A89.55,89.55 0 0 0 797.95,1796.16Z" fill="#c8c8c8"/>
<path d="M786.81,1833.36A119.40,119.40 0 0 1 775.90,1836.09L770.05,1806.81A89.55,89.55 0 0 0 778.23,1804.77Z" fill="#c8c8c8"/>
<path d="M758.33,1838.26A119.40,119.40 0 0 1 714.61,1832.23L724.09,1803.92A89.55,89.55 0 0 0 756.87,1808.44Z" fill="#c8c8c8"/>
<path d="M714.61,1832.23A119.40,119.40 0 0 1 701.47,1826.95L714.23,1799.96A89.55,89.55 0 0 0 724.09,1803.92Z" fill="#c8c8c8"/>
<path d="M701.47,1826.95A119.40,119.40 0 0 1 666.90,1802.24L688.30,1781.43A89.55,89.55 0 0 0 714.23,1799.96Z" fill="#4d4d4d"/>
<path d="M666.90,1802.24A119.40,119.40 0 0 1 656.64,1790.19L680.61,1772.39A89.55,89.55 0 0 0 688.30,1781.43Z" fill="#c8c8c8"/>
<path d="M656.64,1790.19A119.40,119.40 0 0 1 643.00,1766.61L670.38,1754.71A89.55,89.55 0 0 0 680.61,1772.39Z" fill="#c8c8c8"/>
<path d="M643.00,1766.61A119.40,119.40 0 0 1 637.73,1751.91L666.42,1743.68A89.55,89.55 0 0 0 670.38,1754.71Z" fill="#c8c8c8"/>
<path d="M637.73,1751.91A119.40,119.40 0 0 1 634.57,1737.68L664.05,1733.01A89.55,89.55 0 0 0 666.42,1743.68Z" fill="#c8c8c8"/>
<path d="M634.57,1737.68A119.40,119.40 0 0 1 633.17,1723.17L663.00,1722.13A89.55,89.55 0 0 0 664.05,1733.01Z" fill="#c8c8c8"/>
<path d="M633.17,1723.17A119.40,119.40 0 0 1 633.65,1707.56L663.36,1710.42A89.55,89.55 0 0 0 663.00,1722.13Z" fill="#c8c8c8"/>
<path d="M633.65,1707.56A119.40,119.40 0 0 1 635.71,1694.18L664.91,1700.38A89.55,89.55 0 0 0 663.36,1710.42Z" fill="#c8c8c8"/>
<path d="M635.71,1694.18A119.40,119.40 0 0 1 640.44,1677.77L668.46,1688.08A89.55,89.55 0 0 0 664.91,1700.38Z" fill="#c8c8c8"/>
<path d="M640.44,1677.77A119.40,119.40 0 0 1 645.18,1666.66L672.01,1679.74A89.55,89.55 0 0 0 668.46,1688.08Z" fill="#c8c8c8"/>
<path d="M645.18,1666.66A119.40,119.40 0 0 1 651.24,1655.73L676.56,1671.55A89.55,89.55 0 0 0 672.01,1679.74Z" fill="#c8c8c8"/>
<path d="M663.49,1639.42A119.40,119.40 0 0 1 670.31,1632.39L690.86,1654.04A89.55,89.55 0 0 0 685.74,1659.31Z" fill="#c8c8c8"/>
<path d="M673.38,1629.57A119.40,119.40 0 0 1 681.81,1622.77L699.49,1646.83A89.55,89.55 0 0 0 693.16,1651.93Z" fill="#c8c8c8"/>
<path d="M752.50,1569.75A149.25,149.25 0 0 1 805.01,1579.29L794.51,1607.23A119.40,119.40 0 0 0 752.50,1599.60Z" fill="#c8c8c8"/>
<path d="M805.01,1579.29A149.25,149.25 0 0 1 821.42,1586.61L807.63,1613.09A119.40,119.40 0 0 0 794.51,1607.23Z" fill="#c8c8c8"/>
<path d="M822.57,1587.22A149.25,149.25 0 0 1 837.46,1596.30L820.47,1620.84A119.40,119.40 0 0 0 808.55,1613.58Z" fill="#c8c8c8"/>
<path d="M837.46,1596.30A149.25,149.25 0 0 1 851.40,1607.22L831.62,1629.57A119.40,119.40 0 0 0 820.47,1620.84Z" fill="#c8c8c8"/>
<path d="M901.11,1705.21A149.25,149.25 0 0 1 901.72,1722.13L871.87,1721.50A119.40,119.40 0 0 0 871.39,1707.97Z" fill="#c8c8c8"/>
<path d="M901.72,1722.13A149.25,149.25 0 0 1 900.07,1741.32L870.56,1736.85A119.40,119.40 0 0 0 871.87,1721.50Z" fill="#c8c8c8"/>
<path d="M900.07,1741.32A149.25,149.25 0 0 1 896.66,1757.63L867.83,1749.90A119.40,119.40 0 0 0 870.56,1736.85Z" fill="#c8c8c8"/>
<path d="M869.30,1811.91A149.25,149.25 0 0 1 860.76,1821.74L839.11,1801.19A119.40,119.40 0 0 0 845.94,1793.33Z" fill="#c8c8c8"/>
<path d="M857.11,1825.45A149.25,149.25 0 0 1 847.43,1834.16L828.45,1811.13A119.40,119.40 0 0 0 836.19,1804.16Z" fill="#c8c8c8"/>
<path d="M828.25,1847.60A149.25,149.25 0 0 1 817.22,1853.49L804.28,1826.59A119.40,119.40 0 0 0 813.10,1821.88Z" fill="#c8c8c8"/>
<path d="M759.27,1868.10A149.25,149.25 0 0 1 741.57,1867.85L743.76,1838.08A119.40,119.40 0 0 0 757.92,1838.28Z" fill="#c8c8c8"/>
<path d="M741.57,1867.85A149.25,149.25 0 0 1 724.53,1865.61L730.13,1836.29A119.40,119.40 0 0 0 743.76,1838.08Z" fill="#c8c8c8"/>
<path d="M724.53,1865.61A149.25,149.25 0 0 1 708.12,1861.50L716.99,1833.00A119.40,119.40 0 0 0 730.13,1836.29Z" fill="#c8c8c8"/>
<path d="M688.48,1853.82A149.25,149.25 0 0 1 674.96,1846.53L690.47,1821.02A119.40,119.40 0 0 0 701.29,1826.86Z" fill="#c8c8c8"/>
<path d="M673.41,1845.57A149.25,149.25 0 0 1 659.59,1835.80L678.17,1812.44A119.40,119.40 0 0 0 689.23,1820.26Z" fill="#c8c8c8"/>
<path d="M657.57,1834.16A149.25,149.25 0 0 1 646.05,1823.61L667.34,1802.69A119.40,119.40 0 0 0 676.55,1811.13Z" fill="#c8c8c8"/>
<path d="M631.75,1806.73A149.25,149.25 0 0 1 623.90,1794.75L649.62,1779.60A119.40,119.40 0 0 0 655.90,1789.18Z" fill="#c8c8c8"/>
<path d="M622.60,1792.49A149.25,149.25 0 0 1 615.63,1778.51L643.00,1766.61A119.40,119.40 0 0 0 648.58,1777.80Z" fill="#c8c8c8"/>
<path d="M612.43,1667.46A149.25,149.25 0 0 1 618.35,1653.57L645.18,1666.66A119.40,119.40 0 0 0 640.44,1677.77Z" fill="#c8c8c8"/>
<path d="M619.52,1651.24A149.25,149.25 0 0 1 627.33,1637.71L652.36,1653.97A119.40,119.40 0 0 0 646.11,1664.79Z" fill="#c8c8c8"/>
<path d="M640.37,1620.49A149.25,149.25 0 0 1 650.71,1609.85L671.07,1631.68A119.40,119.40 0 0 0 662.80,1640.20Z" fill="#c8c8c8"/>
<path d="M653.02,1607.74A149.25,149.25 0 0 1 665.20,1597.95L682.66,1622.16A119.40,119.40 0 0 0 672.92,1629.99Z" fill="#c8c8c8"/>
<path d="M752.50,1539.90A179.10,179.10 0 0 1 772.77,1541.05L769.40,1570.71A149.25,149.25 0 0 0 752.50,1569.75Z" fill="#c8c8c8"/>
<path d="M772.77,1541.05A179.10,179.10 0 0 1 794.31,1544.85L787.34,1573.87A149.25,149.25 0 0 0 769.40,1570.71Z" fill="#c8c8c8"/>
<path d="M794.31,1544.85A179.10,179.10 0 0 1 815.51,1551.35L805.01,1579.29A149.25,149.25 0 0 0 787.34,1573.87Z" fill="#4d4d4d"/>
<path d="M931.56,1722.75A179.10,179.10 0 0 1 929.59,1745.78L900.07,1741.32A149.25,149.25 0 0 0 901.72,1722.13Z" fill="#c8c8c8"/>
<path d="M929.59,1745.78A179.10,179.10 0 0 1 925.50,1765.35L896.66,1757.63A149.25,149.25 0 0 0 900.07,1741.32Z" fill="#c8c8c8"/>
<path d="M878.03,1846.74A179.10,179.10 0 0 1 866.42,1857.20L847.43,1834.16A149.25,149.25 0 0 0 857.11,1825.45Z" fill="#c8c8c8"/>
<path d="M592.92,1637.69A179.10,179.10 0 0 1 602.29,1621.46L627.33,1637.71A149.25,149.25 0 0 0 619.52,1651.24Z" fill="#c8c8c8"/>
<circle cx="752.5" cy="1719.0" r="29.85" fill="#4d4d4d"/>
</g>
<g stroke="#fff" stroke-width="2.0" stroke-linejoin="miter">
<path d="M1176.50,1659.30A59.70,59.70 0 0 1 1179.62,1778.62L1178.06,1748.81A29.85,29.85 0 0 0 1176.50,1689.15Z" fill="#4d4d4d"/>
<path d="M1179.62,1778.62A59.70,59.70 0 0 1 1145.31,1668.10L1160.90,1693.55A29.85,29.85 0 0 0 1178.06,1748.81Z" fill="#4d4d4d"/>
<path d="M1145.31,1668.10A59.70,59.70 0 0 1 1159.54,1661.76L1168.02,1690.38A29.85,29.85 0 0 0 1160.90,1693.55Z" fill="#c8c8c8"/>
<path d="M1159.54,1661.76A59.70,59.70 0 0 1 1167.16,1660.04L1171.83,1689.52A29.85,29.85 0 0 0 1168.02,1690.38Z" fill="#c8c8c8"/>
<path d="M1167.16,1660.04A59.70,59.70 0 0 1 1176.08,1659.30L1176.29,1689.15A29.85,29.85 0 0 0 1171.83,1689.52Z" fill="#c8c8c8"/>
<path d="M1176.50,1629.45A89.55,89.55 0 0 1 1250.30,1668.28L1225.70,1685.19A59.70,59.70 0 0 0 1176.50,1659.30Z" fill="#c8c8c8"/>
<path d="M1250.30,1668.28A89.55,89.55 0 0 1 1265.67,1710.73L1235.94,1713.49A59.70,59.70 0 0 0 1225.70,1685.19Z" fill="#c8c8c8"/>
<path d="M1265.67,1710.73A89.55,89.55 0 0 1 1263.00,1742.18L1234.17,1734.45A59.70,59.70 0 0 0 1235.94,1713.49Z" fill="#c8c8c8"/>
<path d="M1263.00,1742.18A89.55,89.55 0 0 1 1249.40,1771.00L1225.10,1753.67A59.70,59.70 0 0 0 1234.17,1734.45Z" fill="#c8c8c8"/>
<path d="M1249.40,1771.00A89.55,89.55 0 0 1 1233.46,1788.10L1214.47,1765.07A59.70,59.70 0 0 0 1225.10,1753.67Z" fill="#c8c8c8"/>
<path d="M1233.46,1788.10A89.55,89.55 0 0 1 1225.93,1793.67L1209.45,1768.78A59.70,59.70 0 0 0 1214.47,1765.07Z" fill="#c8c8c8"/>
<path d="M1225.93,1793.67A89.55,89.55 0 0 1 1215.19,1799.76L1202.30,1772.84A59.70,59.70 0 0 0 1209.45,1768.78Z" fill="#c8c8c8"/>
<path d="M1215.19,1799.76A89.55,89.55 0 0 1 1204.77,1803.97L1195.34,1775.65A59.70,59.70 0 0 0 1202.30,1772.84Z" fill="#c8c8c8"/>
<path d="M1204.77,1803.97A89.55,89.55 0 0 1 1191.43,1807.30L1186.46,1777.86A59.70,59.70 0 0 0 1195.34,1775.65Z" fill="#c8c8c8"/>
<path d="M1191.43,1807.30A89.55,89.55 0 0 1 1181.19,1808.43L1179.62,1778.62A59.70,59.70 0 0 0 1186.46,1777.86Z" fill="#c8c8c8"/>
<path d="M1181.19,1808.43A89.55,89.55 0 0 1 1138.23,1799.96L1150.99,1772.97A59.70,59.70 0 0 0 1179.62,1778.62Z" fill="#c8c8c8"/>
<path d="M1138.23,1799.96A89.55,89.55 0 0 1 1104.61,1772.39L1128.57,1754.59A59.70,59.70 0 0 0 1150.99,1772.97Z" fill="#c8c8c8"/>
<path d="M1104.61,1772.39A89.55,89.55 0 0 1 1090.42,1743.68L1119.11,1735.46A59.70,59.70 0 0 0 1128.57,1754.59Z" fill="#c8c8c8"/>
<path d="M1090.42,1743.68A89.55,89.55 0 0 1 1087.36,1710.42L1117.07,1713.28A59.70,59.70 0 0 0 1119.11,1735.46Z" fill="#c8c8c8"/>
<path d="M1087.36,1710.42A89.55,89.55 0 0 1 1092.46,1688.08L1120.47,1698.39A59.70,59.70 0 0 0 1117.07,1713.28Z" fill="#c8c8c8"/>
<path d="M1092.46,1688.08A89.55,89.55 0 0 1 1100.56,1671.55L1125.87,1687.36A59.70,59.70 0 0 0 1120.47,1698.39Z" fill="#c8c8c8"/>
<path d="M1100.56,1671.55A89.55,89.55 0 0 1 1104.51,1665.73L1128.51,1683.49A59.70,59.70 0 0 0 1125.87,1687.36Z" fill="#c8c8c8"/>
<path d="M1104.51,1665.73A89.55,89.55 0 0 1 1112.08,1656.79L1133.56,1677.53A59.70,59.70 0 0 0 1128.51,1683.49Z" fill="#c8c8c8"/>
<path d="M1112.08,1656.79A89.55,89.55 0 0 1 1120.75,1648.92L1139.34,1672.28A59.70,59.70 0 0 0 1133.56,1677.53Z" fill="#c8c8c8"/>
<path d="M1120.75,1648.92A89.55,89.55 0 0 1 1129.71,1642.65L1145.31,1668.10A59.70,59.70 0 0 0 1139.34,1672.28Z" fill="#c8c8c8"/>
<path d="M1129.71,1642.65A89.55,89.55 0 0 1 1140.08,1637.19L1152.22,1664.46A59.70,59.70 0 0 0 1145.31,1668.10Z" fill="#c8c8c8"/>
<path d="M1140.08,1637.19A89.55,89.55 0 0 1 1151.07,1633.14L1159.54,1661.76A59.70,59.70 0 0 0 1152.22,1664.46Z" fill="#c8c8c8"/>
<path d="M1151.07,1633.14A89.55,89.55 0 0 1 1162.49,1630.55L1167.16,1660.04A59.70,59.70 0 0 0 1159.54,1661.76Z" fill="#c8c8c8"/>
<path d="M1162.49,1630.55A89.55,89.55 0 0 1 1175.87,1629.45L1176.08,1659.30A59.70,59.70 0 0 0 1167.16,1660.04Z" fill="#c8c8c8"/>
<path d="M1176.50,1599.60A119.40,119.40 0 0 1 1231.63,1613.09L1217.85,1639.57A89.55,89.55 0 0 0 1176.50,1629.45Z" fill="#c8c8c8"/>
<path d="M1231.63,1613.09A119.40,119.40 0 0 1 1256.39,1630.27L1236.42,1652.45A89.55,89.55 0 0 0 1217.85,1639.57Z" fill="#c8c8c8"/>
<path d="M1256.39,1630.27A119.40,119.40 0 0 1 1266.61,1640.67L1244.08,1660.25A89.55,89.55 0 0 0 1236.42,1652.45Z" fill="#c8c8c8"/>
<path d="M1266.61,1640.67A119.40,119.40 0 0 1 1274.90,1651.37L1250.30,1668.28A89.55,89.55 0 0 0 1244.08,1660.25Z" fill="#c8c8c8"/>
<path d="M1274.90,1651.37A119.40,119.40 0 0 1 1282.41,1663.87L1255.93,1677.65A89.55,89.55 0 0 0 1250.30,1668.28Z" fill="#c8c8c8"/>
<path d="M1282.41,1663.87A119.40,119.40 0 0 1 1288.70,1678.16L1260.65,1688.37A89.55,89.55 0 0 0 1255.93,1677.65Z" fill="#c8c8c8"/>
<path d="M1288.70,1678.16A119.40,119.40 0 0 1 1292.60,1691.13L1263.58,1698.09A89.55,89.55 0 0 0 1260.65,1688.37Z" fill="#c8c8c8"/>
<path d="M1292.60,1691.13A119.40,119.40 0 0 1 1295.39,1707.97L1265.67,1710.73A89.55,89.55 0 0 0 1263.58,1698.09Z" fill="#c8c8c8"/>
<path d="M1295.39,1707.97A119.40,119.40 0 0 1 1295.87,1721.50L1266.03,1720.88A89.55,89.55 0 0 0 1265.67,1710.73Z" fill="#c8c8c8"/>
<path d="M1295.87,1721.50A119.40,119.40 0 0 1 1294.56,1736.85L1265.04,1732.39A89.55,89.55 0 0 0 1266.03,1720.88Z" fill="#c8c8c8"/>
<path d="M1294.56,1736.85A119.40,119.40 0 0 1 1291.83,1749.90L1263.00,1742.18A89.55,89.55 0 0 0 1265.04,1732.39Z" fill="#c8c8c8"/>
<path d="M1291.83,1749.90A119.40,119.40 0 0 1 1286.00,1766.61L1258.62,1754.71A89.55,89.55 0 0 0 1263.00,1742.18Z" fill="#c8c8c8"/>
<path d="M1286.00,1766.61A119.40,119.40 0 0 1 1280.42,1777.80L1254.44,1763.10A89.55,89.55 0 0 0 1258.62,1754.71Z" fill="#c8c8c8"/>
<path d="M1280.42,1777.80A119.40,119.40 0 0 1 1273.71,1788.34L1249.40,1771.00A89.55,89.55 0 0 0 1254.44,1763.10Z" fill="#c8c8c8"/>
<path d="M1269.94,1793.33A119.40,119.40 0 0 1 1262.39,1801.94L1240.92,1781.21A89.55,89.55 0 0 0 1246.58,1774.75Z" fill="#c8c8c8"/>
<path d="M1260.19,1804.16A119.40,119.40 0 0 1 1252.45,1811.13L1233.46,1788.10A89.55,89.55 0 0 0 1239.27,1782.87Z" fill="#c8c8c8"/>
<path d="M1237.10,1821.88A119.40,119.40 0 0 1 1228.28,1826.59L1215.33,1799.69A89.55,89.55 0 0 0 1221.95,1796.16Z" fill="#c8c8c8"/>
<path d="M1210.81,1833.36A119.40,119.40 0 0 1 1199.90,1836.09L1194.05,1806.81A89.55,89.55 0 0 0 1202.23,1804.77Z" fill="#c8c8c8"/>
<path d="M1182.33,1838.26A119.40,119.40 0 0 1 1138.61,1832.23L1148.09,1803.92A89.55,89.55 0 0 0 1180.87,1808.44Z" fill="#c8c8c8"/>
<path d="M1138.61,1832.23A119.40,119.40 0 0 1 1125.47,1826.95L1138.23,1799.96A89.55,89.55 0 0 0 1148.09,1803.92Z" fill="#c8c8c8"/>
<path d="M1125.47,1826.95A119.40,119.40 0 0 1 1090.90,1802.24L1112.30,1781.43A89.55,89.55 0 0 0 1138.23,1799.96Z" fill="#c8c8c8"/>
<path d="M1090.90,1802.24A119.40,119.40 0 0 1 1080.64,1790.19L1104.61,1772.39A89.55,89.55 0 0 0 1112.30,1781.43Z" fill="#c8c8c8"/>
<path d="M1080.64,1790.19A119.40,119.40 0 0 1 1067.00,1766.61L1094.38,1754.71A89.55,89.55 0 0 0 1104.61,1772.39Z" fill="#c8c8c8"/>
<path d="M1067.00,1766.61A119.40,119.40 0 0 1 1061.73,1751.91L1090.42,1743.68A89.55,89.55 0 0 0 1094.38,1754.71Z" fill="#c8c8c8"/>
<path d="M1061.73,1751.91A119.40,119.40 0 0 1 1058.57,1737.68L1088.05,1733.01A89.55,89.55 0 0 0 1090.42,1743.68Z" fill="#c8c8c8"/>
<path d="M1058.57,1737.68A119.40,119.40 0 0 1 1057.17,1723.17L1087.00,1722.13A89.55,89.55 0 0 0 1088.05,1733.01Z" fill="#c8c8c8"/>
<path d="M1057.17,1723.17A119.40,119.40 0 0 1 1057.65,1707.56L1087.36,1710.42A89.55,89.55 0 0 0 1087.00,1722.13Z" fill="#c8c8c8"/>
<path d="M1057.65,1707.56A119.40,119.40 0 0 1 1059.71,1694.18L1088.91,1700.38A89.55,89.55 0 0 0 1087.36,1710.42Z" fill="#c8c8c8"/>
<path d="M1059.71,1694.18A119.40,119.40 0 0 1 1064.44,1677.77L1092.46,1688.08A89.55,89.55 0 0 0 1088.91,1700.38Z" fill="#c8c8c8"/>
<path d="M1064.44,1677.77A119.40,119.40 0 0 1 1069.18,1666.66L1096.01,1679.74A89.55,89.55 0 0 0 1092.46,1688.08Z" fill="#c8c8c8"/>
<path d="M1069.18,1666.66A119.40,119.40 0 0 1 1075.24,1655.73L1100.56,1671.55A89.55,89.55 0 0 0 1096.01,1679.74Z" fill="#c8c8c8"/>
<path d="M1087.49,1639.42A119.40,119.40 0 0 1 1094.31,1632.39L1114.86,1654.04A89.55,89.55 0 0 0 1109.74,1659.31Z" fill="#c8c8c8"/>
<path d="M1097.38,1629.57A119.40,119.40 0 0 1 1105.81,1622.77L1123.49,1646.83A89.55,89.55 0 0 0 1117.16,1651.93Z" fill="#c8c8c8"/>
<path d="M1176.50,1569.75A149.25,149.25 0 0 1 1229.01,1579.29L1218.51,1607.23A119.40,119.40 0 0 0 1176.50,1599.60Z" fill="#c8c8c8"/>
<path d="M1229.01,1579.29A149.25,149.25 0 0 1 1245.42,1586.61L1231.63,1613.09A119.40,119.40 0 0 0 1218.51,1607.23Z" fill="#c8c8c8"/>
<path d="M1246.57,1587.22A149.25,149.25 0 0 1 1261.46,1596.30L1244.47,1620.84A119.40,119.40 0 0 0 1232.55,1613.58Z" fill="#c8c8c8"/>
<path d="M1261.46,1596.30A149.25,149.25 0 0 1 1275.40,1607.22L1255.62,1629.57A119.40,119.40 0 0 0 1244.47,1620.84Z" fill="#c8c8c8"/>
<path d="M1325.11,1705.21A149.25,149.25 0 0 1 1325.72,1722.13L1295.87,1721.50A119.40,119.40 0 0 0 1295.39,1707.97Z" fill="#c8c8c8"/>
<path d="M1325.72,1722.13A149.25,149.25 0 0 1 1324.07,1741.32L1294.56,1736.85A119.40,119.40 0 0 0 1295.87,1721.50Z" fill="#c8c8c8"/>
<path d="M1324.07,1741.32A149.25,149.25 0 0 1 1320.66,1757.63L1291.83,1749.90A119.40,119.40 0 0 0 1294.56,1736.85Z" fill="#c8c8c8"/>
<path d="M1293.30,1811.91A149.25,149.25 0 0 1 1284.76,1821.74L1263.11,1801.19A119.40,119.40 0 0 0 1269.94,1793.33Z" fill="#c8c8c8"/>
<path d="M1281.11,1825.45A149.25,149.25 0 0 1 1271.43,1834.16L1252.45,1811.13A119.40,119.40 0 0 0 1260.19,1804.16Z" fill="#c8c8c8"/>
<path d="M1252.25,1847.60A149.25,149.25 0 0 1 1241.22,1853.49L1228.28,1826.59A119.40,119.40 0 0 0 1237.10,1821.88Z" fill="#c8c8c8"/>
<path d="M1183.27,1868.10A149.25,149.25 0 0 1 1165.57,1867.85L1167.76,1838.08A119.40,119.40 0 0 0 1181.92,1838.28Z" fill="#c8c8c8"/>
<path d="M1165.57,1867.85A149.25,149.25 0 0 1 1148.53,1865.61L1154.13,1836.29A119.40,119.40 0 0 0 1167.76,1838.08Z" fill="#c8c8c8"/>
<path d="M1148.53,1865.61A149.25,149.25 0 0 1 1132.12,1861.50L1140.99,1833.00A119.40,119.40 0 0 0 1154.13,1836.29Z" fill="#c8c8c8"/>
<path d="M1112.48,1853.82A149.25,149.25 0 0 1 1098.96,1846.53L1114.47,1821.02A119.40,119.40 0 0 0 1125.29,1826.86Z" fill="#c8c8c8"/>
<path d="M1097.41,1845.57A149.25,149.25 0 0 1 1083.59,1835.80L1102.17,1812.44A119.40,119.40 0 0 0 1113.23,1820.26Z" fill="#c8c8c8"/>
<path d="M1081.57,1834.16A149.25,149.25 0 0 1 1070.05,1823.61L1091.34,1802.69A119.40,119.40 0 0 0 1100.55,1811.13Z" fill="#c8c8c8"/>
<path d="M1055.75,1806.73A149.25,149.25 0 0 1 1047.90,1794.75L1073.62,1779.60A119.40,119.40 0 0 0 1079.90,1789.18Z" fill="#c8c8c8"/>
<path d="M1046.60,1792.49A149.25,149.25 0 0 1 1039.63,1778.51L1067.00,1766.61A119.40,119.40 0 0 0 1072.58,1777.80Z" fill="#c8c8c8"/>
<path d="M1036.43,1667.46A149.25,149.25 0 0 1 1042.35,1653.57L1069.18,1666.66A119.40,119.40 0 0 0 1064.44,1677.77Z" fill="#c8c8c8"/>
<path d="M1043.52,1651.24A149.25,149.25 0 0 1 1051.33,1637.71L1076.36,1653.97A119.40,119.40 0 0 0 1070.11,1664.79Z" fill="#c8c8c8"/>
<path d="M1064.37,1620.49A149.25,149.25 0 0 1 1074.71,1609.85L1095.07,1631.68A119.40,119.40 0 0 0 1086.80,1640.20Z" fill="#c8c8c8"/>
<path d="M1077.02,1607.74A149.25,149.25 0 0 1 1089.20,1597.95L1106.66,1622.16A119.40,119.40 0 0 0 1096.92,1629.99Z" fill="#c8c8c8"/>
<path d="M1176.50,1539.90A179.10,179.10 0 0 1 1196.77,1541.05L1193.40,1570.71A149.25,149.25 0 0 0 1176.50,1569.75Z" fill="#c8c8c8"/>
<path d="M1196.77,1541.05A179.10,179.10 0 0 1 1218.31,1544.85L1211.34,1573.87A149.25,149.25 0 0 0 1193.40,1570.71Z" fill="#c8c8c8"/>
<path d="M1218.31,1544.85A179.10,179.10 0 0 1 1239.51,1551.35L1229.01,1579.29A149.25,149.25 0 0 0 1211.34,1573.87Z" fill="#c8c8c8"/>
<path d="M1355.56,1722.75A179.10,179.10 0 0 1 1353.59,1745.78L1324.07,1741.32A149.25,149.25 0 0 0 1325.72,1722.13Z" fill="#c8c8c8"/>
<path d="M1353.59,1745.78A179.10,179.10 0 0 1 1349.50,1765.35L1320.66,1757.63A149.25,149.25 0 0 0 1324.07,1741.32Z" fill="#c8c8c8"/>
<path d="M1302.03,1846.74A179.10,179.10 0 0 1 1290.42,1857.20L1271.43,1834.16A149.25,149.25 0 0 0 1281.11,1825.45Z" fill="#c8c8c8"/>
<path d="M1016.92,1637.69A179.10,179.10 0 0 1 1026.29,1621.46L1051.33,1637.71A149.25,149.25 0 0 0 1043.52,1651.24Z" fill="#c8c8c8"/>
<circle cx="1176.5" cy="1719.0" r="29.85" fill="#4d4d4d"/>
</g>
<g stroke="#fff" stroke-width="2.0" stroke-linejoin="miter">
<path d="M1600.50,1659.30A59.70,59.70 0 0 1 1603.62,1778.62L1602.06,1748.81A29.85,29.85 0 0 0 1600.50,1689.15Z" fill="#4d4d4d"/>
<path d="M1603.62,1778.62A59.70,59.70 0 0 1 1569.31,1668.10L1584.90,1693.55A29.85,29.85 0 0 0 1602.06,1748.81Z" fill="#4d4d4d"/>
<path d="M1569.31,1668.10A59.70,59.70 0 0 1 1583.54,1661.76L1592.02,1690.38A29.85,29.85 0 0 0 1584.90,1693.55Z" fill="#c8c8c8"/>
<path d="M1583.54,1661.76A59.70,59.70 0 0 1 1591.16,1660.04L1595.83,1689.52A29.85,29.85 0 0 0 1592.02,1690.38Z" fill="#c8c8c8"/>
<path d="M1591.16,1660.04A59.70,59.70 0 0 1 1600.08,1659.30L1600.29,1689.15A29.85,29.85 0 0 0 1595.83,1689.52Z" fill="#c8c8c8"/>
<path d="M1600.50,1629.45A89.55,89.55 0 0 1 1674.30,1668.28L1649.70,1685.19A59.70,59.70 0 0 0 1600.50,1659.30Z" fill="#c8c8c8"/>
<path d="M1674.30,1668.28A89.55,89.55 0 0 1 1689.67,1710.73L1659.94,1713.49A59.70,59.70 0 0 0 1649.70,1685.19Z" fill="#c8c8c8"/>
<path d="M1689.67,1710.73A89.55,89.55 0 0 1 1687.00,1742.18L1658.17,1734.45A59.70,59.70 0 0 0 1659.94,1713.49Z" fill="#c8c8c8"/>
<path d="M1687.00,1742.18A89.55,89.55 0 0 1 1673.40,1771.00L1649.10,1753.67A59.70,59.70 0 0 0 1658.17,1734.45Z" fill="#c8c8c8"/>
<path d="M1673.40,1771.00A89.55,89.55 0 0 1 1657.46,1788.10L1638.47,1765.07A59.70,59.70 0 0 0 1649.10,1753.67Z" fill="#c8c8c8"/>
<path d="M1657.46,1788.10A89.55,89.55 0 0 1 1649.93,1793.67L1633.45,1768.78A59.70,59.70 0 0 0 1638.47,1765.07Z" fill="#c8c8c8"/>
<path d="M1649.93,1793.67A89.55,89.55 0 0 1 1639.19,1799.76L1626.30,1772.84A59.70,59.70 0 0 0 1633.45,1768.78Z" fill="#c8c8c8"/>
<path d="M1639.19,1799.76A89.55,89.55 0 0 1 1628.77,1803.97L1619.34,1775.65A59.70,59.70 0 0 0 1626.30,1772.84Z" fill="#c8c8c8"/>
<path d="M1628.77,1803.97A89.55,89.55 0 0 1 1615.43,1807.30L1610.46,1777.86A59.70,59.70 0 0 0 1619.34,1775.65Z" fill="#c8c8c8"/>
<path d="M1615.43,1807.30A89.55,89.55 0 0 1 1605.19,1808.43L1603.62,1778.62A59.70,59.70 0 0 0 1610.46,1777.86Z" fill="#c8c8c8"/>
<path d="M1605.19,1808.43A89.55,89.55 0 0 1 1562.23,1799.96L1574.99,1772.97A59.70,59.70 0 0 0 1603.62,1778.62Z" fill="#c8c8c8"/>
<path d="M1562.23,1799.96A89.55,89.55 0 0 1 1528.61,1772.39L1552.57,1754.59A59.70,59.70 0 0 0 1574.99,1772.97Z" fill="#9db8d8"/>
<path d="M1528.61,1772.39A89.55,89.55 0 0 1 1514.42,1743.68L1543.11,1735.46A59.70,59.70 0 0 0 1552.57,1754.59Z" fill="#c8c8c8"/>
<path d="M1514.42,1743.68A89.55,89.55 0 0 1 1511.36,1710.42L1541.07,1713.28A59.70,59.70 0 0 0 1543.11,1735.46Z" fill="#c8c8c8"/>
<path d="M1511.36,1710.42A89.55,89.55 0 0 1 1516.46,1688.08L1544.47,1698.39A59.70,59.70 0 0 0 1541.07,1713.28Z" fill="#c8c8c8"/>
<path d="M1516.46,1688.08A89.55,89.55 0 0 1 1524.56,1671.55L1549.87,1687.36A59.70,59.70 0 0 0 1544.47,1698.39Z" fill="#c8c8c8"/>
<path d="M1524.56,1671.55A89.55,89.55 0 0 1 1528.51,1665.73L1552.51,1683.49A59.70,59.70 0 0 0 1549.87,1687.36Z" fill="#c8c8c8"/>
<path d="M1528.51,1665.73A89.55,89.55 0 0 1 1536.08,1656.79L1557.56,1677.53A59.70,59.70 0 0 0 1552.51,1683.49Z" fill="#c8c8c8"/>
<path d="M1536.08,1656.79A89.55,89.55 0 0 1 1544.75,1648.92L1563.34,1672.28A59.70,59.70 0 0 0 1557.56,1677.53Z" fill="#c8c8c8"/>
<path d="M1544.75,1648.92A89.55,89.55 0 0 1 1553.71,1642.65L1569.31,1668.10A59.70,59.70 0 0 0 1563.34,1672.28Z" fill="#c8c8c8"/>
<path d="M1553.71,1642.65A89.55,89.55 0 0 1 1564.08,1637.19L1576.22,1664.46A59.70,59.70 0 0 0 1569.31,1668.10Z" fill="#c8c8c8"/>
<path d="M1564.08,1637.19A89.55,89.55 0 0 1 1575.07,1633.14L1583.54,1661.76A59.70,59.70 0 0 0 1576.22,1664.46Z" fill="#c8c8c8"/>
<path d="M1575.07,1633.14A89.55,89.55 0 0 1 1586.49,1630.55L1591.16,1660.04A59.70,59.70 0 0 0 1583.54,1661.76Z" fill="#c8c8c8"/>
<path d="M1586.49,1630.55A89.55,89.55 0 0 1 1599.87,1629.45L1600.08,1659.30A59.70,59.70 0 0 0 1591.16,1660.04Z" fill="#c8c8c8"/>
<path d="M1600.50,1599.60A119.40,119.40 0 0 1 1655.63,1613.09L1641.85,1639.57A89.55,89.55 0 0 0 1600.50,1629.45Z" fill="#c8c8c8"/>
<path d="M1655.63,1613.09A119.40,119.40 0 0 1 1680.39,1630.27L1660.42,1652.45A89.55,89.55 0 0 0 1641.85,1639.57Z" fill="#c8c8c8"/>
<path d="M1680.39,1630.27A119.40,119.40 0 0 1 1690.61,1640.67L1668.08,1660.25A89.55,89.55 0 0 0 1660.42,1652.45Z" fill="#c8c8c8"/>
<path d="M1690.61,1640.67A119.40,119.40 0 0 1 1698.90,1651.37L1674.30,1668.28A89.55,89.55 0 0 0 1668.08,1660.25Z" fill="#c8c8c8"/>
<path d="M1698.90,1651.37A119.40,119.40 0 0 1 1706.41,1663.87L1679.93,1677.65A89.55,89.55 0 0 0 1674.30,1668.28Z" fill="#c8c8c8"/>
<path d="M1706.41,1663.87A119.40,119.40 0 0 1 1712.70,1678.16L1684.65,1688.37A89.55,89.55 0 0 0 1679.93,1677.65Z" fill="#c8c8c8"/>
<path d="M1712.70,1678.16A119.40,119.40 0 0 1 1716.60,1691.13L1687.58,1698.09A89.55,89.55 0 0 0 1684.65,1688.37Z" fill="#c8c8c8"/>
<path d="M1716.60,1691.13A119.40,119.40 0 0 1 1719.39,1707.97L1689.67,1710.73A89.55,89.55 0 0 0 1687.58,1698.09Z" fill="#c8c8c8"/>
<path d="M1719.39,1707.97A119.40,119.40 0 0 1 1719.87,1721.50L1690.03,1720.88A89.55,89.55 0 0 0 1689.67,1710.73Z" fill="#c8c8c8"/>
<path d="M1719.87,1721.50A119.40,119.40 0 0 1 1718.56,1736.85L1689.04,1732.39A89.55,89.55 0 0 0 1690.03,1720.88Z" fill="#c8c8c8"/>
<path d="M1718.56,1736.85A119.40,119.40 0 0 1 1715.83,1749.90L1687.00,1742.18A89.55,89.55 0 0 0 1689.04,1732.39Z" fill="#c8c8c8"/>
<path d="M1715.83,1749.90A119.40,119.40 0 0 1 1710.00,1766.61L1682.62,1754.71A89.55,89.55 0 0 0 1687.00,1742.18Z" fill="#c8c8c8"/>
<path d="M1710.00,1766.61A119.40,119.40 0 0 1 1704.42,1777.80L1678.44,1763.10A89.55,89.55 0 0 0 1682.62,1754.71Z" fill="#c8c8c8"/>
<path d="M1704.42,1777.80A119.40,119.40 0 0 1 1697.71,1788.34L1673.40,1771.00A89.55,89.55 0 0 0 1678.44,1763.10Z" fill="#c8c8c8"/>
<path d="M1693.94,1793.33A119.40,119.40 0 0 1 1686.39,1801.94L1664.92,1781.21A89.55,89.55 0 0 0 1670.58,1774.75Z" fill="#c8c8c8"/>
<path d="M1684.19,1804.16A119.40,119.40 0 0 1 1676.45,1811.13L1657.46,1788.10A89.55,89.55 0 0 0 1663.27,1782.87Z" fill="#c8c8c8"/>
<path d="M1661.10,1821.88A119.40,119.40 0 0 1 1652.28,1826.59L1639.33,1799.69A89.55,89.55 0 0 0 1645.95,1796.16Z" fill="#c8c8c8"/>
<path d="M1634.81,1833.36A119.40,119.40 0 0 1 1623.90,1836.09L1618.05,1806.81A89.55,89.55 0 0 0 1626.23,1804.77Z" fill="#c8c8c8"/>
<path d="M1606.33,1838.26A119.40,119.40 0 0 1 1562.61,1832.23L1572.09,1803.92A89.55,89.55 0 0 0 1604.87,1808.44Z" fill="#c8c8c8"/>
<path d="M1562.61,1832.23A119.40,119.40 0 0 1 1549.47,1826.95L1562.23,1799.96A89.55,89.55 0 0 0 1572.09,1803.92Z" fill="#c8c8c8"/>
<path d="M1549.47,1826.95A119.40,119.40 0 0 1 1514.90,1802.24L1536.30,1781.43A89.55,89.55 0 0 0 1562.23,1799.96Z" fill="#4d4d4d"/>
<path d="M1514.90,1802.24A119.40,119.40 0 0 1 1504.64,1790.19L1528.61,1772.39A89.55,89.55 0 0 0 1536.30,1781.43Z" fill="#c8c8c8"/>
<path d="M1504.64,1790.19A119.40,119.40 0 0 1 1491.00,1766.61L1518.38,1754.71A89.55,89.55 0 0 0 1528.61,1772.39Z" fill="#c8c8c8"/>
<path d="M1491.00,1766.61A119.40,119.40 0 0 1 1485.73,1751.91L1514.42,1743.68A89.55,89.55 0 0 0 1518.38,1754.71Z" fill="#c8c8c8"/>
<path d="M1485.73,1751.91A119.40,119.40 0 0 1 1482.57,1737.68L1512.05,1733.01A89.55,89.55 0 0 0 1514.42,1743.68Z" fill="#c8c8c8"/>
<path d="M1482.57,1737.68A119.40,119.40 0 0 1 1481.17,1723.17L1511.00,1722.13A89.55,89.55 0 0 0 1512.05,1733.01Z" fill="#c8c8c8"/>
<path d="M1481.17,1723.17A119.40,119.40 0 0 1 1481.65,1707.56L1511.36,1710.42A89.55,89.55 0 0 0 1511.00,1722.13Z" fill="#c8c8c8"/>
<path d="M1481.65,1707.56A119.40,119.40 0 0 1 1483.71,1694.18L1512.91,1700.38A89.55,89.55 0 0 0 1511.36,1710.42Z" fill="#c8c8c8"/>
<path d="M1483.71,1694.18A119.40,119.40 0 0 1 1488.44,1677.77L1516.46,1688.08A89.55,89.55 0 0 0 1512.91,1700.38Z" fill="#c8c8c8"/>
<path d="M1488.44,1677.77A119.40,119.40 0 0 1 1493.18,1666.66L1520.01,1679.74A89.55,89.55 0 0 0 1516.46,1688.08Z" fill="#c8c8c8"/>
<path d="M1493.18,1666.66A119.40,119.40 0 0 1 1499.24,1655.73L1524.56,1671.55A89.55,89.55 0 0 0 1520.01,1679.74Z" fill="#c8c8c8"/>
<path d="M1511.49,1639.42A119.40,119.40 0 0 1 1518.31,1632.39L1538.86,1654.04A89.55,89.55 0 0 0 1533.74,1659.31Z" fill="#c8c8c8"/>
<path d="M1521.38,1629.57A119.40,119.40 0 0 1 1529.81,1622.77L1547.49,1646.83A89.55,89.55 0 0 0 1541.16,1651.93Z" fill="#c8c8c8"/>
<path d="M1600.50,1569.75A149.25,149.25 0 0 1 1653.01,1579.29L1642.51,1607.23A119.40,119.40 0 0 0 1600.50,1599.60Z" fill="#c8c8c8"/>
<path d="M1653.01,1579.29A149.25,149.25 0 0 1 1669.42,1586.61L1655.63,1613.09A119.40,119.40 0 0 0 1642.51,1607.23Z" fill="#c8c8c8"/>
<path d="M1670.57,1587.22A149.25,149.25 0 0 1 1685.46,1596.30L1668.47,1620.84A119.40,119.40 0 0 0 1656.55,1613.58Z" fill="#c8c8c8"/>
<path d="M1685.46,1596.30A149.25,149.25 0 0 1 1699.40,1607.22L1679.62,1629.57A119.40,119.40 0 0 0 1668.47,1620.84Z" fill="#c8c8c8"/>
<path d="M1749.11,1705.21A149.25,149.25 0 0 1 1749.72,1722.13L1719.87,1721.50A119.40,119.40 0 0 0 1719.39,1707.97Z" fill="#c8c8c8"/>
<path d="M1749.72,1722.13A149.25,149.25 0 0 1 1748.07,1741.32L1718.56,1736.85A119.40,119.40 0 0 0 1719.87,1721.50Z" fill="#c8c8c8"/>
<path d="M1748.07,1741.32A149.25,149.25 0 0 1 1744.66,1757.63L1715.83,1749.90A119.40,119.40 0 0 0 1718.56,1736.85Z" fill="#c8c8c8"/>
<path d="M1717.30,1811.91A149.25,149.25 0 0 1 1708.76,1821.74L1687.11,1801.19A119.40,119.40 0 0 0 1693.94,1793.33Z" fill="#c8c8c8"/>
<path d="M1705.11,1825.45A149.25,149.25 0 0 1 1695.43,1834.16L1676.45,1811.13A119.40,119.40 0 0 0 1684.19,1804.16Z" fill="#c8c8c8"/>
<path d="M1676.25,1847.60A149.25,149.25 0 0 1 1665.22,1853.49L1652.28,1826.59A119.40,119.40 0 0 0 1661.10,1821.88Z" fill="#c8c8c8"/>
<path d="M1607.27,1868.10A149.25,149.25 0 0 1 1589.57,1867.85L1591.76,1838.08A119.40,119.40 0 0 0 1605.92,1838.28Z" fill="#c8c8c8"/>
<path d="M1589.57,1867.85A149.25,149.25 0 0 1 1572.53,1865.61L1578.13,1836.29A119.40,119.40 0 0 0 1591.76,1838.08Z" fill="#c8c8c8"/>
<path d="M1572.53,1865.61A149.25,149.25 0 0 1 1556.12,1861.50L1564.99,1833.00A119.40,119.40 0 0 0 1578.13,1836.29Z" fill="#c8c8c8"/>
<path d="M1536.48,1853.82A149.25,149.25 0 0 1 1522.96,1846.53L1538.47,1821.02A119.40,119.40 0 0 0 1549.29,1826.86Z" fill="#c8c8c8"/>
<path d="M1521.41,1845.57A149.25,149.25 0 0 1 1507.59,1835.80L1526.17,1812.44A119.40,119.40 0 0 0 1537.23,1820.26Z" fill="#c8c8c8"/>
<path d="M1505.57,1834.16A149.25,149.25 0 0 1 1494.05,1823.61L1515.34,1802.69A119.40,119.40 0 0 0 1524.55,1811.13Z" fill="#c8c8c8"/>
<path d="M1479.75,1806.73A149.25,149.25 0 0 1 1471.90,1794.75L1497.62,1779.60A119.40,119.40 0 0 0 1503.90,1789.18Z" fill="#c8c8c8"/>
<path d="M1470.60,1792.49A149.25,149.25 0 0 1 1463.63,1778.51L1491.00,1766.61A119.40,119.40 0 0 0 1496.58,1777.80Z" fill="#c8c8c8"/>
<path d="M1460.43,1667.46A149.25,149.25 0 0 1 1466.35,1653.57L1493.18,1666.66A119.40,119.40 0 0 0 1488.44,1677.77Z" fill="#c8c8c8"/>
<path d="M1467.52,1651.24A149.25,149.25 0 0 1 1475.33,1637.71L1500.36,1653.97A119.40,119.40 0 0 0 1494.11,1664.79Z" fill="#c8c8c8"/>
<path d="M1488.37,1620.49A149.25,149.25 0 0 1 1498.71,1609.85L1519.07,1631.68A119.40,119.40 0 0 0 1510.80,1640.20Z" fill="#c8c8c8"/>
<path d="M1501.02,1607.74A149.25,149.25 0 0 1 1513.20,1597.95L1530.66,1622.16A119.40,119.40 0 0 0 1520.92,1629.99Z" fill="#c8c8c8"/>
<path d="M1600.50,1539.90A179.10,179.10 0 0 1 1620.77,1541.05L1617.40,1570.71A149.25,149.25 0 0 0 1600.50,1569.75Z" fill="#c8c8c8"/>
<path d="M1620.77,1541.05A179.10,179.10 0 0 1 1642.31,1544.85L1635.34,1573.87A149.25,149.25 0 0 0 1617.40,1570.71Z" fill="#c8c8c8"/>
<path d="M1642.31,1544.85A179.10,179.10 0 0 1 1663.51,1551.35L1653.01,1579.29A149.25,149.25 0 0 0 1635.34,1573.87Z" fill="#c8c8c8"/>
<path d="M1779.56,1722.75A179.10,179.10 0 0 1 1777.59,1745.78L1748.07,1741.32A149.25,149.25 0 0 0 1749.72,1722.13Z" fill="#c8c8c8"/>
<path d="M1777.59,1745.78A179.10,179.10 0 0 1 1773.50,1765.35L1744.66,1757.63A149.25,149.25 0 0 0 1748.07,1741.32Z" fill="#c8c8c8"/>
<path d="M1726.03,1846.74A179.10,179.10 0 0 1 1714.42,1857.20L1695.43,1834.16A149.25,149.25 0 0 0 1705.11,1825.45Z" fill="#c8c8c8"/>
<path d="M1440.92,1637.69A179.10,179.10 0 0 1 1450.29,1621.46L1475.33,1637.71A149.25,149.25 0 0 0 1467.52,1651.24Z" fill="#c8c8c8"/>
<circle cx="1600.5" cy="1719.0" r="29.85" fill="#4d4d4d"/>
</g>
<g stroke="#fff" stroke-width="2.0" stroke-linejoin="miter">
<path d="M752.50,2036.80A59.70,59.70 0 0 1 755.62,2156.12L754.06,2126.31A29.85,29.85 0 0 0 752.50,2066.65Z" fill="#b83840"/>
<path d="M755.62,2156.12A59.70,59.70 0 0 1 721.31,2045.60L736.90,2071.05A29.85,29.85 0 0 0 754.06,2126.31Z" fill="#7a6bb5"/>
<path d="M721.31,2045.60A59.70,59.70 0 0 1 735.54,2039.26L744.02,2067.88A29.85,29.85 0 0 0 736.90,2071.05Z" fill="#c8c8c8"/>
<path d="M735.54,2039.26A59.70,59.70 0 0 1 743.16,2037.54L747.83,2067.02A29.85,29.85 0 0 0 744.02,2067.88Z" fill="#c8c8c8"/>
<path d="M743.16,2037.54A59.70,59.70 0 0 1 752.08,2036.80L752.29,2066.65A29.85,29.85 0 0 0 747.83,2067.02Z" fill="#c8c8c8"/>
<path d="M752.50,2006.95A89.55,89.55 0 0 1 826.30,2045.78L801.70,2062.69A59.70,59.70 0 0 0 752.50,2036.80Z" fill="#8c95c7"/>
<path d="M826.30,2045.78A89.55,89.55 0 0 1 841.67,2088.23L811.94,2090.99A59.70,59.70 0 0 0 801.70,2062.69Z" fill="#c8c8c8"/>
<path d="M841.67,2088.23A89.55,89.55 0 0 1 839.00,2119.68L810.17,2111.95A59.70,59.70 0 0 0 811.94,2090.99Z" fill="#c8c8c8"/>
<path d="M839.00,2119.68A89.55,89.55 0 0 1 825.40,2148.50L801.10,2131.17A59.70,59.70 0 0 0 810.17,2111.95Z" fill="#c8c8c8"/>
<path d="M825.40,2148.50A89.55,89.55 0 0 1 809.46,2165.60L790.47,2142.57A59.70,59.70 0 0 0 801.10,2131.17Z" fill="#c8c8c8"/>
<path d="M809.46,2165.60A89.55,89.55 0 0 1 801.93,2171.17L785.45,2146.28A59.70,59.70 0 0 0 790.47,2142.57Z" fill="#c8c8c8"/>
<path d="M801.93,2171.17A89.55,89.55 0 0 1 791.19,2177.26L778.30,2150.34A59.70,59.70 0 0 0 785.45,2146.28Z" fill="#c8c8c8"/>
<path d="M791.19,2177.26A89.55,89.55 0 0 1 780.77,2181.47L771.34,2153.15A59.70,59.70 0 0 0 778.30,2150.34Z" fill="#c8c8c8"/>
<path d="M780.77,2181.47A89.55,89.55 0 0 1 767.43,2184.80L762.46,2155.36A59.70,59.70 0 0 0 771.34,2153.15Z" fill="#c8c8c8"/>
<path d="M767.43,2184.80A89.55,89.55 0 0 1 757.19,2185.93L755.62,2156.12A59.70,59.70 0 0 0 762.46,2155.36Z" fill="#c8c8c8"/>
<path d="M757.19,2185.93A89.55,89.55 0 0 1 714.23,2177.46L726.99,2150.47A59.70,59.70 0 0 0 755.62,2156.12Z" fill="#4d4d4d"/>
<path d="M714.23,2177.46A89.55,89.55 0 0 1 680.61,2149.89L704.57,2132.09A59.70,59.70 0 0 0 726.99,2150.47Z" fill="#c8c8c8"/>
<path d="M680.61,2149.89A89.55,89.55 0 0 1 666.42,2121.18L695.11,2112.96A59.70,59.70 0 0 0 704.57,2132.09Z" fill="#c8c8c8"/>
<path d="M666.42,2121.18A89.55,89.55 0 0 1 663.36,2087.92L693.07,2090.78A59.70,59.70 0 0 0 695.11,2112.96Z" fill="#c8c8c8"/>
<path d="M663.36,2087.92A89.55,89.55 0 0 1 668.46,2065.58L696.47,2075.89A59.70,59.70 0 0 0 693.07,2090.78Z" fill="#c8c8c8"/>
<path d="M668.46,2065.58A89.55,89.55 0 0 1 676.56,2049.05L701.87,2064.86A59.70,59.70 0 0 0 696.47,2075.89Z" fill="#c8c8c8"/>
<path d="M676.56,2049.05A89.55,89.55 0 0 1 680.51,2043.23L704.51,2060.99A59.70,59.70 0 0 0 701.87,2064.86Z" fill="#c8c8c8"/>
<path d="M680.51,2043.23A89.55,89.55 0 0 1 688.08,2034.29L709.56,2055.03A59.70,59.70 0 0 0 704.51,2060.99Z" fill="#c8c8c8"/>
<path d="M688.08,2034.29A89.55,89.55 0 0 1 696.75,2026.42L715.34,2049.78A59.70,59.70 0 0 0 709.56,2055.03Z" fill="#c8c8c8"/>
<path d="M696.75,2026.42A89.55,89.55 0 0 1 705.71,2020.15L721.31,2045.60A59.70,59.70 0 0 0 715.34,2049.78Z" fill="#c8c8c8"/>
<path d="M705.71,2020.15A89.55,89.55 0 0 1 716.08,2014.69L728.22,2041.96A59.70,59.70 0 0 0 721.31,2045.60Z" fill="#c8c8c8"/>
<path d="M716.08,2014.69A89.55,89.55 0 0 1 727.07,2010.64L735.54,2039.26A59.70,59.70 0 0 0 728.22,2041.96Z" fill="#c8c8c8"/>
<path d="M727.07,2010.64A89.55,89.55 0 0 1 738.49,2008.05L743.16,2037.54A59.70,59.70 0 0 0 735.54,2039.26Z" fill="#c8c8c8"/>
<path d="M738.49,2008.05A89.55,89.55 0 0 1 751.87,2006.95L752.08,2036.80A59.70,59.70 0 0 0 743.16,2037.54Z" fill="#c8c8c8"/>
<path d="M752.50,1977.10A119.40,119.40 0 0 1 807.63,1990.59L793.85,2017.07A89.55,89.55 0 0 0 752.50,2006.95Z" fill="#8c95c7"/>
<path d="M807.63,1990.59A119.40,119.40 0 0 1 832.39,2007.77L812.42,2029.95A89.55,89.55 0 0 0 793.85,2017.07Z" fill="#c8c8c8"/>
<path d="M832.39,2007.77A119.40,119.40 0 0 1 842.61,2018.17L820.08,2037.75A89.55,89.55 0 0 0 812.42,2029.95Z" fill="#c8c8c8"/>
<path d="M842.61,2018.17A119.40,119.40 0 0 1 850.90,2028.87L826.30,2045.78A89.55,89.55 0 0 0 820.08,2037.75Z" fill="#c8c8c8"/>
<path d="M850.90,2028.87A119.40,119.40 0 0 1 858.41,2041.37L831.93,2055.15A89.55,89.55 0 0 0 826.30,2045.78Z" fill="#c8c8c8"/>
<path d="M858.41,2041.37A119.40,119.40 0 0 1 864.70,2055.66L836.65,2065.87A89.55,89.55 0 0 0 831.93,2055.15Z" fill="#c8c8c8"/>
<path d="M864.70,2055.66A119.40,119.40 0 0 1 868.60,2068.63L839.58,2075.59A89.55,89.55 0 0 0 836.65,2065.87Z" fill="#c8c8c8"/>
<path d="M868.60,2068.63A119.40,119.40 0 0 1 871.39,2085.47L841.67,2088.23A89.55,89.55 0 0 0 839.58,2075.59Z" fill="#c8c8c8"/>
<path d="M871.39,2085.47A119.40,119.40 0 0 1 871.87,2099.00L842.03,2098.38A89.55,89.55 0 0 0 841.67,2088.23Z" fill="#c8c8c8"/>
<path d="M871.87,2099.00A119.40,119.40 0 0 1 870.56,2114.35L841.04,2109.89A89.55,89.55 0 0 0 842.03,2098.38Z" fill="#c8c8c8"/>
<path d="M870.56,2114.35A119.40,119.40 0 0 1 867.83,2127.40L839.00,2119.68A89.55,89.55 0 0 0 841.04,2109.89Z" fill="#c8c8c8"/>
<path d="M867.83,2127.40A119.40,119.40 0 0 1 862.00,2144.11L834.62,2132.21A89.55,89.55 0 0 0 839.00,2119.68Z" fill="#c8c8c8"/>
<path d="M862.00,2144.11A119.40,119.40 0 0 1 856.42,2155.30L830.44,2140.60A89.55,89.55 0 0 0 834.62,2132.21Z" fill="#c8c8c8"/>
<path d="M856.42,2155.30A119.40,119.40 0 0 1 849.71,2165.84L825.40,2148.50A89.55,89.55 0 0 0 830.44,2140.60Z" fill="#8c95c7"/>
<path d="M845.94,2170.83A119.40,119.40 0 0 1 838.39,2179.44L816.92,2158.71A89.55,89.55 0 0 0 822.58,2152.25Z" fill="#c8c8c8"/>
<path d="M836.19,2181.66A119.40,119.40 0 0 1 828.45,2188.63L809.46,2165.60A89.55,89.55 0 0 0 815.27,2160.37Z" fill="#c8c8c8"/>
<path d="M813.10,2199.38A119.40,119.40 0 0 1 804.28,2204.09L791.33,2177.19A89.55,89.55 0 0 0 797.95,2173.66Z" fill="#c8c8c8"/>
<path d="M786.81,2210.86A119.40,119.40 0 0 1 775.90,2213.59L770.05,2184.31A89.55,89.55 0 0 0 778.23,2182.27Z" fill="#c8c8c8"/>
<path d="M758.33,2215.76A119.40,119.40 0 0 1 714.61,2209.73L724.09,2181.42A89.55,89.55 0 0 0 756.87,2185.94Z" fill="#c8c8c8"/>
<path d="M714.61,2209.73A119.40,119.40 0 0 1 701.47,2204.45L714.23,2177.46A89.55,89.55 0 0 0 724.09,2181.42Z" fill="#c8c8c8"/>
<path d="M701.47,2204.45A119.40,119.40 0 0 1 666.90,2179.74L688.30,2158.93A89.55,89.55 0 0 0 714.23,2177.46Z" fill="#c8c8c8"/>
<path d="M666.90,2179.74A119.40,119.40 0 0 1 656.64,2167.69L680.61,2149.89A89.55,89.55 0 0 0 688.30,2158.93Z" fill="#c8c8c8"/>
<path d="M656.64,2167.69A119.40,119.40 0 0 1 643.00,2144.11L670.38,2132.21A89.55,89.55 0 0 0 680.61,2149.89Z" fill="#c8c8c8"/>
<path d="M643.00,2144.11A119.40,119.40 0 0 1 637.73,2129.41L666.42,2121.18A89.55,89.55 0 0 0 670.38,2132.21Z" fill="#c8c8c8"/>
<path d="M637.73,2129.41A119.40,119.40 0 0 1 634.57,2115.18L664.05,2110.51A89.55,89.55 0 0 0 666.42,2121.18Z" fill="#c8c8c8"/>
<path d="M634.57,2115.18A119.40,119.40 0 0 1 633.17,2100.67L663.00,2099.63A89.55,89.55 0 0 0 664.05,2110.51Z" fill="#c8c8c8"/>
<path d="M633.17,2100.67A119.40,119.40 0 0 1 633.65,2085.06L663.36,2087.92A89.55,89.55 0 0 0 663.00,2099.63Z" fill="#8c95c7"/>
<path d="M633.65,2085.06A119.40,119.40 0 0 1 635.71,2071.68L664.91,2077.88A89.55,89.55 0 0 0 663.36,2087.92Z" fill="#c8c8c8"/>
<path d="M635.71,2071.68A119.40,119.40 0 0 1 640.44,2055.27L668.46,2065.58A89.55,89.55 0 0 0 664.91,2077.88Z" fill="#c8c8c8"/>
<path d="M640.44,2055.27A119.40,119.40 0 0 1 645.18,2044.16L672.01,2057.24A89.55,89.55 0 0 0 668.46,2065.58Z" fill="#c8c8c8"/>
<path d="M645.18,2044.16A119.40,119.40 0 0 1 651.24,2033.23L676.56,2049.05A89.55,89.55 0 0 0 672.01,2057.24Z" fill="#c8c8c8"/>
<path d="M663.49,2016.92A119.40,119.40 0 0 1 670.31,2009.89L690.86,2031.54A89.55,89.55 0 0 0 685.74,2036.81Z" fill="#c8c8c8"/>
<path d="M673.38,2007.07A119.40,119.40 0 0 1 681.81,2000.27L699.49,2024.33A89.55,89.55 0 0 0 693.16,2029.43Z" fill="#c8c8c8"/>
<path d="M752.50,1947.25A149.25,149.25 0 0 1 805.01,1956.79L794.51,1984.73A119.40,119.40 0 0 0 752.50,1977.10Z" fill="#8c95c7"/>
<path d="M805.01,1956.79A149.25,149.25 0 0 1 821.42,1964.11L807.63,1990.59A119.40,119.40 0 0 0 794.51,1984.73Z" fill="#c8c8c8"/>
<path d="M822.57,1964.72A149.25,149.25 0 0 1 837.46,1973.80L820.47,1998.34A119.40,119.40 0 0 0 808.55,1991.08Z" fill="#c8c8c8"/>
<path d="M837.46,1973.80A149.25,149.25 0 0 1 851.40,1984.72L831.62,2007.07A119.40,119.40 0 0 0 820.47,1998.34Z" fill="#c8c8c8"/>
<path d="M901.11,2082.71A149.25,149.25 0 0 1 901.72,2099.63L871.87,2099.00A119.40,119.40 0 0 0 871.39,2085.47Z" fill="#c8c8c8"/>
<path d="M901.72,2099.63A149.25,149.25 0 0 1 900.07,2118.82L870.56,2114.35A119.40,119.40 0 0 0 871.87,2099.00Z" fill="#c8c8c8"/>
<path d="M900.07,2118.82A149.25,149.25 0 0 1 896.66,2135.13L867.83,2127.40A119.40,119.40 0 0 0 870.56,2114.35Z" fill="#c8c8c8"/>
<path d="M869.30,2189.41A149.25,149.25 0 0 1 860.76,2199.24L839.11,2178.69A119.40,119.40 0 0 0 845.94,2170.83Z" fill="#c8c8c8"/>
<path d="M857.11,2202.95A149.25,149.25 0 0 1 847.43,2211.66L828.45,2188.63A119.40,119.40 0 0 0 836.19,2181.66Z" fill="#c8c8c8"/>
<path d="M828.25,2225.10A149.25,149.25 0 0 1 817.22,2230.99L804.28,2204.09A119.40,119.40 0 0 0 813.10,2199.38Z" fill="#c8c8c8"/>
<path d="M759.27,2245.60A149.25,149.25 0 0 1 741.57,2245.35L743.76,2215.58A119.40,119.40 0 0 0 757.92,2215.78Z" fill="#c8c8c8"/>
<path d="M741.57,2245.35A149.25,149.25 0 0 1 724.53,2243.11L730.13,2213.79A119.40,119.40 0 0 0 743.76,2215.58Z" fill="#c8c8c8"/>
<path d="M724.53,2243.11A149.25,149.25 0 0 1 708.12,2239.00L716.99,2210.50A119.40,119.40 0 0 0 730.13,2213.79Z" fill="#c8c8c8"/>
<path d="M688.48,2231.32A149.25,149.25 0 0 1 674.96,2224.03L690.47,2198.52A119.40,119.40 0 0 0 701.29,2204.36Z" fill="#c8c8c8"/>
<path d="M673.41,2223.07A149.25,149.25 0 0 1 659.59,2213.30L678.17,2189.94A119.40,119.40 0 0 0 689.23,2197.76Z" fill="#c8c8c8"/>
<path d="M657.57,2211.66A149.25,149.25 0 0 1 646.05,2201.11L667.34,2180.19A119.40,119.40 0 0 0 676.55,2188.63Z" fill="#c8c8c8"/>
<path d="M631.75,2184.23A149.25,149.25 0 0 1 623.90,2172.25L649.62,2157.10A119.40,119.40 0 0 0 655.90,2166.68Z" fill="#c8c8c8"/>
<path d="M622.60,2169.99A149.25,149.25 0 0 1 615.63,2156.01L643.00,2144.11A119.40,119.40 0 0 0 648.58,2155.30Z" fill="#c8c8c8"/>
<path d="M612.43,2044.96A149.25,149.25 0 0 1 618.35,2031.07L645.18,2044.16A119.40,119.40 0 0 0 640.44,2055.27Z" fill="#c8c8c8"/>
<path d="M619.52,2028.74A149.25,149.25 0 0 1 627.33,2015.21L652.36,2031.47A119.40,119.40 0 0 0 646.11,2042.29Z" fill="#c8c8c8"/>
<path d="M640.37,1997.99A149.25,149.25 0 0 1 650.71,1987.35L671.07,2009.18A119.40,119.40 0 0 0 662.80,2017.70Z" fill="#c8c8c8"/>
<path d="M653.02,1985.24A149.25,149.25 0 0 1 665.20,1975.45L682.66,1999.66A119.40,119.40 0 0 0 672.92,2007.49Z" fill="#c8c8c8"/>
<path d="M752.50,1917.40A179.10,179.10 0 0 1 772.77,1918.55L769.40,1948.21A149.25,149.25 0 0 0 752.50,1947.25Z" fill="#c8c8c8"/>
<path d="M772.77,1918.55A179.10,179.10 0 0 1 794.31,1922.35L787.34,1951.37A149.25,149.25 0 0 0 769.40,1948.21Z" fill="#c8c8c8"/>
<path d="M794.31,1922.35A179.10,179.10 0 0 1 815.51,1928.85L805.01,1956.79A149.25,149.25 0 0 0 787.34,1951.37Z" fill="#8c95c7"/>
<path d="M931.56,2100.25A179.10,179.10 0 0 1 929.59,2123.28L900.07,2118.82A149.25,149.25 0 0 0 901.72,2099.63Z" fill="#c8c8c8"/>
<path d="M929.59,2123.28A179.10,179.10 0 0 1 925.50,2142.85L896.66,2135.13A149.25,149.25 0 0 0 900.07,2118.82Z" fill="#c8c8c8"/>
<path d="M878.03,2224.24A179.10,179.10 0 0 1 866.42,2234.70L847.43,2211.66A149.25,149.25 0 0 0 857.11,2202.95Z" fill="#c8c8c8"/>
<path d="M592.92,2015.19A179.10,179.10 0 0 1 602.29,1998.96L627.33,2015.21A149.25,149.25 0 0 0 619.52,2028.74Z" fill="#c8c8c8"/>
<circle cx="752.5" cy="2096.5" r="29.85" fill="#c83a2c"/>
</g>
<g stroke="#fff" stroke-width="2.0" stroke-linejoin="miter">
<path d="M1176.50,2036.80A59.70,59.70 0 0 1 1179.62,2156.12L1178.06,2126.31A29.85,29.85 0 0 0 1176.50,2066.65Z" fill="#a6405a"/>
<path d="M1179.62,2156.12A59.70,59.70 0 0 1 1145.31,2045.60L1160.90,2071.05A29.85,29.85 0 0 0 1178.06,2126.31Z" fill="#7a6bb5"/>
<path d="M1145.31,2045.60A59.70,59.70 0 0 1 1159.54,2039.26L1168.02,2067.88A29.85,29.85 0 0 0 1160.90,2071.05Z" fill="#c8c8c8"/>
<path d="M1159.54,2039.26A59.70,59.70 0 0 1 1167.16,2037.54L1171.83,2067.02A29.85,29.85 0 0 0 1168.02,2067.88Z" fill="#c8c8c8"/>
<path d="M1167.16,2037.54A59.70,59.70 0 0 1 1176.08,2036.80L1176.29,2066.65A29.85,29.85 0 0 0 1171.83,2067.02Z" fill="#c8c8c8"/>
<path d="M1176.50,2006.95A89.55,89.55 0 0 1 1250.30,2045.78L1225.70,2062.69A59.70,59.70 0 0 0 1176.50,2036.80Z" fill="#8c95c7"/>
<path d="M1250.30,2045.78A89.55,89.55 0 0 1 1265.67,2088.23L1235.94,2090.99A59.70,59.70 0 0 0 1225.70,2062.69Z" fill="#c8c8c8"/>
<path d="M1265.67,2088.23A89.55,89.55 0 0 1 1263.00,2119.68L1234.17,2111.95A59.70,59.70 0 0 0 1235.94,2090.99Z" fill="#c8c8c8"/>
<path d="M1263.00,2119.68A89.55,89.55 0 0 1 1249.40,2148.50L1225.10,2131.17A59.70,59.70 0 0 0 1234.17,2111.95Z" fill="#c8c8c8"/>
<path d="M1249.40,2148.50A89.55,89.55 0 0 1 1233.46,2165.60L1214.47,2142.57A59.70,59.70 0 0 0 1225.10,2131.17Z" fill="#c8c8c8"/>
<path d="M1233.46,2165.60A89.55,89.55 0 0 1 1225.93,2171.17L1209.45,2146.28A59.70,59.70 0 0 0 1214.47,2142.57Z" fill="#c8c8c8"/>
<path d="M1225.93,2171.17A89.55,89.55 0 0 1 1215.19,2177.26L1202.30,2150.34A59.70,59.70 0 0 0 1209.45,2146.28Z" fill="#c8c8c8"/>
<path d="M1215.19,2177.26A89.55,89.55 0 0 1 1204.77,2181.47L1195.34,2153.15A59.70,59.70 0 0 0 1202.30,2150.34Z" fill="#c8c8c8"/>
<path d="M1204.77,2181.47A89.55,89.55 0 0 1 1191.43,2184.80L1186.46,2155.36A59.70,59.70 0 0 0 1195.34,2153.15Z" fill="#c8c8c8"/>
<path d="M1191.43,2184.80A89.55,89.55 0 0 1 1181.19,2185.93L1179.62,2156.12A59.70,59.70 0 0 0 1186.46,2155.36Z" fill="#c8c8c8"/>
<path d="M1181.19,2185.93A89.55,89.55 0 0 1 1138.23,2177.46L1150.99,2150.47A59.70,59.70 0 0 0 1179.62,2156.12Z" fill="#4d4d4d"/>
<path d="M1138.23,2177.46A89.55,89.55 0 0 1 1104.61,2149.89L1128.57,2132.09A59.70,59.70 0 0 0 1150.99,2150.47Z" fill="#c8c8c8"/>
<path d="M1104.61,2149.89A89.55,89.55 0 0 1 1090.42,2121.18L1119.11,2112.96A59.70,59.70 0 0 0 1128.57,2132.09Z" fill="#c8c8c8"/>
<path d="M1090.42,2121.18A89.55,89.55 0 0 1 1087.36,2087.92L1117.07,2090.78A59.70,59.70 0 0 0 1119.11,2112.96Z" fill="#c8c8c8"/>
<path d="M1087.36,2087.92A89.55,89.55 0 0 1 1092.46,2065.58L1120.47,2075.89A59.70,59.70 0 0 0 1117.07,2090.78Z" fill="#c8c8c8"/>
<path d="M1092.46,2065.58A89.55,89.55 0 0 1 1100.56,2049.05L1125.87,2064.86A59.70,59.70 0 0 0 1120.47,2075.89Z" fill="#c8c8c8"/>
<path d="M1100.56,2049.05A89.55,89.55 0 0 1 1104.51,2043.23L1128.51,2060.99A59.70,59.70 0 0 0 1125.87,2064.86Z" fill="#c8c8c8"/>
<path d="M1104.51,2043.23A89.55,89.55 0 0 1 1112.08,2034.29L1133.56,2055.03A59.70,59.70 0 0 0 1128.51,2060.99Z" fill="#c8c8c8"/>
<path d="M1112.08,2034.29A89.55,89.55 0 0 1 1120.75,2026.42L1139.34,2049.78A59.70,59.70 0 0 0 1133.56,2055.03Z" fill="#c8c8c8"/>
<path d="M1120.75,2026.42A89.55,89.55 0 0 1 1129.71,2020.15L1145.31,2045.60A59.70,59.70 0 0 0 1139.34,2049.78Z" fill="#c8c8c8"/>
<path d="M1129.71,2020.15A89.55,89.55 0 0 1 1140.08,2014.69L1152.22,2041.96A59.70,59.70 0 0 0 1145.31,2045.60Z" fill="#c8c8c8"/>
<path d="M1140.08,2014.69A89.55,89.55 0 0 1 1151.07,2010.64L1159.54,2039.26A59.70,59.70 0 0 0 1152.22,2041.96Z" fill="#c8c8c8"/>
<path d="M1151.07,2010.64A89.55,89.55 0 0 1 1162.49,2008.05L1167.16,2037.54A59.70,59.70 0 0 0 1159.54,2039.26Z" fill="#c8c8c8"/>
<path d="M1162.49,2008.05A89.55,89.55 0 0 1 1175.87,2006.95L1176.08,2036.80A59.70,59.70 0 0 0 1167.16,2037.54Z" fill="#c8c8c8"/>
<path d="M1176.50,1977.10A119.40,119.40 0 0 1 1231.63,1990.59L1217.85,2017.07A89.55,89.55 0 0 0 1176.50,2006.95Z" fill="#8c95c7"/>
<path d="M1231.63,1990.59A119.40,119.40 0 0 1 1256.39,2007.77L1236.42,2029.95A89.55,89.55 0 0 0 1217.85,2017.07Z" fill="#c8c8c8"/>
<path d="M1256.39,2007.77A119.40,119.40 0 0 1 1266.61,2018.17L1244.08,2037.75A89.55,89.55 0 0 0 1236.42,2029.95Z" fill="#c8c8c8"/>
<path d="M1266.61,2018.17A119.40,119.40 0 0 1 1274.90,2028.87L1250.30,2045.78A89.55,89.55 0 0 0 1244.08,2037.75Z" fill="#c8c8c8"/>
<path d="M1274.90,2028.87A119.40,119.40 0 0 1 1282.41,2041.37L1255.93,2055.15A89.55,89.55 0 0 0 1250.30,2045.78Z" fill="#c8c8c8"/>
<path d="M1282.41,2041.37A119.40,119.40 0 0 1 1288.70,2055.66L1260.65,2065.87A89.55,89.55 0 0 0 1255.93,2055.15Z" fill="#c8c8c8"/>
<path d="M1288.70,2055.66A119.40,119.40 0 0 1 1292.60,2068.63L1263.58,2075.59A89.55,89.55 0 0 0 1260.65,2065.87Z" fill="#c8c8c8"/>
<path d="M1292.60,2068.63A119.40,119.40 0 0 1 1295.39,2085.47L1265.67,2088.23A89.55,89.55 0 0 0 1263.58,2075.59Z" fill="#c8c8c8"/>
<path d="M1295.39,2085.47A119.40,119.40 0 0 1 1295.87,2099.00L1266.03,2098.38A89.55,89.55 0 0 0 1265.67,2088.23Z" fill="#c8c8c8"/>
<path d="M1295.87,2099.00A119.40,119.40 0 0 1 1294.56,2114.35L1265.04,2109.89A89.55,89.55 0 0 0 1266.03,2098.38Z" fill="#c8c8c8"/>
<path d="M1294.56,2114.35A119.40,119.40 0 0 1 1291.83,2127.40L1263.00,2119.68A89.55,89.55 0 0 0 1265.04,2109.89Z" fill="#c8c8c8"/>
<path d="M1291.83,2127.40A119.40,119.40 0 0 1 1286.00,2144.11L1258.62,2132.21A89.55,89.55 0 0 0 1263.00,2119.68Z" fill="#c8c8c8"/>
<path d="M1286.00,2144.11A119.40,119.40 0 0 1 1280.42,2155.30L1254.44,2140.60A89.55,89.55 0 0 0 1258.62,2132.21Z" fill="#c8c8c8"/>
<path d="M1280.42,2155.30A119.40,119.40 0 0 1 1273.71,2165.84L1249.40,2148.50A89.55,89.55 0 0 0 1254.44,2140.60Z" fill="#8c95c7"/>
<path d="M1269.94,2170.83A119.40,119.40 0 0 1 1262.39,2179.44L1240.92,2158.71A89.55,89.55 0 0 0 1246.58,2152.25Z" fill="#c8c8c8"/>
<path d="M1260.19,2181.66A119.40,119.40 0 0 1 1252.45,2188.63L1233.46,2165.60A89.55,89.55 0 0 0 1239.27,2160.37Z" fill="#c8c8c8"/>
<path d="M1237.10,2199.38A119.40,119.40 0 0 1 1228.28,2204.09L1215.33,2177.19A89.55,89.55 0 0 0 1221.95,2173.66Z" fill="#c8c8c8"/>
<path d="M1210.81,2210.86A119.40,119.40 0 0 1 1199.90,2213.59L1194.05,2184.31A89.55,89.55 0 0 0 1202.23,2182.27Z" fill="#c8c8c8"/>
<path d="M1182.33,2215.76A119.40,119.40 0 0 1 1138.61,2209.73L1148.09,2181.42A89.55,89.55 0 0 0 1180.87,2185.94Z" fill="#c8c8c8"/>
<path d="M1138.61,2209.73A119.40,119.40 0 0 1 1125.47,2204.45L1138.23,2177.46A89.55,89.55 0 0 0 1148.09,2181.42Z" fill="#c8c8c8"/>
<path d="M1125.47,2204.45A119.40,119.40 0 0 1 1090.90,2179.74L1112.30,2158.93A89.55,89.55 0 0 0 1138.23,2177.46Z" fill="#c8c8c8"/>
<path d="M1090.90,2179.74A119.40,119.40 0 0 1 1080.64,2167.69L1104.61,2149.89A89.55,89.55 0 0 0 1112.30,2158.93Z" fill="#c8c8c8"/>
<path d="M1080.64,2167.69A119.40,119.40 0 0 1 1067.00,2144.11L1094.38,2132.21A89.55,89.55 0 0 0 1104.61,2149.89Z" fill="#c8c8c8"/>
<path d="M1067.00,2144.11A119.40,119.40 0 0 1 1061.73,2129.41L1090.42,2121.18A89.55,89.55 0 0 0 1094.38,2132.21Z" fill="#c8c8c8"/>
<path d="M1061.73,2129.41A119.40,119.40 0 0 1 1058.57,2115.18L1088.05,2110.51A89.55,89.55 0 0 0 1090.42,2121.18Z" fill="#c8c8c8"/>
<path d="M1058.57,2115.18A119.40,119.40 0 0 1 1057.17,2100.67L1087.00,2099.63A89.55,89.55 0 0 0 1088.05,2110.51Z" fill="#c8c8c8"/>
<path d="M1057.17,2100.67A119.40,119.40 0 0 1 1057.65,2085.06L1087.36,2087.92A89.55,89.55 0 0 0 1087.00,2099.63Z" fill="#8c95c7"/>
<path d="M1057.65,2085.06A119.40,119.40 0 0 1 1059.71,2071.68L1088.91,2077.88A89.55,89.55 0 0 0 1087.36,2087.92Z" fill="#c8c8c8"/>
<path d="M1059.71,2071.68A119.40,119.40 0 0 1 1064.44,2055.27L1092.46,2065.58A89.55,89.55 0 0 0 1088.91,2077.88Z" fill="#c8c8c8"/>
<path d="M1064.44,2055.27A119.40,119.40 0 0 1 1069.18,2044.16L1096.01,2057.24A89.55,89.55 0 0 0 1092.46,2065.58Z" fill="#c8c8c8"/>
<path d="M1069.18,2044.16A119.40,119.40 0 0 1 1075.24,2033.23L1100.56,2049.05A89.55,89.55 0 0 0 1096.01,2057.24Z" fill="#c8c8c8"/>
<path d="M1087.49,2016.92A119.40,119.40 0 0 1 1094.31,2009.89L1114.86,2031.54A89.55,89.55 0 0 0 1109.74,2036.81Z" fill="#c8c8c8"/>
<path d="M1097.38,2007.07A119.40,119.40 0 0 1 1105.81,2000.27L1123.49,2024.33A89.55,89.55 0 0 0 1117.16,2029.43Z" fill="#c8c8c8"/>
<path d="M1176.50,1947.25A149.25,149.25 0 0 1 1229.01,1956.79L1218.51,1984.73A119.40,119.40 0 0 0 1176.50,1977.10Z" fill="#8c95c7"/>
<path d="M1229.01,1956.79A149.25,149.25 0 0 1 1245.42,1964.11L1231.63,1990.59A119.40,119.40 0 0 0 1218.51,1984.73Z" fill="#c8c8c8"/>
<path d="M1246.57,1964.72A149.25,149.25 0 0 1 1261.46,1973.80L1244.47,1998.34A119.40,119.40 0 0 0 1232.55,1991.08Z" fill="#c8c8c8"/>
<path d="M1261.46,1973.80A149.25,149.25 0 0 1 1275.40,1984.72L1255.62,2007.07A119.40,119.40 0 0 0 1244.47,1998.34Z" fill="#c8c8c8"/>
<path d="M1325.11,2082.71A149.25,149.25 0 0 1 1325.72,2099.63L1295.87,2099.00A119.40,119.40 0 0 0 1295.39,2085.47Z" fill="#c8c8c8"/>
<path d="M1325.72,2099.63A149.25,149.25 0 0 1 1324.07,2118.82L1294.56,2114.35A119.40,119.40 0 0 0 1295.87,2099.00Z" fill="#c8c8c8"/>
<path d="M1324.07,2118.82A149.25,149.25 0 0 1 1320.66,2135.13L1291.83,2127.40A119.40,119.40 0 0 0 1294.56,2114.35Z" fill="#c8c8c8"/>
<path d="M1293.30,2189.41A149.25,149.25 0 0 1 1284.76,2199.24L1263.11,2178.69A119.40,119.40 0 0 0 1269.94,2170.83Z" fill="#c8c8c8"/>
<path d="M1281.11,2202.95A149.25,149.25 0 0 1 1271.43,2211.66L1252.45,2188.63A119.40,119.40 0 0 0 1260.19,2181.66Z" fill="#c8c8c8"/>
<path d="M1252.25,2225.10A149.25,149.25 0 0 1 1241.22,2230.99L1228.28,2204.09A119.40,119.40 0 0 0 1237.10,2199.38Z" fill="#c8c8c8"/>
<path d="M1183.27,2245.60A149.25,149.25 0 0 1 1165.57,2245.35L1167.76,2215.58A119.40,119.40 0 0 0 1181.92,2215.78Z" fill="#c8c8c8"/>
<path d="M1165.57,2245.35A149.25,149.25 0 0 1 1148.53,2243.11L1154.13,2213.79A119.40,119.40 0 0 0 1167.76,2215.58Z" fill="#c8c8c8"/>
<path d="M1148.53,2243.11A149.25,149.25 0 0 1 1132.12,2239.00L1140.99,2210.50A119.40,119.40 0 0 0 1154.13,2213.79Z" fill="#c8c8c8"/>
<path d="M1112.48,2231.32A149.25,149.25 0 0 1 1098.96,2224.03L1114.47,2198.52A119.40,119.40 0 0 0 1125.29,2204.36Z" fill="#c8c8c8"/>
<path d="M1097.41,2223.07A149.25,149.25 0 0 1 1083.59,2213.30L1102.17,2189.94A119.40,119.40 0 0 0 1113.23,2197.76Z" fill="#c8c8c8"/>
<path d="M1081.57,2211.66A149.25,149.25 0 0 1 1070.05,2201.11L1091.34,2180.19A119.40,119.40 0 0 0 1100.55,2188.63Z" fill="#c8c8c8"/>
<path d="M1055.75,2184.23A149.25,149.25 0 0 1 1047.90,2172.25L1073.62,2157.10A119.40,119.40 0 0 0 1079.90,2166.68Z" fill="#c8c8c8"/>
<path d="M1046.60,2169.99A149.25,149.25 0 0 1 1039.63,2156.01L1067.00,2144.11A119.40,119.40 0 0 0 1072.58,2155.30Z" fill="#c8c8c8"/>
<path d="M1036.43,2044.96A149.25,149.25 0 0 1 1042.35,2031.07L1069.18,2044.16A119.40,119.40 0 0 0 1064.44,2055.27Z" fill="#c8c8c8"/>
<path d="M1043.52,2028.74A149.25,149.25 0 0 1 1051.33,2015.21L1076.36,2031.47A119.40,119.40 0 0 0 1070.11,2042.29Z" fill="#c8c8c8"/>
<path d="M1064.37,1997.99A149.25,149.25 0 0 1 1074.71,1987.35L1095.07,2009.18A119.40,119.40 0 0 0 1086.80,2017.70Z" fill="#c8c8c8"/>
<path d="M1077.02,1985.24A149.25,149.25 0 0 1 1089.20,1975.45L1106.66,1999.66A119.40,119.40 0 0 0 1096.92,2007.49Z" fill="#c8c8c8"/>
<path d="M1176.50,1917.40A179.10,179.10 0 0 1 1196.77,1918.55L1193.40,1948.21A149.25,149.25 0 0 0 1176.50,1947.25Z" fill="#c8c8c8"/>
<path d="M1196.77,1918.55A179.10,179.10 0 0 1 1218.31,1922.35L1211.34,1951.37A149.25,149.25 0 0 0 1193.40,1948.21Z" fill="#c8c8c8"/>
<path d="M1218.31,1922.35A179.10,179.10 0 0 1 1239.51,1928.85L1229.01,1956.79A149.25,149.25 0 0 0 1211.34,1951.37Z" fill="#9db8d8"/>
<path d="M1355.56,2100.25A179.10,179.10 0 0 1 1353.59,2123.28L1324.07,2118.82A149.25,149.25 0 0 0 1325.72,2099.63Z" fill="#c8c8c8"/>
<path d="M1353.59,2123.28A179.10,179.10 0 0 1 1349.50,2142.85L1320.66,2135.13A149.25,149.25 0 0 0 1324.07,2118.82Z" fill="#c8c8c8"/>
<path d="M1302.03,2224.24A179.10,179.10 0 0 1 1290.42,2234.70L1271.43,2211.66A149.25,149.25 0 0 0 1281.11,2202.95Z" fill="#c8c8c8"/>
<path d="M1016.92,2015.19A179.10,179.10 0 0 1 1026.29,1998.96L1051.33,2015.21A149.25,149.25 0 0 0 1043.52,2028.74Z" fill="#c8c8c8"/>
<circle cx="1176.5" cy="2096.5" r="29.85" fill="#b83840"/>
</g>
<g stroke="#fff" stroke-width="2.0" stroke-linejoin="miter">
<path d="M1600.50,2036.80A59.70,59.70 0 0 1 1603.62,2156.12L1602.06,2126.31A29.85,29.85 0 0 0 1600.50,2066.65Z" fill="#4d4d4d"/>
<path d="M1603.62,2156.12A59.70,59.70 0 0 1 1569.31,2045.60L1584.90,2071.05A29.85,29.85 0 0 0 1602.06,2126.31Z" fill="#c8c8c8"/>
<path d="M1569.31,2045.60A59.70,59.70 0 0 1 1583.54,2039.26L1592.02,2067.88A29.85,29.85 0 0 0 1584.90,2071.05Z" fill="#c8c8c8"/>
<path d="M1583.54,2039.26A59.70,59.70 0 0 1 1591.16,2037.54L1595.83,2067.02A29.85,29.85 0 0 0 1592.02,2067.88Z" fill="#c8c8c8"/>
<path d="M1591.16,2037.54A59.70,59.70 0 0 1 1600.08,2036.80L1600.29,2066.65A29.85,29.85 0 0 0 1595.83,2067.02Z" fill="#c8c8c8"/>
<path d="M1600.50,2006.95A89.55,89.55 0 0 1 1674.30,2045.78L1649.70,2062.69A59.70,59.70 0 0 0 1600.50,2036.80Z" fill="#c8c8c8"/>
<path d="M1674.30,2045.78A89.55,89.55 0 0 1 1689.67,2088.23L1659.94,2090.99A59.70,59.70 0 0 0 1649.70,2062.69Z" fill="#c8c8c8"/>
<path d="M1689.67,2088.23A89.55,89.55 0 0 1 1687.00,2119.68L1658.17,2111.95A59.70,59.70 0 0 0 1659.94,2090.99Z" fill="#c8c8c8"/>
<path d="M1687.00,2119.68A89.55,89.55 0 0 1 1673.40,2148.50L1649.10,2131.17A59.70,59.70 0 0 0 1658.17,2111.95Z" fill="#c8c8c8"/>
<path d="M1673.40,2148.50A89.55,89.55 0 0 1 1657.46,2165.60L1638.47,2142.57A59.70,59.70 0 0 0 1649.10,2131.17Z" fill="#c8c8c8"/>
<path d="M1657.46,2165.60A89.55,89.55 0 0 1 1649.93,2171.17L1633.45,2146.28A59.70,59.70 0 0 0 1638.47,2142.57Z" fill="#c8c8c8"/>
<path d="M1649.93,2171.17A89.55,89.55 0 0 1 1639.19,2177.26L1626.30,2150.34A59.70,59.70 0 0 0 1633.45,2146.28Z" fill="#c8c8c8"/>
<path d="M1639.19,2177.26A89.55,89.55 0 0 1 1628.77,2181.47L1619.34,2153.15A59.70,59.70 0 0 0 1626.30,2150.34Z" fill="#c8c8c8"/>
<path d="M1628.77,2181.47A89.55,89.55 0 0 1 1615.43,2184.80L1610.46,2155.36A59.70,59.70 0 0 0 1619.34,2153.15Z" fill="#c8c8c8"/>
<path d="M1615.43,2184.80A89.55,89.55 0 0 1 1605.19,2185.93L1603.62,2156.12A59.70,59.70 0 0 0 1610.46,2155.36Z" fill="#c8c8c8"/>
<path d="M1605.19,2185.93A89.55,89.55 0 0 1 1562.23,2177.46L1574.99,2150.47A59.70,59.70 0 0 0 1603.62,2156.12Z" fill="#c8c8c8"/>
<path d="M1562.23,2177.46A89.55,89.55 0 0 1 1528.61,2149.89L1552.57,2132.09A59.70,59.70 0 0 0 1574.99,2150.47Z" fill="#c8c8c8"/>
<path d="M1528.61,2149.89A89.55,89.55 0 0 1 1514.42,2121.18L1543.11,2112.96A59.70,59.70 0 0 0 1552.57,2132.09Z" fill="#c8c8c8"/>
<path d="M1514.42,2121.18A89.55,89.55 0 0 1 1511.36,2087.92L1541.07,2090.78A59.70,59.70 0 0 0 1543.11,2112.96Z" fill="#c8c8c8"/>
<path d="M1511.36,2087.92A89.55,89.55 0 0 1 1516.46,2065.58L1544.47,2075.89A59.70,59.70 0 0 0 1541.07,2090.78Z" fill="#c8c8c8"/>
<path d="M1516.46,2065.58A89.55,89.55 0 0 1 1524.56,2049.05L1549.87,2064.86A59.70,59.70 0 0 0 1544.47,2075.89Z" fill="#c8c8c8"/>
<path d="M1524.56,2049.05A89.55,89.55 0 0 1 1528.51,2043.23L1552.51,2060.99A59.70,59.70 0 0 0 1549.87,2064.86Z" fill="#c8c8c8"/>
<path d="M1528.51,2043.23A89.55,89.55 0 0 1 1536.08,2034.29L1557.56,2055.03A59.70,59.70 0 0 0 1552.51,2060.99Z" fill="#c8c8c8"/>
<path d="M1536.08,2034.29A89.55,89.55 0 0 1 1544.75,2026.42L1563.34,2049.78A59.70,59.70 0 0 0 1557.56,2055.03Z" fill="#c8c8c8"/>
<path d="M1544.75,2026.42A89.55,89.55 0 0 1 1553.71,2020.15L1569.31,2045.60A59.70,59.70 0 0 0 1563.34,2049.78Z" fill="#c8c8c8"/>
<path d="M1553.71,2020.15A89.55,89.55 0 0 1 1564.08,2014.69L1576.22,2041.96A59.70,59.70 0 0 0 1569.31,2045.60Z" fill="#c8c8c8"/>
<path d="M1564.08,2014.69A89.55,89.55 0 0 1 1575.07,2010.64L1583.54,2039.26A59.70,59.70 0 0 0 1576.22,2041.96Z" fill="#c8c8c8"/>
<path d="M1575.07,2010.64A89.55,89.55 0 0 1 1586.49,2008.05L1591.16,2037.54A59.70,59.70 0 0 0 1583.54,2039.26Z" fill="#c8c8c8"/>
<path d="M1586.49,2008.05A89.55,89.55 0 0 1 1599.87,2006.95L1600.08,2036.80A59.70,59.70 0 0 0 1591.16,2037.54Z" fill="#c8c8c8"/>
<path d="M1600.50,1977.10A119.40,119.40 0 0 1 1655.63,1990.59L1641.85,2017.07A89.55,89.55 0 0 0 1600.50,2006.95Z" fill="#c8c8c8"/>
<path d="M1655.63,1990.59A119.40,119.40 0 0 1 1680.39,2007.77L1660.42,2029.95A89.55,89.55 0 0 0 1641.85,2017.07Z" fill="#c8c8c8"/>
<path d="M1680.39,2007.77A119.40,119.40 0 0 1 1690.61,2018.17L1668.08,2037.75A89.55,89.55 0 0 0 1660.42,2029.95Z" fill="#c8c8c8"/>
<path d="M1690.61,2018.17A119.40,119.40 0 0 1 1698.90,2028.87L1674.30,2045.78A89.55,89.55 0 0 0 1668.08,2037.75Z" fill="#c8c8c8"/>
<path d="M1698.90,2028.87A119.40,119.40 0 0 1 1706.41,2041.37L1679.93,2055.15A89.55,89.55 0 0 0 1674.30,2045.78Z" fill="#c8c8c8"/>
<path d="M1706.41,2041.37A119.40,119.40 0 0 1 1712.70,2055.66L1684.65,2065.87A89.55,89.55 0 0 0 1679.93,2055.15Z" fill="#c8c8c8"/>
<path d="M1712.70,2055.66A119.40,119.40 0 0 1 1716.60,2068.63L1687.58,2075.59A89.55,89.55 0 0 0 1684.65,2065.87Z" fill="#c8c8c8"/>
<path d="M1716.60,2068.63A119.40,119.40 0 0 1 1719.39,2085.47L1689.67,2088.23A89.55,89.55 0 0 0 1687.58,2075.59Z" fill="#c8c8c8"/>
<path d="M1719.39,2085.47A119.40,119.40 0 0 1 1719.87,2099.00L1690.03,2098.38A89.55,89.55 0 0 0 1689.67,2088.23Z" fill="#c8c8c8"/>
<path d="M1719.87,2099.00A119.40,119.40 0 0 1 1718.56,2114.35L1689.04,2109.89A89.55,89.55 0 0 0 1690.03,2098.38Z" fill="#c8c8c8"/>
<path d="M1718.56,2114.35A119.40,119.40 0 0 1 1715.83,2127.40L1687.00,2119.68A89.55,89.55 0 0 0 1689.04,2109.89Z" fill="#c8c8c8"/>
<path d="M1715.83,2127.40A119.40,119.40 0 0 1 1710.00,2144.11L1682.62,2132.21A89.55,89.55 0 0 0 1687.00,2119.68Z" fill="#c8c8c8"/>
<path d="M1710.00,2144.11A119.40,119.40 0 0 1 1704.42,2155.30L1678.44,2140.60A89.55,89.55 0 0 0 1682.62,2132.21Z" fill="#c8c8c8"/>
<path d="M1704.42,2155.30A119.40,119.40 0 0 1 1697.71,2165.84L1673.40,2148.50A89.55,89.55 0 0 0 1678.44,2140.60Z" fill="#c8c8c8"/>
<path d="M1693.94,2170.83A119.40,119.40 0 0 1 1686.39,2179.44L1664.92,2158.71A89.55,89.55 0 0 0 1670.58,2152.25Z" fill="#c8c8c8"/>
<path d="M1684.19,2181.66A119.40,119.40 0 0 1 1676.45,2188.63L1657.46,2165.60A89.55,89.55 0 0 0 1663.27,2160.37Z" fill="#c8c8c8"/>
<path d="M1661.10,2199.38A119.40,119.40 0 0 1 1652.28,2204.09L1639.33,2177.19A89.55,89.55 0 0 0 1645.95,2173.66Z" fill="#c8c8c8"/>
<path d="M1634.81,2210.86A119.40,119.40 0 0 1 1623.90,2213.59L1618.05,2184.31A89.55,89.55 0 0 0 1626.23,2182.27Z" fill="#c8c8c8"/>
<path d="M1606.33,2215.76A119.40,119.40 0 0 1 1562.61,2209.73L1572.09,2181.42A89.55,89.55 0 0 0 1604.87,2185.94Z" fill="#c8c8c8"/>
<path d="M1562.61,2209.73A119.40,119.40 0 0 1 1549.47,2204.45L1562.23,2177.46A89.55,89.55 0 0 0 1572.09,2181.42Z" fill="#c8c8c8"/>
<path d="M1549.47,2204.45A119.40,119.40 0 0 1 1514.90,2179.74L1536.30,2158.93A89.55,89.55 0 0 0 1562.23,2177.46Z" fill="#c8c8c8"/>
<path d="M1514.90,2179.74A119.40,119.40 0 0 1 1504.64,2167.69L1528.61,2149.89A89.55,89.55 0 0 0 1536.30,2158.93Z" fill="#c8c8c8"/>
<path d="M1504.64,2167.69A119.40,119.40 0 0 1 1491.00,2144.11L1518.38,2132.21A89.55,89.55 0 0 0 1528.61,2149.89Z" fill="#c8c8c8"/>
<path d="M1491.00,2144.11A119.40,119.40 0 0 1 1485.73,2129.41L1514.42,2121.18A89.55,89.55 0 0 0 1518.38,2132.21Z" fill="#c8c8c8"/>
<path d="M1485.73,2129.41A119.40,119.40 0 0 1 1482.57,2115.18L1512.05,2110.51A89.55,89.55 0 0 0 1514.42,2121.18Z" fill="#c8c8c8"/>
<path d="M1482.57,2115.18A119.40,119.40 0 0 1 1481.17,2100.67L1511.00,2099.63A89.55,89.55 0 0 0 1512.05,2110.51Z" fill="#c8c8c8"/>
<path d="M1481.17,2100.67A119.40,119.40 0 0 1 1481.65,2085.06L1511.36,2087.92A89.55,89.55 0 0 0 1511.00,2099.63Z" fill="#c8c8c8"/>
<path d="M1481.65,2085.06A119.40,119.40 0 0 1 1483.71,2071.68L1512.91,2077.88A89.55,89.55 0 0 0 1511.36,2087.92Z" fill="#c8c8c8"/>
<path d="M1483.71,2071.68A119.40,119.40 0 0 1 1488.44,2055.27L1516.46,2065.58A89.55,89.55 0 0 0 1512.91,2077.88Z" fill="#c8c8c8"/>
<path d="M1488.44,2055.27A119.40,119.40 0 0 1 1493.18,2044.16L1520.01,2057.24A89.55,89.55 0 0 0 1516.46,2065.58Z" fill="#c8c8c8"/>
<path d="M1493.18,2044.16A119.40,119.40 0 0 1 1499.24,2033.23L1524.56,2049.05A89.55,89.55 0 0 0 1520.01,2057.24Z" fill="#c8c8c8"/>
<path d="M1511.49,2016.92A119.40,119.40 0 0 1 1518.31,2009.89L1538.86,2031.54A89.55,89.55 0 0 0 1533.74,2036.81Z" fill="#c8c8c8"/>
<path d="M1521.38,2007.07A119.40,119.40 0 0 1 1529.81,2000.27L1547.49,2024.33A89.55,89.55 0 0 0 1541.16,2029.43Z" fill="#c8c8c8"/>
<path d="M1600.50,1947.25A149.25,149.25 0 0 1 1653.01,1956.79L1642.51,1984.73A119.40,119.40 0 0 0 1600.50,1977.10Z" fill="#c8c8c8"/>
<path d="M1653.01,1956.79A149.25,149.25 0 0 1 1669.42,1964.11L1655.63,1990.59A119.40,119.40 0 0 0 1642.51,1984.73Z" fill="#c8c8c8"/>
<path d="M1670.57,1964.72A149.25,149.25 0 0 1 1685.46,1973.80L1668.47,1998.34A119.40,119.40 0 0 0 1656.55,1991.08Z" fill="#c8c8c8"/>
<path d="M1685.46,1973.80A149.25,149.25 0 0 1 1699.40,1984.72L1679.62,2007.07A119.40,119.40 0 0 0 1668.47,1998.34Z" fill="#c8c8c8"/>
<path d="M1749.11,2082.71A149.25,149.25 0 0 1 1749.72,2099.63L1719.87,2099.00A119.40,119.40 0 0 0 1719.39,2085.47Z" fill="#c8c8c8"/>
<path d="M1749.72,2099.63A149.25,149.25 0 0 1 1748.07,2118.82L1718.56,2114.35A119.40,119.40 0 0 0 1719.87,2099.00Z" fill="#c8c8c8"/>
<path d="M1748.07,2118.82A149.25,149.25 0 0 1 1744.66,2135.13L1715.83,2127.40A119.40,119.40 0 0 0 1718.56,2114.35Z" fill="#c8c8c8"/>
<path d="M1717.30,2189.41A149.25,149.25 0 0 1 1708.76,2199.24L1687.11,2178.69A119.40,119.40 0 0 0 1693.94,2170.83Z" fill="#c8c8c8"/>
<path d="M1705.11,2202.95A149.25,149.25 0 0 1 1695.43,2211.66L1676.45,2188.63A119.40,119.40 0 0 0 1684.19,2181.66Z" fill="#c8c8c8"/>
<path d="M1676.25,2225.10A149.25,149.25 0 0 1 1665.22,2230.99L1652.28,2204.09A119.40,119.40 0 0 0 1661.10,2199.38Z" fill="#c8c8c8"/>
<path d="M1607.27,2245.60A149.25,149.25 0 0 1 1589.57,2245.35L1591.76,2215.58A119.40,119.40 0 0 0 1605.92,2215.78Z" fill="#c8c8c8"/>
<path d="M1589.57,2245.35A149.25,149.25 0 0 1 1572.53,2243.11L1578.13,2213.79A119.40,119.40 0 0 0 1591.76,2215.58Z" fill="#c8c8c8"/>
<path d="M1572.53,2243.11A149.25,149.25 0 0 1 1556.12,2239.00L1564.99,2210.50A119.40,119.40 0 0 0 1578.13,2213.79Z" fill="#c8c8c8"/>
<path d="M1536.48,2231.32A149.25,149.25 0 0 1 1522.96,2224.03L1538.47,2198.52A119.40,119.40 0 0 0 1549.29,2204.36Z" fill="#c8c8c8"/>
<path d="M1521.41,2223.07A149.25,149.25 0 0 1 1507.59,2213.30L1526.17,2189.94A119.40,119.40 0 0 0 1537.23,2197.76Z" fill="#c8c8c8"/>
<path d="M1505.57,2211.66A149.25,149.25 0 0 1 1494.05,2201.11L1515.34,2180.19A119.40,119.40 0 0 0 1524.55,2188.63Z" fill="#c8c8c8"/>
<path d="M1479.75,2184.23A149.25,149.25 0 0 1 1471.90,2172.25L1497.62,2157.10A119.40,119.40 0 0 0 1503.90,2166.68Z" fill="#c8c8c8"/>
<path d="M1470.60,2169.99A149.25,149.25 0 0 1 1463.63,2156.01L1491.00,2144.11A119.40,119.40 0 0 0 1496.58,2155.30Z" fill="#c8c8c8"/>
<path d="M1460.43,2044.96A149.25,149.25 0 0 1 1466.35,2031.07L1493.18,2044.16A119.40,119.40 0 0 0 1488.44,2055.27Z" fill="#c8c8c8"/>
<path d="M1467.52,2028.74A149.25,149.25 0 0 1 1475.33,2015.21L1500.36,2031.47A119.40,119.40 0 0 0 1494.11,2042.29Z" fill="#c8c8c8"/>
<path d="M1488.37,1997.99A149.25,149.25 0 0 1 1498.71,1987.35L1519.07,2009.18A119.40,119.40 0 0 0 1510.80,2017.70Z" fill="#c8c8c8"/>
<path d="M1501.02,1985.24A149.25,149.25 0 0 1 1513.20,1975.45L1530.66,1999.66A119.40,119.40 0 0 0 1520.92,2007.49Z" fill="#c8c8c8"/>
<path d="M1600.50,1917.40A179.10,179.10 0 0 1 1620.77,1918.55L1617.40,1948.21A149.25,149.25 0 0 0 1600.50,1947.25Z" fill="#c8c8c8"/>
<path d="M1620.77,1918.55A179.10,179.10 0 0 1 1642.31,1922.35L1635.34,1951.37A149.25,149.25 0 0 0 1617.40,1948.21Z" fill="#c8c8c8"/>
<path d="M1642.31,1922.35A179.10,179.10 0 0 1 1663.51,1928.85L1653.01,1956.79A149.25,149.25 0 0 0 1635.34,1951.37Z" fill="#c8c8c8"/>
<path d="M1779.56,2100.25A179.10,179.10 0 0 1 1777.59,2123.28L1748.07,2118.82A149.25,149.25 0 0 0 1749.72,2099.63Z" fill="#c8c8c8"/>
<path d="M1777.59,2123.28A179.10,179.10 0 0 1 1773.50,2142.85L1744.66,2135.13A149.25,149.25 0 0 0 1748.07,2118.82Z" fill="#c8c8c8"/>
<path d="M1726.03,2224.24A179.10,179.10 0 0 1 1714.42,2234.70L1695.43,2211.66A149.25,149.25 0 0 0 1705.11,2202.95Z" fill="#c8c8c8"/>
<path d="M1440.92,2015.19A179.10,179.10 0 0 1 1450.29,1998.96L1475.33,2015.21A149.25,149.25 0 0 0 1467.52,2028.74Z" fill="#c8c8c8"/>
<circle cx="1600.5" cy="2096.5" r="29.85" fill="#4d4d4d"/>
</g>
<text x="636.0" y="1569.8" font-size="28">Synapse</text>
<line x1="694.2" y1="1578.9" x2="743.7" y2="1713.7" stroke="#000" stroke-width="1.8"/>
<text x="824.7" y="1564.7" font-size="28">PSD</text>
<line x1="808.1" y1="1570.1" x2="884.3" y2="1570.1" stroke="#000" stroke-width="1.8"/>
<line x1="808.1" y1="1570.1" x2="773.4" y2="1617.0" stroke="#000" stroke-width="1.8"/>
<text x="551.2" y="1714.3" font-size="28">Presynapse</text>
<line x1="537.6" y1="1722.8" x2="707.5" y2="1722.8" stroke="#000" stroke-width="1.8"/>
<text x="823.2" y="1723.4" font-size="28">Postsynapse</text>
<line x1="787.9" y1="1733.0" x2="991.0" y2="1733.0" stroke="#000" stroke-width="1.8"/>
<text x="468.7" y="1788.3" font-size="28">Synaptic vesicle</text>
<line x1="462.1" y1="1800.4" x2="669.7" y2="1800.4" stroke="#000" stroke-width="1.8"/>
<line x1="669.7" y1="1800.4" x2="692.7" y2="1777.1" stroke="#000" stroke-width="1.8"/>
<text x="1803.6" y="1471.3" font-size="24">-Log<tspan font-size="15.5" font-weight="bold">10</tspan> (Q-value)</text>
<rect x="1802.0" y="1479.7" width="23.4" height="22.7" fill="#c8c8c8"/>
<text x="1830.0" y="1499.2" font-size="24">too few genes</text>
<rect x="1802.0" y="1508.6" width="23.4" height="22.7" fill="#4d4d4d"/>
<text x="1830.0" y="1528.1" font-size="24">not significant</text>
<rect x="1802.0" y="1537.4" width="23.4" height="22.7" fill="#9db8d8"/>
<text x="1830.0" y="1556.9" font-size="24">≥2</text>
<rect x="1802.0" y="1566.3" width="23.4" height="22.7" fill="#8c95c7"/>
<text x="1830.0" y="1585.8" font-size="24">≥3</text>
<rect x="1802.0" y="1595.1" width="23.4" height="22.7" fill="#7a6bb5"/>
<text x="1830.0" y="1614.6" font-size="24">≥4</text>
<rect x="1802.0" y="1624.0" width="23.4" height="22.7" fill="#8b5c9a"/>
<text x="1830.0" y="1643.5" font-size="24">≥5</text>
<rect x="1802.0" y="1652.9" width="23.4" height="22.7" fill="#955073"/>
<text x="1830.0" y="1672.4" font-size="24">≥6</text>
<rect x="1802.0" y="1681.7" width="23.4" height="22.7" fill="#a6405a"/>
<text x="1830.0" y="1701.2" font-size="24">≥7</text>
<rect x="1802.0" y="1710.6" width="23.4" height="22.7" fill="#b83840"/>
<text x="1830.0" y="1730.1" font-size="24">≥8</text>
<rect x="1802.0" y="1739.4" width="23.4" height="22.7" fill="#c83a2c"/>
<text x="1830.0" y="1758.9" font-size="24">≥9</text>
</svg>
</body></html>
